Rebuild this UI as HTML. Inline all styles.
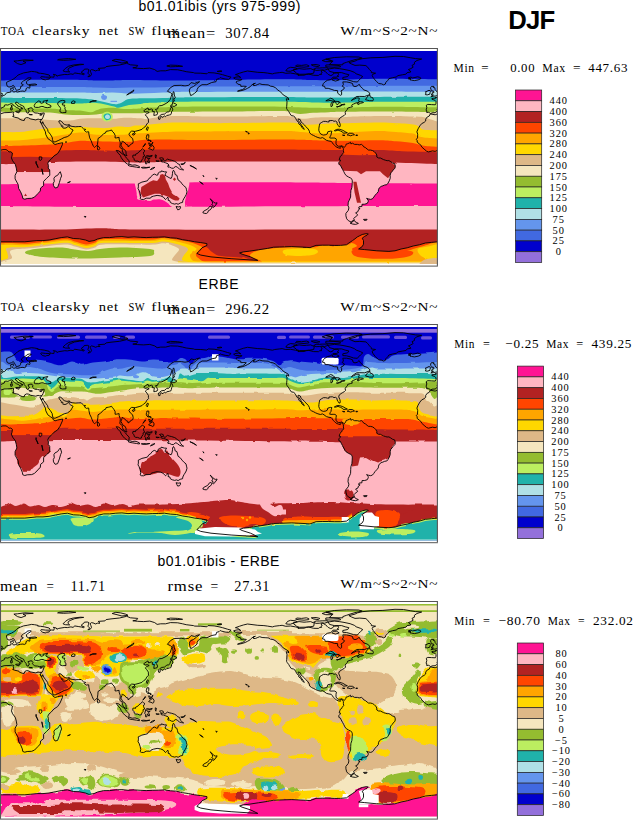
<!DOCTYPE html><html><head><meta charset="utf-8"><title>DJF</title><style>html,body{margin:0;padding:0;background:#fff}svg{display:block}</style></head><body><svg width="634" height="820" viewBox="0 0 634 820"><defs>
<path id="coast" d="M-6.7,-43.3L-1.9,-42.4L0.5,-43.3L4.1,-44.5L9,-44.7L12.6,-45.1L13.9,-44.7L13.2,-43.5L13.9,-41.1L12.6,-40.8L14.5,-40L18.7,-39.1L19.3,-38.1L22.3,-36.9L24.2,-36.7L24.8,-38.7L26.6,-39.6L28.4,-39.4L30.8,-38.2L35.7,-37.3L38.1,-38.1L39.7,-37.7L42,-37.8L40.1,-36.1L41.2,-33.8L43.6,-29L45.4,-25.4L45.8,-22.7L47.8,-18.7L50.3,-16.9L52.9,-15.1L53.1,-13.9L55.1,-12.7L57.6,-13.5L62.7,-14.5L62.4,-12.6L60,-7.2L57.6,-3.6L53.9,-1.2L50.9,2.2L49.1,3.6L47.8,6L48.4,8.5L48.2,10.9L49.7,12.7L49.8,18.1L46.6,21.1L43.6,24.2L43.6,28.4L40.6,30.8L40.3,33.8L38.1,36.2L34.5,39.9L31.7,41.1L27.2,41.3L24.8,42L22.8,41.3L22.3,38.7L20.5,34.4L18.7,31.4L18.1,27.2L15.1,21.7L15.1,18.1L16.9,14.5L16.3,10.9L15.3,7.2L12.6,3.6L11.4,0.6L12,-1.2L12.4,-4.2L10.8,-5.4L9,-5.3L7.2,-7L6,-7.6L2.9,-7.6L0.5,-6.9L-1.9,-5.8L-4.4,-6.3L-8.6,-5.3L-10.4,-6L-12.9,-8.1L-15.3,-10.3L-15.9,-11.8L-17.7,-13.3L-19.8,-15.1L-19.9,-16.9L-20.7,-17.8L-19.5,-19.3L-19.3,-23L-20.1,-25.4L-18.9,-28.4L-17.1,-31.4L-15.3,-33.6L-12.9,-34.8L-11.3,-36.2L-11.3,-38.1L-9.8,-40.2L-7.8,-41.1L-6.7,-43.3M430.3,-43.3L435.1,-42.4L437.5,-43.3L441.1,-44.5L446,-44.7L449.6,-45.1L450.9,-44.7L450.2,-43.5L450.9,-41.1L449.6,-40.8L451.5,-40L455.7,-39.1L456.3,-38.1L459.3,-36.9L461.2,-36.7L461.8,-38.7L463.6,-39.6L465.4,-39.4L467.8,-38.2L472.7,-37.3L475.1,-38.1L476.7,-37.7L479,-37.8L477.1,-36.1L478.2,-33.8L480.6,-29L482.4,-25.4L482.8,-22.7L484.8,-18.7L487.3,-16.9L489.9,-15.1L490.1,-13.9L492.1,-12.7L494.6,-13.5L499.7,-14.5L499.4,-12.6L497,-7.2L494.6,-3.6L490.9,-1.2L487.9,2.2L486.1,3.6L484.8,6L485.4,8.5L485.2,10.9L486.7,12.7L486.8,18.1L483.6,21.1L480.6,24.2L480.6,28.4L477.6,30.8L477.3,33.8L475.1,36.2L471.5,39.9L468.7,41.1L464.2,41.3L461.8,42L459.8,41.3L459.3,38.7L457.5,34.4L455.7,31.4L455.1,27.2L452.1,21.7L452.1,18.1L453.9,14.5L453.3,10.9L452.3,7.2L449.6,3.6L448.4,0.6L449,-1.2L449.4,-4.2L447.8,-5.4L446,-5.3L444.2,-7L443,-7.6L439.9,-7.6L437.5,-6.9L435.1,-5.8L432.6,-6.3L428.4,-5.3L426.6,-6L424.1,-8.1L421.7,-10.3L421.1,-11.8L419.3,-13.3L417.2,-15.1L417.1,-16.9L416.3,-17.8L417.5,-19.3L417.7,-23L416.9,-25.4L418.1,-28.4L419.9,-31.4L421.7,-33.6L424.1,-34.8L425.7,-36.2L425.7,-38.1L427.2,-40.2L429.2,-41.1L430.3,-43.3M60.3,14.5L61.6,18.7L60.6,21.1L59.4,25.4L57.6,30.2L55.1,30.8L53.5,28.4L53.3,26L54.3,24.2L53.9,21.1L55.1,19.3L57.6,18.1L58.8,16.3L60.3,14.5M42,-37.8L43,-39.9L44.2,-43.3L44.2,-44.3L41.8,-43.9L39.3,-43.6L37.5,-44.1L34.5,-44.3L33.6,-45.3L32.4,-46.5L33,-47.7L32.3,-48.6L32.1,-49.3L29.6,-49.3L29,-48.3L28.1,-48.9L28.4,-47.5L29.6,-45.9L28.4,-45.3L28.4,-44.1L27.2,-44.1L26.4,-45.3L26,-46.9L24.2,-48.9L24,-50.5L22.3,-51.6L19.9,-52.6L18.7,-53.8L17.5,-54.6L17,-55.1L15.6,-54.7L15.4,-53.5L16.9,-52.7L17.7,-51.2L19.9,-50.5L23,-48.7L22.3,-48.3L21,-48.8L20.7,-47.7L21.3,-47.1L20,-45.9L19.6,-45.9L19.9,-47.1L19.4,-48.3L18.1,-49.1L16.3,-49.8L14.8,-51L13.2,-52L12.9,-53L11.2,-53.6L9.6,-52.9L7.8,-52.1L6,-52.4L4.4,-52L4.4,-50.6L2.9,-49.9L1.1,-49.1L0.1,-47.7L0.7,-46.9L-0.3,-45.6L-1.9,-44.5L-5,-44.3L-6.3,-43.5L-7.1,-44.2L-8.5,-44.9L-10.3,-44.7L-10.2,-46.5L-11,-46.9L-10.2,-49.5L-10.7,-52L-9.2,-52.8L-5.6,-52.6L-1.7,-52.4L-1,-53.9L-1,-55.6L-2.2,-57L-5,-57.9L-5.2,-58.6L-3.1,-59L-1.4,-58.8L-1.7,-60.1L-1,-59.7L0.6,-59.8L2.3,-60.7L2.6,-61.6L4.7,-62.1L6,-63.4L6.6,-64.4L9,-64.8L10.8,-65.2L11.1,-66.5L10.5,-68.6L12,-69.1L13.4,-69.7L13,-68.4L13.6,-67.7L12.4,-66.7L12.6,-65.9L13.9,-65.2L15.7,-65.7L17.5,-65.2L20.5,-65.9L23,-66.2L24.2,-65.7L26,-66.7L26,-68.6L27.8,-69.7L29.6,-69L30.1,-70.4L29,-71.5L31.5,-71.9L34.5,-72L36.9,-72.5L35.1,-73.2L32.1,-73L28.4,-72.5L26.6,-73.5L26.4,-75.5L27.8,-76.7L30.8,-78.5L31.2,-79.3L29.4,-79.5L27.2,-79L26.4,-77.8L23.6,-76.4L21.5,-74.6L21.4,-73.3L23.3,-72.5L22.3,-71.3L20.8,-70.9L20.5,-68.9L19.9,-67.9L17.9,-67.2L16.3,-66.9L15.8,-67.9L14.8,-69.7L13.9,-71.3L13.2,-71.9L11.4,-70.7L9,-70.1L7.2,-71L6.6,-73.1L6.6,-74.9L9,-76.1L11.4,-77L13.9,-78.5L16.3,-80.4L18.1,-82.2L20.5,-83.1L23.6,-84.3L27.2,-84.9L31.5,-85.8L34.5,-85.5L38.1,-84.8L37.5,-84.2L40.6,-83.9L44.2,-83.4L49.1,-82.2L50.3,-80.7L49.1,-80L45.4,-80.1L41.2,-80.6L40.6,-79.7L42.7,-77.9L45.4,-77.3L46.6,-77.9L49.1,-78.2L49.7,-79.5L51.5,-80.2L53.9,-80L54.2,-81.9L53.3,-82.9L56.3,-82.2L56.9,-81L58.8,-81.8L64.8,-82.8L67.3,-82.6L70.9,-83.3L73.3,-82.8L74.5,-84.3L78.2,-83.7L81.8,-83.1L83.7,-82.4L84.3,-83.4L81.8,-84.1L81.6,-85.5L83.7,-86.8L84.3,-88L87.3,-88.2L88.9,-87.6L88.5,-85.8L87.9,-84L89.7,-82.2L87.9,-80.4L90.3,-81L91.5,-82.8L90.9,-84.6L90,-86.4L91.5,-87.6L94,-87L95.2,-86.2L97.6,-87L100,-87L98.2,-88.8L104.9,-89.3L106.1,-90.6L111,-91.3L119.5,-92.2L126.7,-93.9L130.4,-92.4L137.7,-91.8L136.5,-90L132.8,-89.4L137.7,-88.9L143.7,-88.6L149.8,-89.1L154.7,-87.6L157.1,-85.8L160.7,-86.4L165.6,-86.4L170.4,-87.6L177.7,-87.4L182.6,-86.4L186.2,-85.5L193.5,-84.6L194.7,-84.1L200.8,-84L206.9,-83.4L208.1,-84.6L214.1,-84.3L219,-83.4L222.6,-82.5L227.5,-81L231.1,-80L228.7,-77.8L225.1,-78.2L221.4,-79.1L220.2,-79.7L219,-78.5L216.6,-77.9L216,-75.5L211.7,-74.7L206.9,-72.5L202,-72.5L198.4,-70.1L197.1,-67.7L197.1,-66.2L194.7,-64L192.7,-62.6L190.7,-61.6L189.9,-64L189.3,-67.1L190.5,-69.5L193.5,-70.7L196.5,-73.1L199.6,-75.5L197.1,-74.9L194.7,-73.7L191.1,-74.6L188.7,-71.9L185,-71.3L181.4,-71.9L174.1,-71.7L170.4,-69.5L167.4,-65.9L170.4,-64.6L172,-63.1L171.1,-60.4L170.4,-58L168,-55L165,-53.2L161.9,-51.7L159.5,-51.4L158.1,-50.1L157.7,-48.3L155.3,-47.7L156.5,-46.5L157.6,-44.1L157.1,-42.5L155.3,-42L153.8,-41.8L154.1,-44.1L154.4,-45.7L152.2,-45.9L152.5,-47.7L151.3,-48.3L148.6,-47.2L148,-49.3L145,-47.4L143.7,-46.3L145,-45.1L147.4,-45.6L149.2,-44.7L146.8,-43.7L145.3,-42.3L146.8,-40.5L148.4,-38.1L148.4,-36.2L148.6,-35L146.8,-33.2L145.6,-30.8L143.7,-29.6L141.9,-27.8L139.1,-26.9L135.8,-26L134,-25.7L134.6,-24.5L133.8,-26L131.6,-26.1L130,-24.8L128.9,-23L130.4,-20.5L132.6,-18.7L133.2,-15.7L132.8,-13.9L130.4,-12.7L129.8,-11.5L128,-10.5L128,-12.1L126.1,-12.8L124.9,-14.5L123.1,-15.5L122.3,-16.3L121.9,-14.5L120.9,-12.1L121.9,-10.3L123.1,-8.2L124.7,-7.5L126,-5.4L126.1,-3L127,-1.7L126,-1.6L123.5,-3.4L122.4,-6L122.3,-7.9L119.8,-9.9L120.1,-12.1L120.3,-14.5L119.1,-18.1L119.1,-19.9L116.4,-19.3L115,-19.3L115.2,-21.7L114,-24.2L112.2,-26L111.6,-27.2L109.7,-26.6L108.5,-26.3L106.1,-25.9L105.5,-24.2L103.7,-23.6L100.6,-20.3L98,-18.7L97.9,-16.1L97.4,-12.4L96.4,-11.2L95.4,-10.6L94.6,-9.8L93.4,-10.9L92.1,-13.9L91.2,-16.3L89.7,-19.3L88.9,-23L88.7,-25.4L87.9,-25.4L86.4,-25.1L84.3,-26.8L85.7,-27.8L83.7,-28.2L82.2,-29.6L81.2,-30.7L78.2,-30.6L75.2,-30.4L72.1,-30.8L69.9,-31.4L69.4,-32.6L67,-32.1L64.8,-32.6L63,-33.8L61.8,-35.6L60,-36.6L58.8,-36.2L59.4,-34.4L61.2,-32.3L61.4,-30.8L62.7,-31.4L63,-30.2L62.7,-29.4L63.6,-29L66,-29.2L68.5,-31.1L69,-31.8L69.1,-30L70.3,-28.8L71.9,-27.8L73.1,-27.2L71.8,-25L70.7,-23L69.1,-21.7L67.3,-20.5L64.2,-19.7L61.2,-18.1L58.2,-16.6L55.1,-15.3L53.3,-15.3L52.5,-17.5L52.2,-19.9L50.3,-23L48.1,-25.7L47.6,-27.8L45.7,-30.4L43.6,-33.2L42.7,-35.5L42.1,-33.6L40.8,-34.4L40.1,-36.1M479,-37.8L480,-39.9L481.2,-43.3L481.2,-44.3L478.8,-43.9L476.3,-43.6L474.5,-44.1L471.5,-44.3L470.6,-45.3L469.4,-46.5L470,-47.7L469.3,-48.6L469.1,-49.3L466.6,-49.3L466,-48.3L465.1,-48.9L465.4,-47.5L466.6,-45.9L465.4,-45.3L465.4,-44.1L464.2,-44.1L463.4,-45.3L463,-46.9L461.2,-48.9L461,-50.5L459.3,-51.6L456.9,-52.6L455.7,-53.8L454.5,-54.6L454,-55.1L452.6,-54.7L452.4,-53.5L453.9,-52.7L454.7,-51.2L456.9,-50.5L460,-48.7L459.3,-48.3L458,-48.8L457.7,-47.7L458.3,-47.1L457,-45.9L456.6,-45.9L456.9,-47.1L456.4,-48.3L455.1,-49.1L453.3,-49.8L451.8,-51L450.2,-52L449.9,-53L448.2,-53.6L446.6,-52.9L444.8,-52.1L443,-52.4L441.4,-52L441.4,-50.6L439.9,-49.9L438.1,-49.1L437.1,-47.7L437.7,-46.9L436.7,-45.6L435.1,-44.5L432,-44.3L430.7,-43.5L429.9,-44.2L428.5,-44.9L426.7,-44.7L426.8,-46.5L426,-46.9L426.8,-49.5L426.3,-52L427.8,-52.8L431.4,-52.6L435.3,-52.4L436,-53.9L436,-55.6L434.8,-57L432,-57.9L431.8,-58.6L433.9,-59L435.6,-58.8L435.3,-60.1L436,-59.7L437.6,-59.8L439.3,-60.7L439.6,-61.6L441.7,-62.1L443,-63.4L443.6,-64.4L446,-64.8L447.8,-65.2L448.1,-66.5L447.5,-68.6L449,-69.1L450.4,-69.7L450,-68.4L450.6,-67.7L449.4,-66.7L449.6,-65.9L450.9,-65.2L452.7,-65.7L454.5,-65.2L457.5,-65.9L460,-66.2L461.2,-65.7L463,-66.7L463,-68.6L464.8,-69.7L466.6,-69L467.1,-70.4L466,-71.5L468.5,-71.9L471.5,-72L473.9,-72.5L472.1,-73.2L469.1,-73L465.4,-72.5L463.6,-73.5L463.4,-75.5L464.8,-76.7L467.8,-78.5L468.2,-79.3L466.4,-79.5L464.2,-79L463.4,-77.8L460.6,-76.4L458.5,-74.6L458.4,-73.3L460.3,-72.5L459.3,-71.3L457.8,-70.9L457.5,-68.9L456.9,-67.9L454.9,-67.2L453.3,-66.9L452.8,-67.9L451.8,-69.7L450.9,-71.3L450.2,-71.9L448.4,-70.7L446,-70.1L444.2,-71L443.6,-73.1L443.6,-74.9L446,-76.1L448.4,-77L450.9,-78.5L453.3,-80.4L455.1,-82.2L457.5,-83.1L460.6,-84.3L464.2,-84.9L468.5,-85.8L471.5,-85.5L475.1,-84.8L474.5,-84.2L477.6,-83.9L481.2,-83.4L486.1,-82.2L487.3,-80.7L486.1,-80L482.4,-80.1L478.2,-80.6L477.6,-79.7L479.7,-77.9L482.4,-77.3L483.6,-77.9L486.1,-78.2L486.7,-79.5L488.5,-80.2L490.9,-80L491.2,-81.9L490.3,-82.9L493.3,-82.2L493.9,-81L495.8,-81.8L501.8,-82.8L504.3,-82.6L507.9,-83.3L510.3,-82.8L511.5,-84.3L515.2,-83.7L518.8,-83.1L520.7,-82.4L521.3,-83.4L518.8,-84.1L518.6,-85.5L520.7,-86.8L521.3,-88L524.3,-88.2L525.9,-87.6L525.5,-85.8L524.9,-84L526.7,-82.2L524.9,-80.4L527.3,-81L528.5,-82.8L527.9,-84.6L527,-86.4L528.5,-87.6L531,-87L532.2,-86.2L534.6,-87L537,-87L535.2,-88.8L541.9,-89.3L543.1,-90.6L548,-91.3L556.5,-92.2L563.7,-93.9L567.4,-92.4L574.7,-91.8L573.5,-90L569.8,-89.4L574.7,-88.9L580.7,-88.6L586.8,-89.1L591.7,-87.6L594.1,-85.8L597.7,-86.4L602.6,-86.4L607.4,-87.6L614.7,-87.4L619.6,-86.4L623.2,-85.5L630.5,-84.6L631.7,-84.1L637.8,-84L643.9,-83.4L645.1,-84.6L651.1,-84.3L656,-83.4L659.6,-82.5L664.5,-81L668.1,-80L665.7,-77.8L662.1,-78.2L658.4,-79.1L657.2,-79.7L656,-78.5L653.6,-77.9L653,-75.5L648.7,-74.7L643.9,-72.5L639,-72.5L635.4,-70.1L634.1,-67.7L634.1,-66.2L631.7,-64L629.7,-62.6L627.7,-61.6L626.9,-64L626.3,-67.1L627.5,-69.5L630.5,-70.7L633.5,-73.1L636.6,-75.5L634.1,-74.9L631.7,-73.7L628.1,-74.6L625.7,-71.9L622,-71.3L618.4,-71.9L611.1,-71.7L607.4,-69.5L604.4,-65.9L607.4,-64.6L609,-63.1L608.1,-60.4L607.4,-58L605,-55L602,-53.2L598.9,-51.7L596.5,-51.4L595.1,-50.1L594.7,-48.3L592.3,-47.7L593.5,-46.5L594.6,-44.1L594.1,-42.5L592.3,-42L590.8,-41.8L591.1,-44.1L591.4,-45.7L589.2,-45.9L589.5,-47.7L588.3,-48.3L585.6,-47.2L585,-49.3L582,-47.4L580.7,-46.3L582,-45.1L584.4,-45.6L586.2,-44.7L583.8,-43.7L582.3,-42.3L583.8,-40.5L585.4,-38.1L585.4,-36.2L585.6,-35L583.8,-33.2L582.6,-30.8L580.7,-29.6L578.9,-27.8L576.1,-26.9L572.8,-26L571,-25.7L571.6,-24.5L570.8,-26L568.6,-26.1L567,-24.8L565.9,-23L567.4,-20.5L569.6,-18.7L570.2,-15.7L569.8,-13.9L567.4,-12.7L566.8,-11.5L565,-10.5L565,-12.1L563.1,-12.8L561.9,-14.5L560.1,-15.5L559.3,-16.3L558.9,-14.5L557.9,-12.1L558.9,-10.3L560.1,-8.2L561.7,-7.5L563,-5.4L563.1,-3L564,-1.7L563,-1.6L560.5,-3.4L559.4,-6L559.3,-7.9L556.8,-9.9L557.1,-12.1L557.3,-14.5L556.1,-18.1L556.1,-19.9L553.4,-19.3L552,-19.3L552.2,-21.7L551,-24.2L549.2,-26L548.6,-27.2L546.8,-26.6L545.5,-26.3L543.1,-25.9L542.5,-24.2L540.7,-23.6L537.6,-20.3L535,-18.7L534.9,-16.1L534.4,-12.4L533.4,-11.2L532.4,-10.6L531.6,-9.8L530.4,-10.9L529.1,-13.9L528.2,-16.3L526.7,-19.3L525.9,-23L525.7,-25.4L524.9,-25.4L523.4,-25.1L521.3,-26.8L522.7,-27.8L520.7,-28.2L519.2,-29.6L518.2,-30.7L515.2,-30.6L512.2,-30.4L509.1,-30.8L506.9,-31.4L506.4,-32.6L504,-32.1L501.8,-32.6L500,-33.8L498.8,-35.6L497,-36.6L495.8,-36.2L496.4,-34.4L498.2,-32.3L498.4,-30.8L499.7,-31.4L500,-30.2L499.7,-29.4L500.6,-29L503,-29.2L505.5,-31.1L506,-31.8L506.1,-30L507.3,-28.8L508.9,-27.8L510.1,-27.2L508.8,-25L507.7,-23L506.1,-21.7L504.3,-20.5L501.2,-19.7L498.2,-18.1L495.2,-16.6L492.1,-15.3L490.3,-15.3L489.5,-17.5L489.2,-19.9L487.3,-23L485.1,-25.7L484.6,-27.8L482.7,-30.4L480.6,-33.2L479.7,-35.5L479.1,-33.6L477.8,-34.4L477.1,-36.1M233.6,-79.3L236,-80.1L238.4,-80.4L240.8,-79.7L239,-81L237.2,-82.2L235.4,-82.5L239.6,-84L243.3,-85.2L247.5,-86.2L253,-85.5L257.8,-84.9L263.9,-84.6L267.6,-84.1L272.4,-83.3L274.8,-84L279.7,-84.6L282.1,-84.9L285.8,-83.9L290.6,-84.2L295.5,-83.3L299.1,-82.4L297.9,-81.9L304,-82L306.4,-82.8L308.8,-83.1L313.7,-81.9L318.5,-81.8L319.8,-82.8L321.6,-82.8L321,-84L322.2,-84.6L321,-86.2L322.8,-87L325.8,-85.2L327,-84L328.2,-82.8L330.7,-81.6L332.5,-82.2L333.7,-84L338,-84.3L338.6,-82.8L337.4,-81.6L338.8,-81L336.1,-80L333.1,-80.1L331.9,-78.9L330.7,-77.6L327.6,-77L325.2,-75.5L323.4,-73.7L322.4,-71.3L324.6,-70.9L325.2,-68.9L328.2,-68.9L331.9,-67.7L334.3,-66.8L337.6,-66.6L337.7,-64L339.2,-62.8L340.4,-61.9L341.6,-62.5L341.6,-65.2L340.8,-66.2L343.4,-67.7L344.5,-69.5L342.2,-71L343.4,-72.5L342.8,-75.3L346.5,-75.3L350.1,-74.6L352.5,-73.7L353.1,-71.3L355,-70.6L357.4,-71.3L359.1,-73L360.4,-70.7L362.5,-68.9L363.5,-67.4L367.1,-66.2L369.5,-64.4L369.9,-62.8L368.3,-62.1L364.7,-60.7L359.8,-60.8L356.8,-60.7L353.7,-58.8L351.3,-56.7L353.7,-57.8L356.8,-59.3L359.2,-59.2L359.2,-58L358.6,-57L358.8,-55.8L360.4,-55.5L362.8,-55.2L363.5,-54.7L360.4,-53.9L358,-52.6L357.1,-53.5L359.2,-54.7L356.2,-54.4L353.7,-53.2L352.2,-52.6L351.7,-51.4L352.5,-50.5L350.7,-50L347.7,-49.1L347.4,-47.7L346.1,-46.5L345.2,-44.9L345.5,-43L344.4,-41.9L342.8,-41L341,-39.9L339.2,-38.4L338.7,-36.6L339.8,-34.1L340.3,-32L339.9,-30.4L338.9,-30.6L338.2,-31.8L337.1,-33.5L337.1,-35L335.5,-36.2L334,-35.9L332.5,-36.7L330.1,-36.6L328.9,-36.5L329.1,-35.3L327.6,-35.3L325.8,-35.8L323.4,-35.8L321.8,-34.9L319.8,-33.6L319.3,-31.4L318.9,-29L318.8,-26.9L319.5,-24.9L320.7,-23.2L322.2,-22.5L323.4,-22.1L325.8,-22.5L327.3,-23.3L327.8,-25.4L330.7,-26.1L331.9,-25.9L331.3,-24.2L331,-22.1L330.3,-21.1L329.7,-19.3L330.7,-19.1L333.1,-19.2L334.9,-19.1L336.4,-18.1L336,-15.7L336,-13.3L337,-11.7L338.6,-10.9L340.4,-11.1L341.6,-11.5L343.4,-10.4L344.3,-9.7L345.7,-11.6L346.1,-13L347.7,-13.5L349.7,-14.4L350.5,-15L350.9,-13.3L352.5,-14L354.6,-12.8L357.4,-12.8L359.2,-12.3L361.6,-12.8L362.5,-12.1L363.7,-10.4L365.3,-9.7L367.1,-8.2L368.3,-7.2L370.7,-7.1L372.6,-6.6L374.4,-5.4L375.6,-4.2L376.8,-2.2L376.8,-0.2L378.6,0.8L380.4,0.8L383.5,2.4L385.3,3L387.1,3.5L388.9,3.4L390.8,4.5L392.6,5.8L394.6,6.4L395.3,8.7L395,10.9L393.2,12.8L392,14.5L390.8,15.7L390.2,18.1L390.2,21.1L389.3,23.6L388,26L386.8,27.5L384.7,27.8L382.9,28.6L381.1,29.2L379.2,30.8L378.5,32.6L378.3,34.4L376.8,36.2L375,38.1L373.8,39.9L372.4,41.6L370.7,42.2L368.3,41.7L366.6,41.1L368.1,42.9L368.3,44.1L367.3,46.2L364.7,47L362,47.1L361.9,49.3L359.2,49.5L358.6,51L360.1,51.4L358.4,52.6L358,54.4L355.6,55.6L357.4,57.4L357.6,58L355.2,59.8L353.7,61.4L354.5,63.2L353.1,63.4L351.3,65L348.3,63.4L346.7,61.6L345.9,58.6L345.9,56.2L348.3,53.2L348.9,50.7L348,48.3L348.3,44.9L349.3,42.9L350.6,39.9L350.7,36.2L350.9,33.2L351.9,30.2L352.2,26.6L352.3,23.6L352,22.1L350.7,20.9L348.3,19.7L346.2,18.4L344.9,16.7L343.8,14.5L342.5,12.1L341.2,9.7L340.4,7.9L338.9,7.2L338.8,5.4L340,4.1L340.6,3L339.2,2.7L339.8,0.6L340.4,-1L341.8,-1.8L342.2,-3L343.7,-4.6L343.4,-6.6L343.4,-8.5L342.6,-10L341,-10.8L340,-9.9L340.4,-8.9L338.6,-9.3L337,-9.9L335.9,-10.6L334.3,-12.1L333.3,-13L331.9,-15.1L331.2,-15.9L328.9,-16.2L326.4,-16.9L324,-18.7L322.5,-19.6L320.4,-19L317.9,-19.7L315.5,-20.7L313.7,-21.7L311.5,-22.7L309.6,-24.3L309.4,-26L308.2,-28.2L305.8,-30.6L304.6,-32.1L302.8,-33.8L301.2,-35L300.3,-37.5L298.3,-38.3L298.1,-36.9L300,-34.4L301.5,-32L303.4,-29.4L304.3,-27.8L303.7,-28.2L301.5,-30L301.3,-31.4L298.9,-33.2L298.5,-34.8L296.9,-36.5L295.7,-38.7L295.1,-39.9L293.7,-41.1L291.2,-41.7L289.6,-44.1L288.8,-45.6L287.2,-47.7L286.6,-48.8L286.7,-50.7L286.9,-53.2L287,-55.8L286.2,-58.4L288.2,-58.2L288.7,-57.2L288.4,-59.2L286,-60.7L283.3,-62.2L282.1,-63.8L279.7,-65.9L277.9,-67.1L275.4,-69.5L273,-70.7L270.6,-71L268.2,-72.3L265.1,-72.5L262.1,-72.7L259.7,-73.5L257.2,-72.5L255.4,-71.7L253.4,-71.7L253.6,-73.5L255.4,-73.9L253,-73.1L251.2,-71.7L250,-70.3L247.5,-68.9L245.1,-67.7L242.1,-66.7L239,-66.1L237.5,-66L240.2,-67.1L242.7,-67.7L245.1,-69.5L246.3,-70.8L243.9,-71L240.8,-70.8L240.8,-72.3L237.8,-73.1L236.6,-74.3L236,-75.2L237.5,-76.1L240.2,-76.7L242.1,-77.8L239.6,-77.9L235.4,-78.1L233.6,-79.3M354.3,63.7L351.9,64L351.9,65.5L350.1,65.9L352.5,66.8L355.6,67.2L358.4,66.2L356.8,65.4L355,64.4L354.3,63.7M363.5,62.2L367.1,62.1L366.5,63.1L364.1,63.1L363.5,62.2M348.9,-94.6L355,-96.1L357.4,-97.3L362.2,-98.5L370.7,-99.4L382.9,-99.8L395,-100.9L403.5,-100.7L410.8,-99.4L415.6,-98.6L421.7,-98.2L416.9,-96.7L414.4,-94.9L414.4,-93L412,-91.8L413.2,-90L410.8,-88.6L408.4,-87.6L410.2,-86.4L410.8,-85.2L407.2,-84.6L405.9,-83L402.3,-82.4L398,-81.6L396.2,-80.2L392.6,-79.5L388.9,-78.5L387.7,-76.7L385.9,-74.9L385.3,-73.1L383.5,-72.4L381.7,-73.3L378.6,-73.7L376.8,-75.5L375,-77.3L373.2,-79.7L372.2,-81.6L372.6,-82.8L375.6,-84L371.3,-84.6L371.3,-85.8L369.5,-87.6L367.7,-90L365.9,-91.6L359.8,-92.1L355,-91.8L351.3,-93.3L348.9,-94.6M138.3,26.6L139.1,26.3L141.9,24.9L145,24.2L147.4,23.6L149,21.1L150.4,20.5L151,19.6L152.8,17.5L154.7,16.9L156.5,18L157.7,17.9L158.3,15.7L159.3,15L161.3,14.5L161.3,13.7L164.4,14.6L166.6,14.7L165.6,16.3L165,17.9L166.8,19.1L169.2,20.5L171.1,21.3L172,19.3L172.5,16.3L172.6,14.5L173.5,13L174.7,15.1L175.1,17.3L176.9,18.1L177.5,20.5L178.1,22.8L180.2,24.2L182,26.6L183.6,28.4L186,30.4L186.5,32.6L187,34.7L186.2,37.5L185,39.6L184,41.1L182.8,43.5L182.6,45.2L180.2,45.8L178.1,47.1L176.5,46.4L174.7,46.9L172.3,46.3L170.4,45.3L169.8,43.5L168,43L168.4,41.7L167.8,39.9L166.8,41.1L165.6,42.3L165,41.9L163.4,39.9L160.7,38.7L157.1,38.2L153.4,39L151,39.9L150.4,41L146.2,41L143.7,42.3L141.3,42.2L140.1,41.4L140.8,39.3L140.1,36.2L139.1,33.2L138,31.4L138.4,29.6L138.3,26.6M176.1,49.2L178.3,49.7L180.4,49.3L180.5,50.7L179.5,52.2L177.7,52.6L176.8,51L176.1,49.2M210.1,41.6L211.7,42.9L212.9,44.1L213.9,45.3L215.4,45.9L217.1,45.6L216.3,47.4L215.4,47.7L215.1,48.9L213.3,50.3L212.7,49.9L213.2,48.3L211.7,47.5L212.6,46.2L212.4,44.7L210.7,42.3L210.1,41.6M210.1,48.9L212,49.8L211.7,50.7L210.3,52.6L208.4,53.5L207.8,55.3L206.3,56.3L204.8,56.2L202.9,55.6L203.2,54.4L205,53.2L207.5,52L208.7,50.5L209.5,49.3L210.1,48.9M159.5,1L161.3,0.5L163.2,1L163.4,2.8L165,4L167.4,1.9L169.8,2.7L171.7,3.1L174.7,4.1L176.5,5.2L177.7,6.6L179.5,7.2L179.9,8.5L180.8,10.3L182.6,12.1L183.6,12.7L181.4,12.4L179.5,11.8L177.7,10.3L175.9,9.2L174.1,10.3L173.5,11.1L171.7,11L169.2,9.7L168,10L167.8,8.5L169,8.2L168,6.6L165.6,5.6L163.2,4.7L161.7,4.8L160.7,3.4L162.6,3L161.3,2.7L159.5,1M132.8,-1.8L134,-2.2L135.5,-1.8L135.6,-3L137.7,-3.9L138.9,-5.4L140.7,-6.6L142.3,-8.5L143.5,-7.6L145,-6.4L143.7,-5.2L143.5,-3.6L144.7,-1.2L143.1,-0.6L143.1,1.2L141.9,2.7L141.3,4.6L139.6,4.8L137.7,3.9L135.8,3.9L134.3,3L134,1.4L132.8,0L132.8,-1.8M116.2,-6.8L118.9,-6.3L121.9,-3.6L123.7,-2.4L125.5,-0.6L126.7,1.2L129.2,3.6L128.9,7L127.4,6.9L124.7,4.8L123.1,3L121.3,0.6L120.3,-1.8L118.2,-4L116.2,-6.8M128.2,8.2L129.8,7.2L132.2,8L135,7.7L137.2,8.3L139.5,9.4L139.4,10.5L136.5,10L132.8,9.4L129.8,8.9L128.2,8.2M145.9,-1L147.1,-1.6L149.8,-1.2L152.2,-1.9L151.6,-0.5L148.6,-0.6L146.5,0L147.4,1.2L150.2,1.1L148.4,2.3L149.6,4.8L149,6L147.4,3.6L146.8,6.6L145.6,6.6L145.6,4.2L144.7,3.4L145.9,-1M146.9,-22.4L148.8,-22.4L148.8,-19.9L148,-18.7L148.6,-17.2L151,-16.7L151,-15.2L149.6,-16.6L148,-16.6L146.9,-17.5L146.2,-19.3L146.7,-21.1L146.9,-22.4M148.6,-8.5L150.4,-10.4L152.8,-11.8L154.1,-9.7L153.7,-7.6L152.8,-7L151,-7.9L148.6,-8.5M148.6,-14.3L150.1,-13.9L150.4,-12.1L152.2,-13.5L152.8,-15.1L151.6,-12.1L149.8,-11.1L149.2,-12.7L148.6,-14.3M142.8,-10.1L145.6,-12.8L145.3,-13.7L142.8,-10.1M150.4,12.4L152.2,10.9L154.9,10.1L152.8,11.6L150.4,12.4M141.3,10.3L143.7,10L146.2,10.3L149.8,10L146.2,10.8L142.5,10.9L141.3,10.3M155.3,-2.4L156.5,-1.8L155.9,0L155.9,1L155.3,-0.6L155.3,-2.4M155.9,3.6L159.3,3.9L157.1,4.2L155.9,3.6M148,-30.4L148.4,-29.6L147.3,-26.6L146.2,-28L147.1,-30L148,-30.4M132.4,-23.3L134.6,-24.2L135.2,-23.6L134,-22.1L132.6,-22.4L132.4,-23.3M97.6,-11.7L99.1,-10.3L99.8,-8.5L98.6,-7.2L97.6,-7.5L97.4,-9.7L97.6,-11.7M158.5,-40.5L159.5,-41.1L161.3,-42.7L164.4,-43.1L166.2,-44.5L167,-45.3L168.6,-45.1L170.2,-47.1L170.4,-48.9L172,-50L172.6,-48.3L172.9,-47.1L171.7,-45.9L171.4,-44.1L170.7,-42.5L169.6,-42.3L168,-41.9L166.8,-41.8L165.6,-40.5L164.4,-41.4L163.4,-40.2L161.9,-39.9L161.3,-41L160.1,-40.1L160.1,-38.1L158.9,-37.7L158.3,-39.3L158.5,-40.5M170.8,-50.1L171.7,-51.4L174.1,-50.7L176.9,-52.3L175.9,-53.2L173.8,-54.1L172.6,-55L172.3,-52.6L170.8,-52L170.8,-50.1M172.9,-55.6L174.5,-56.5L173.8,-58L175.3,-59.4L174.3,-62.2L174.1,-64.6L173.5,-65.6L172.9,-64L172.6,-61.6L173.1,-59.2L172.9,-55.6M-6.2,-60.5L-3.7,-60.9L-1.3,-61.3L2.1,-61.9L2.3,-63.7L0.9,-64L0.5,-65L-1.1,-66.5L-1.9,-67.7L-2.2,-69.5L-3.7,-69.7L-3.1,-70.8L-5.6,-70.8L-6.4,-69.5L-6.2,-68L-5.3,-67.1L-5.3,-66.2L-3.4,-66.2L-3.1,-64.6L-5,-64.3L-4.7,-63.1L-5.8,-62.6L-3.5,-62.1L-5,-61.6L-6.2,-60.5M430.8,-60.5L433.3,-60.9L435.7,-61.3L439.1,-61.9L439.3,-63.7L437.9,-64L437.5,-65L435.9,-66.5L435.1,-67.7L434.8,-69.5L433.3,-69.7L433.9,-70.8L431.4,-70.8L430.6,-69.5L430.8,-68L431.7,-67.1L431.7,-66.2L433.6,-66.2L433.9,-64.6L432,-64.3L432.3,-63.1L431.2,-62.6L433.5,-62.1L432,-61.6L430.8,-60.5M430,-64.4L429.9,-63.1L427.2,-62.3L425.4,-62.6L426,-64.3L425.4,-65.5L427.4,-65.9L427.8,-66.7L430.2,-66.7L430.7,-65.9L430,-64.4M410.2,-77.3L411.4,-77.1L414.4,-76.6L418.1,-77.3L420.5,-78.3L420.9,-79.1L419.3,-80L417.5,-80.4L415,-79.7L412.6,-79.3L410.8,-80.2L408.4,-79.4L410.8,-78.9L408.4,-78.4L410.8,-77.8L410.2,-77.3M13.9,-96.1L17.5,-93.6L21.1,-92.6L26,-94.5L23,-96.1L33.3,-96.9L24.8,-97.4L17.5,-96.4L13.9,-96.1M63,-86.4L65.4,-85.5L69.7,-85.3L67.9,-87L68.5,-88.8L70.9,-90L74.5,-91.5L79.4,-92.3L83.7,-92.8L80.6,-93L73.3,-92.2L68.5,-90.9L65.4,-88.8L63,-86.4M117,-95.5L121.9,-94.2L128,-94.9L125.5,-96.1L120.7,-97.3L115.8,-97.9L112.2,-96.7L117,-95.5M166.8,-91.2L170.4,-90.4L175.3,-90.6L182.6,-90.9L177.7,-91.8L170.4,-92.1L166.8,-91.2M57.6,-97.3L63.6,-96.9L70.9,-97.3L75.8,-97.9L68.5,-98.7L58.8,-97.9L57.6,-97.3M217.2,-85.8L220.2,-86.4L222,-86L219,-85.5L217.2,-85.8M362.8,-80.6L360.4,-78.5L358.6,-76.7L357.4,-75.2L353.7,-75.5L350.1,-76.7L346.5,-77.7L342.8,-77.9L342.8,-79.7L347.7,-80.7L348.9,-82.5L345.2,-83.4L341.6,-84.6L334.3,-84.6L329.5,-85.8L328.2,-88.2L334.3,-89.1L339.2,-88.6L344,-87.8L350.1,-86.5L354.3,-84.9L356.2,-83.4L360.4,-81.9L362.8,-80.6M310,-83.4L313.7,-84L314.3,-87L310.6,-88.6L306.4,-88.2L304,-88L299.1,-88.6L293.7,-87.8L293.7,-86.2L296.1,-84.6L296.7,-83.7L299.7,-82.9L305.2,-83L310,-83.4M285.8,-86.4L287.6,-88.8L290.6,-89.9L295.5,-89.4L297.3,-88.4L293,-87L290.6,-86L288.2,-86L285.8,-86.4M342.8,-92.4L329.5,-92.4L330.7,-94.2L333.1,-96.1L325.8,-98.2L334.3,-99.7L346.5,-100.4L358.6,-100.2L362.2,-99.1L355,-97.6L350.1,-96.1L346.5,-94.9L342.8,-93.6L342.8,-92.4M340.4,-90.3L333.1,-90L325.8,-90.4L325.8,-92.2L330.7,-92.4L338,-91.8L340.4,-91.2L340.4,-90.3M308.8,-90.6L304,-90L299.1,-90.4L295.5,-91L296.7,-92.2L301.5,-91.8L306.4,-92.4L308.8,-91.6L308.8,-90.6M319.8,-87L316.1,-86.8L313.7,-88L316.1,-89.2L319.8,-89.2L322.2,-89.4L327.6,-89.4L328.2,-88.2L324.6,-87L322.2,-87.4L319.8,-87M331.9,-95.5L325.8,-95.5L322.2,-96.7L325.8,-97.9L330.7,-97L331.9,-95.5M318.5,-90.6L313.7,-91.2L311.3,-92.4L316.1,-92.7L319.8,-91.8L318.5,-90.6M331.9,-77.3L335.5,-76.1L339.2,-77.3L336.7,-78.9L333.1,-78.9L331.9,-77.3M365.5,-57.5L369.5,-56.5L372.9,-56.4L373.4,-57.8L372.6,-59.6L370.1,-60.4L369.9,-62.2L367.9,-61L366.5,-59.2L365.5,-57.5M334.3,-26.5L336.7,-27.8L339.2,-28L342.8,-26.9L345.9,-25.1L347.4,-24.4L343.4,-24L342.8,-25L340.4,-26.2L338,-27.1L335.5,-26.3L334.3,-26.5M347.2,-22.2L349.1,-24L352.5,-23.9L354.5,-22.5L352.5,-22.1L350.7,-21.4L348.9,-22L347.2,-22.2M342.5,-22.1L344.9,-21.9L344,-21.5L342.5,-22.1M355.9,-22.2L357.7,-22.1L357.4,-21.7L355.9,-21.7L355.9,-22.2M325.8,-56.4L328.9,-58L330.7,-59L333.1,-58L334.7,-56.3L332.5,-56.2L330.1,-56.8L328.2,-56.4L325.8,-56.4M331,-50.5L332.5,-51.4L332.7,-53.8L334.3,-55.3L335.5,-55.5L336.1,-53.8L337.4,-52.2L338.3,-53.5L338.8,-54.7L340.4,-54.1L339.2,-55.6L335.5,-55.9L333.7,-55.6L331.9,-55L330.9,-53.2L331,-50.5M336.4,-50.5L339.2,-50.7L341.6,-51.7L339.8,-51.4L337.4,-50.1L336.4,-50.5M340.8,-52.3L344.9,-53.2L344.6,-52.4L340.8,-52.3M34.5,-50.1L35.7,-49.8L38.7,-49.8L41.2,-50.7L43,-50.7L44.8,-49.9L47.2,-49.5L50.9,-50.1L50.9,-51.6L48.4,-52.8L46,-54L46,-54.7L47.8,-57L43,-55.9L43.6,-54.7L41.2,-53.8L40,-54.9L40.6,-55.6L38.7,-56.3L36.9,-55L35.3,-53.8L34.2,-51.7L34.5,-50.1M60,-45.3L62.4,-44.5L66,-44.7L65.8,-47.1L64.6,-48.3L65.4,-49.5L64.2,-50.5L64.8,-52L62.4,-52.2L62.4,-53.8L64.8,-54.7L64.8,-56.5L62.4,-56.8L60,-56.2L58.2,-55L57.6,-53.2L58.5,-51.7L60.3,-49.5L60.6,-48.7L60,-47.1L60,-45.3M89.7,-55L92.8,-56.5L96.4,-56.3L92.8,-55.9L89.7,-55M71.5,-53.8L74.5,-53.8L75.2,-55.6L73.3,-56.4L71.5,-55.3L71.5,-53.8M126.7,-62.2L129.2,-63.4L132.8,-65.2L134,-67.3L132.2,-65.9L129.2,-64L126.7,-62.2M39.3,-0.4L41.8,-0.2L41.8,1.8L40.6,3.3L39.1,2.4L39.3,-0.4M36.1,4.1L36.3,6L37.5,8.5L38.1,10.5L37.2,8.5L35.9,6L36.1,4.1M41.8,11.6L42.4,13.9L43,17.3L42.3,14.5L41.8,11.6M15.7,-45.9L19.3,-46.2L19,-44.3L15.7,-45.4L15.7,-45.9M10.5,-49.5L12.3,-49.5L12.2,-47.4L10.8,-47.1L10.5,-49.5M11.1,-51.5L12,-52L11.9,-50.1L11.1,-51.5M29,-42.9L32.4,-42.5L29.6,-42.3L29,-42.9M39.7,-42.3L42.4,-43L41.2,-41.9L39.7,-42.3M248.1,-24.4L249.3,-23.9L248.6,-23L248.1,-24.4M245.5,-26L246.1,-25.7L247.5,-25.1L245.8,-25.7L245.5,-26M84.3,59.2L86.1,59.4L84.9,60.1L84.3,59.2M199.6,24.4L202.6,26.3L203.2,27.1L200.8,25.7L199.6,24.4M215.7,21.1L217.3,21.3L216.6,22L215.7,21.1M189.9,8.2L193.5,9.7L196.5,11.8L194.1,10.4L189.9,8.2M180.8,6.8L183.2,6.5L185.3,5.1L184.4,6.6L182,7.5L180.8,6.8M203,18.1L203.8,19.6L203.5,18.7L203,18.1M65.3,-15.2L66.7,-15.2L65.8,-14.9L65.3,-15.2M67.6,25.4L70.4,24.4L70.3,24.6L67.7,25.6L67.6,25.4M0.5,84.6L12.6,84.6L24.8,84.6L36.9,83.4L43,83.4L49.1,82.8L55.1,81.6L61.2,80.4L67.3,79.7L73.3,81.3L79.4,81.6L85.5,82.8L89.1,84.2L94,83.4L97.6,81.8L103.7,80.4L109.7,80.4L115.8,79.7L121.9,79.4L128,80.1L134,79.7L140.1,80.1L146.2,80.4L152.2,80.1L158.3,80L164.4,79.7L170.4,80.6L176.5,81L182.6,82.5L188.7,83.4L194.7,84.6L200.8,85.4L206.9,86.4L206.9,88.2L202,90.6L199.6,93.6L196.8,96.2L200.8,97.9L211,99.7L231.1,101.5L257.8,103.2L250.6,99.7L242.1,97L239.6,95.7L243.3,94.7L249.3,94L258.3,92.6L267.6,91.2L273.6,90L279.7,89.8L291.8,89.4L304,90L310,90.4L316.1,88.2L322.2,88L328.2,88L334.3,88.2L340.4,88.2L346.5,87.6L348.9,85.8L352.5,83.4L355,81.6L357.4,79.7L359.8,78.5L362.2,77.3L365.9,76.5L368.3,76.7L367.1,77.9L364.7,79.1L362.2,81L363.5,83.4L363.5,87L362.2,89.4L358.6,91.8L364.7,92.4L376.8,93.6L388.9,94.2L395,93.6L401.1,91.8L407.2,90.6L413.2,88.8L419.3,87.6L425.4,85.8L431.4,85.2L437.5,84.6"/>
<clipPath id="dc0"><rect x="1" y="51" width="436" height="213"/></clipPath>
<clipPath id="fc0"><rect x="0" y="48.5" width="437.4" height="217.5"/></clipPath>
<clipPath id="dc1"><rect x="1" y="327" width="436" height="213.3"/></clipPath>
<clipPath id="fc1"><rect x="0" y="324.5" width="437.4" height="218"/></clipPath>
<clipPath id="dc2"><rect x="1" y="604" width="436" height="212.6"/></clipPath>
<clipPath id="fc2"><rect x="0" y="601.5" width="437.4" height="217.5"/></clipPath>
<clipPath id="L_africa"><path d="M-6.7,-43.3L-1.9,-42.4L0.5,-43.3L4.1,-44.5L9,-44.7L12.6,-45.1L13.9,-44.7L13.2,-43.5L13.9,-41.1L12.6,-40.8L14.5,-40L18.7,-39.1L19.3,-38.1L22.3,-36.9L24.2,-36.7L24.8,-38.7L26.6,-39.6L28.4,-39.4L30.8,-38.2L35.7,-37.3L38.1,-38.1L39.7,-37.7L42,-37.8L40.1,-36.1L41.2,-33.8L43.6,-29L45.4,-25.4L45.8,-22.7L47.8,-18.7L50.3,-16.9L52.9,-15.1L53.1,-13.9L55.1,-12.7L57.6,-13.5L62.7,-14.5L62.4,-12.6L60,-7.2L57.6,-3.6L53.9,-1.2L50.9,2.2L49.1,3.6L47.8,6L48.4,8.5L48.2,10.9L49.7,12.7L49.8,18.1L46.6,21.1L43.6,24.2L43.6,28.4L40.6,30.8L40.3,33.8L38.1,36.2L34.5,39.9L31.7,41.1L27.2,41.3L24.8,42L22.8,41.3L22.3,38.7L20.5,34.4L18.7,31.4L18.1,27.2L15.1,21.7L15.1,18.1L16.9,14.5L16.3,10.9L15.3,7.2L12.6,3.6L11.4,0.6L12,-1.2L12.4,-4.2L10.8,-5.4L9,-5.3L7.2,-7L6,-7.6L2.9,-7.6L0.5,-6.9L-1.9,-5.8L-4.4,-6.3L-8.6,-5.3L-10.4,-6L-12.9,-8.1L-15.3,-10.3L-15.9,-11.8L-17.7,-13.3L-19.8,-15.1L-19.9,-16.9L-20.7,-17.8L-19.5,-19.3L-19.3,-23L-20.1,-25.4L-18.9,-28.4L-17.1,-31.4L-15.3,-33.6L-12.9,-34.8L-11.3,-36.2L-11.3,-38.1L-9.8,-40.2L-7.8,-41.1L-6.7,-43.3ZM430.3,-43.3L435.1,-42.4L437.5,-43.3L441.1,-44.5L446,-44.7L449.6,-45.1L450.9,-44.7L450.2,-43.5L450.9,-41.1L449.6,-40.8L451.5,-40L455.7,-39.1L456.3,-38.1L459.3,-36.9L461.2,-36.7L461.8,-38.7L463.6,-39.6L465.4,-39.4L467.8,-38.2L472.7,-37.3L475.1,-38.1L476.7,-37.7L479,-37.8L477.1,-36.1L478.2,-33.8L480.6,-29L482.4,-25.4L482.8,-22.7L484.8,-18.7L487.3,-16.9L489.9,-15.1L490.1,-13.9L492.1,-12.7L494.6,-13.5L499.7,-14.5L499.4,-12.6L497,-7.2L494.6,-3.6L490.9,-1.2L487.9,2.2L486.1,3.6L484.8,6L485.4,8.5L485.2,10.9L486.7,12.7L486.8,18.1L483.6,21.1L480.6,24.2L480.6,28.4L477.6,30.8L477.3,33.8L475.1,36.2L471.5,39.9L468.7,41.1L464.2,41.3L461.8,42L459.8,41.3L459.3,38.7L457.5,34.4L455.7,31.4L455.1,27.2L452.1,21.7L452.1,18.1L453.9,14.5L453.3,10.9L452.3,7.2L449.6,3.6L448.4,0.6L449,-1.2L449.4,-4.2L447.8,-5.4L446,-5.3L444.2,-7L443,-7.6L439.9,-7.6L437.5,-6.9L435.1,-5.8L432.6,-6.3L428.4,-5.3L426.6,-6L424.1,-8.1L421.7,-10.3L421.1,-11.8L419.3,-13.3L417.2,-15.1L417.1,-16.9L416.3,-17.8L417.5,-19.3L417.7,-23L416.9,-25.4L418.1,-28.4L419.9,-31.4L421.7,-33.6L424.1,-34.8L425.7,-36.2L425.7,-38.1L427.2,-40.2L429.2,-41.1L430.3,-43.3Z"/></clipPath>
<clipPath id="L_namerica"><path d="M233.6,-79.3L236,-80.1L238.4,-80.4L240.8,-79.7L239,-81L237.2,-82.2L235.4,-82.5L239.6,-84L243.3,-85.2L247.5,-86.2L253,-85.5L257.8,-84.9L263.9,-84.6L267.6,-84.1L272.4,-83.3L274.8,-84L279.7,-84.6L282.1,-84.9L285.8,-83.9L290.6,-84.2L295.5,-83.3L299.1,-82.4L297.9,-81.9L304,-82L306.4,-82.8L308.8,-83.1L313.7,-81.9L318.5,-81.8L319.8,-82.8L321.6,-82.8L321,-84L322.2,-84.6L321,-86.2L322.8,-87L325.8,-85.2L327,-84L328.2,-82.8L330.7,-81.6L332.5,-82.2L333.7,-84L338,-84.3L338.6,-82.8L337.4,-81.6L338.8,-81L336.1,-80L333.1,-80.1L331.9,-78.9L330.7,-77.6L327.6,-77L325.2,-75.5L323.4,-73.7L322.4,-71.3L324.6,-70.9L325.2,-68.9L328.2,-68.9L331.9,-67.7L334.3,-66.8L337.6,-66.6L337.7,-64L339.2,-62.8L340.4,-61.9L341.6,-62.5L341.6,-65.2L340.8,-66.2L343.4,-67.7L344.5,-69.5L342.2,-71L343.4,-72.5L342.8,-75.3L346.5,-75.3L350.1,-74.6L352.5,-73.7L353.1,-71.3L355,-70.6L357.4,-71.3L359.1,-73L360.4,-70.7L362.5,-68.9L363.5,-67.4L367.1,-66.2L369.5,-64.4L369.9,-62.8L368.3,-62.1L364.7,-60.7L359.8,-60.8L356.8,-60.7L353.7,-58.8L351.3,-56.7L353.7,-57.8L356.8,-59.3L359.2,-59.2L359.2,-58L358.6,-57L358.8,-55.8L360.4,-55.5L362.8,-55.2L363.5,-54.7L360.4,-53.9L358,-52.6L357.1,-53.5L359.2,-54.7L356.2,-54.4L353.7,-53.2L352.2,-52.6L351.7,-51.4L352.5,-50.5L350.7,-50L347.7,-49.1L347.4,-47.7L346.1,-46.5L345.2,-44.9L345.5,-43L344.4,-41.9L342.8,-41L341,-39.9L339.2,-38.4L338.7,-36.6L339.8,-34.1L340.3,-32L339.9,-30.4L338.9,-30.6L338.2,-31.8L337.1,-33.5L337.1,-35L335.5,-36.2L334,-35.9L332.5,-36.7L330.1,-36.6L328.9,-36.5L329.1,-35.3L327.6,-35.3L325.8,-35.8L323.4,-35.8L321.8,-34.9L319.8,-33.6L319.3,-31.4L318.9,-29L318.8,-26.9L319.5,-24.9L320.7,-23.2L322.2,-22.5L323.4,-22.1L325.8,-22.5L327.3,-23.3L327.8,-25.4L330.7,-26.1L331.9,-25.9L331.3,-24.2L331,-22.1L330.3,-21.1L329.7,-19.3L330.7,-19.1L333.1,-19.2L334.9,-19.1L336.4,-18.1L336,-15.7L336,-13.3L337,-11.7L338.6,-10.9L340.4,-11.1L341.6,-11.5L343.4,-10.4L344.3,-9.7L345.7,-11.6L346.1,-13L347.7,-13.5L349.7,-14.4L350.5,-15L350.9,-13.3L352.5,-14L354.6,-12.8L357.4,-12.8L359.2,-12.3L361.6,-12.8L362.5,-12.1L363.7,-10.4L365.3,-9.7L367.1,-8.2L368.3,-7.2L370.7,-7.1L372.6,-6.6L374.4,-5.4L375.6,-4.2L376.8,-2.2L376.8,-0.2L378.6,0.8L380.4,0.8L383.5,2.4L385.3,3L387.1,3.5L388.9,3.4L390.8,4.5L392.6,5.8L394.6,6.4L395.3,8.7L395,10.9L393.2,12.8L392,14.5L390.8,15.7L390.2,18.1L390.2,21.1L389.3,23.6L388,26L386.8,27.5L384.7,27.8L382.9,28.6L381.1,29.2L379.2,30.8L378.5,32.6L378.3,34.4L376.8,36.2L375,38.1L373.8,39.9L372.4,41.6L370.7,42.2L368.3,41.7L366.6,41.1L368.1,42.9L368.3,44.1L367.3,46.2L364.7,47L362,47.1L361.9,49.3L359.2,49.5L358.6,51L360.1,51.4L358.4,52.6L358,54.4L355.6,55.6L357.4,57.4L357.6,58L355.2,59.8L353.7,61.4L354.5,63.2L353.1,63.4L351.3,65L348.3,63.4L346.7,61.6L345.9,58.6L345.9,56.2L348.3,53.2L348.9,50.7L348,48.3L348.3,44.9L349.3,42.9L350.6,39.9L350.7,36.2L350.9,33.2L351.9,30.2L352.2,26.6L352.3,23.6L352,22.1L350.7,20.9L348.3,19.7L346.2,18.4L344.9,16.7L343.8,14.5L342.5,12.1L341.2,9.7L340.4,7.9L338.9,7.2L338.8,5.4L340,4.1L340.6,3L339.2,2.7L339.8,0.6L340.4,-1L341.8,-1.8L342.2,-3L343.7,-4.6L343.4,-6.6L343.4,-8.5L342.6,-10L341,-10.8L340,-9.9L340.4,-8.9L338.6,-9.3L337,-9.9L335.9,-10.6L334.3,-12.1L333.3,-13L331.9,-15.1L331.2,-15.9L328.9,-16.2L326.4,-16.9L324,-18.7L322.5,-19.6L320.4,-19L317.9,-19.7L315.5,-20.7L313.7,-21.7L311.5,-22.7L309.6,-24.3L309.4,-26L308.2,-28.2L305.8,-30.6L304.6,-32.1L302.8,-33.8L301.2,-35L300.3,-37.5L298.3,-38.3L298.1,-36.9L300,-34.4L301.5,-32L303.4,-29.4L304.3,-27.8L303.7,-28.2L301.5,-30L301.3,-31.4L298.9,-33.2L298.5,-34.8L296.9,-36.5L295.7,-38.7L295.1,-39.9L293.7,-41.1L291.2,-41.7L289.6,-44.1L288.8,-45.6L287.2,-47.7L286.6,-48.8L286.7,-50.7L286.9,-53.2L287,-55.8L286.2,-58.4L288.2,-58.2L288.7,-57.2L288.4,-59.2L286,-60.7L283.3,-62.2L282.1,-63.8L279.7,-65.9L277.9,-67.1L275.4,-69.5L273,-70.7L270.6,-71L268.2,-72.3L265.1,-72.5L262.1,-72.7L259.7,-73.5L257.2,-72.5L255.4,-71.7L253.4,-71.7L253.6,-73.5L255.4,-73.9L253,-73.1L251.2,-71.7L250,-70.3L247.5,-68.9L245.1,-67.7L242.1,-66.7L239,-66.1L237.5,-66L240.2,-67.1L242.7,-67.7L245.1,-69.5L246.3,-70.8L243.9,-71L240.8,-70.8L240.8,-72.3L237.8,-73.1L236.6,-74.3L236,-75.2L237.5,-76.1L240.2,-76.7L242.1,-77.8L239.6,-77.9L235.4,-78.1L233.6,-79.3Z"/></clipPath>
<clipPath id="L_australia"><path d="M138.3,26.6L139.1,26.3L141.9,24.9L145,24.2L147.4,23.6L149,21.1L150.4,20.5L151,19.6L152.8,17.5L154.7,16.9L156.5,18L157.7,17.9L158.3,15.7L159.3,15L161.3,14.5L161.3,13.7L164.4,14.6L166.6,14.7L165.6,16.3L165,17.9L166.8,19.1L169.2,20.5L171.1,21.3L172,19.3L172.5,16.3L172.6,14.5L173.5,13L174.7,15.1L175.1,17.3L176.9,18.1L177.5,20.5L178.1,22.8L180.2,24.2L182,26.6L183.6,28.4L186,30.4L186.5,32.6L187,34.7L186.2,37.5L185,39.6L184,41.1L182.8,43.5L182.6,45.2L180.2,45.8L178.1,47.1L176.5,46.4L174.7,46.9L172.3,46.3L170.4,45.3L169.8,43.5L168,43L168.4,41.7L167.8,39.9L166.8,41.1L165.6,42.3L165,41.9L163.4,39.9L160.7,38.7L157.1,38.2L153.4,39L151,39.9L150.4,41L146.2,41L143.7,42.3L141.3,42.2L140.1,41.4L140.8,39.3L140.1,36.2L139.1,33.2L138,31.4L138.4,29.6L138.3,26.6Z"/></clipPath>
<clipPath id="L_eurasia"><path d="M42,-37.8L43,-39.9L44.2,-43.3L44.2,-44.3L41.8,-43.9L39.3,-43.6L37.5,-44.1L34.5,-44.3L33.6,-45.3L32.4,-46.5L33,-47.7L32.3,-48.6L32.1,-49.3L29.6,-49.3L29,-48.3L28.1,-48.9L28.4,-47.5L29.6,-45.9L28.4,-45.3L28.4,-44.1L27.2,-44.1L26.4,-45.3L26,-46.9L24.2,-48.9L24,-50.5L22.3,-51.6L19.9,-52.6L18.7,-53.8L17.5,-54.6L17,-55.1L15.6,-54.7L15.4,-53.5L16.9,-52.7L17.7,-51.2L19.9,-50.5L23,-48.7L22.3,-48.3L21,-48.8L20.7,-47.7L21.3,-47.1L20,-45.9L19.6,-45.9L19.9,-47.1L19.4,-48.3L18.1,-49.1L16.3,-49.8L14.8,-51L13.2,-52L12.9,-53L11.2,-53.6L9.6,-52.9L7.8,-52.1L6,-52.4L4.4,-52L4.4,-50.6L2.9,-49.9L1.1,-49.1L0.1,-47.7L0.7,-46.9L-0.3,-45.6L-1.9,-44.5L-5,-44.3L-6.3,-43.5L-7.1,-44.2L-8.5,-44.9L-10.3,-44.7L-10.2,-46.5L-11,-46.9L-10.2,-49.5L-10.7,-52L-9.2,-52.8L-5.6,-52.6L-1.7,-52.4L-1,-53.9L-1,-55.6L-2.2,-57L-5,-57.9L-5.2,-58.6L-3.1,-59L-1.4,-58.8L-1.7,-60.1L-1,-59.7L0.6,-59.8L2.3,-60.7L2.6,-61.6L4.7,-62.1L6,-63.4L6.6,-64.4L9,-64.8L10.8,-65.2L11.1,-66.5L10.5,-68.6L12,-69.1L13.4,-69.7L13,-68.4L13.6,-67.7L12.4,-66.7L12.6,-65.9L13.9,-65.2L15.7,-65.7L17.5,-65.2L20.5,-65.9L23,-66.2L24.2,-65.7L26,-66.7L26,-68.6L27.8,-69.7L29.6,-69L30.1,-70.4L29,-71.5L31.5,-71.9L34.5,-72L36.9,-72.5L35.1,-73.2L32.1,-73L28.4,-72.5L26.6,-73.5L26.4,-75.5L27.8,-76.7L30.8,-78.5L31.2,-79.3L29.4,-79.5L27.2,-79L26.4,-77.8L23.6,-76.4L21.5,-74.6L21.4,-73.3L23.3,-72.5L22.3,-71.3L20.8,-70.9L20.5,-68.9L19.9,-67.9L17.9,-67.2L16.3,-66.9L15.8,-67.9L14.8,-69.7L13.9,-71.3L13.2,-71.9L11.4,-70.7L9,-70.1L7.2,-71L6.6,-73.1L6.6,-74.9L9,-76.1L11.4,-77L13.9,-78.5L16.3,-80.4L18.1,-82.2L20.5,-83.1L23.6,-84.3L27.2,-84.9L31.5,-85.8L34.5,-85.5L38.1,-84.8L37.5,-84.2L40.6,-83.9L44.2,-83.4L49.1,-82.2L50.3,-80.7L49.1,-80L45.4,-80.1L41.2,-80.6L40.6,-79.7L42.7,-77.9L45.4,-77.3L46.6,-77.9L49.1,-78.2L49.7,-79.5L51.5,-80.2L53.9,-80L54.2,-81.9L53.3,-82.9L56.3,-82.2L56.9,-81L58.8,-81.8L64.8,-82.8L67.3,-82.6L70.9,-83.3L73.3,-82.8L74.5,-84.3L78.2,-83.7L81.8,-83.1L83.7,-82.4L84.3,-83.4L81.8,-84.1L81.6,-85.5L83.7,-86.8L84.3,-88L87.3,-88.2L88.9,-87.6L88.5,-85.8L87.9,-84L89.7,-82.2L87.9,-80.4L90.3,-81L91.5,-82.8L90.9,-84.6L90,-86.4L91.5,-87.6L94,-87L95.2,-86.2L97.6,-87L100,-87L98.2,-88.8L104.9,-89.3L106.1,-90.6L111,-91.3L119.5,-92.2L126.7,-93.9L130.4,-92.4L137.7,-91.8L136.5,-90L132.8,-89.4L137.7,-88.9L143.7,-88.6L149.8,-89.1L154.7,-87.6L157.1,-85.8L160.7,-86.4L165.6,-86.4L170.4,-87.6L177.7,-87.4L182.6,-86.4L186.2,-85.5L193.5,-84.6L194.7,-84.1L200.8,-84L206.9,-83.4L208.1,-84.6L214.1,-84.3L219,-83.4L222.6,-82.5L227.5,-81L231.1,-80L228.7,-77.8L225.1,-78.2L221.4,-79.1L220.2,-79.7L219,-78.5L216.6,-77.9L216,-75.5L211.7,-74.7L206.9,-72.5L202,-72.5L198.4,-70.1L197.1,-67.7L197.1,-66.2L194.7,-64L192.7,-62.6L190.7,-61.6L189.9,-64L189.3,-67.1L190.5,-69.5L193.5,-70.7L196.5,-73.1L199.6,-75.5L197.1,-74.9L194.7,-73.7L191.1,-74.6L188.7,-71.9L185,-71.3L181.4,-71.9L174.1,-71.7L170.4,-69.5L167.4,-65.9L170.4,-64.6L172,-63.1L171.1,-60.4L170.4,-58L168,-55L165,-53.2L161.9,-51.7L159.5,-51.4L158.1,-50.1L157.7,-48.3L155.3,-47.7L156.5,-46.5L157.6,-44.1L157.1,-42.5L155.3,-42L153.8,-41.8L154.1,-44.1L154.4,-45.7L152.2,-45.9L152.5,-47.7L151.3,-48.3L148.6,-47.2L148,-49.3L145,-47.4L143.7,-46.3L145,-45.1L147.4,-45.6L149.2,-44.7L146.8,-43.7L145.3,-42.3L146.8,-40.5L148.4,-38.1L148.4,-36.2L148.6,-35L146.8,-33.2L145.6,-30.8L143.7,-29.6L141.9,-27.8L139.1,-26.9L135.8,-26L134,-25.7L134.6,-24.5L133.8,-26L131.6,-26.1L130,-24.8L128.9,-23L130.4,-20.5L132.6,-18.7L133.2,-15.7L132.8,-13.9L130.4,-12.7L129.8,-11.5L128,-10.5L128,-12.1L126.1,-12.8L124.9,-14.5L123.1,-15.5L122.3,-16.3L121.9,-14.5L120.9,-12.1L121.9,-10.3L123.1,-8.2L124.7,-7.5L126,-5.4L126.1,-3L127,-1.7L126,-1.6L123.5,-3.4L122.4,-6L122.3,-7.9L119.8,-9.9L120.1,-12.1L120.3,-14.5L119.1,-18.1L119.1,-19.9L116.4,-19.3L115,-19.3L115.2,-21.7L114,-24.2L112.2,-26L111.6,-27.2L109.7,-26.6L108.5,-26.3L106.1,-25.9L105.5,-24.2L103.7,-23.6L100.6,-20.3L98,-18.7L97.9,-16.1L97.4,-12.4L96.4,-11.2L95.4,-10.6L94.6,-9.8L93.4,-10.9L92.1,-13.9L91.2,-16.3L89.7,-19.3L88.9,-23L88.7,-25.4L87.9,-25.4L86.4,-25.1L84.3,-26.8L85.7,-27.8L83.7,-28.2L82.2,-29.6L81.2,-30.7L78.2,-30.6L75.2,-30.4L72.1,-30.8L69.9,-31.4L69.4,-32.6L67,-32.1L64.8,-32.6L63,-33.8L61.8,-35.6L60,-36.6L58.8,-36.2L59.4,-34.4L61.2,-32.3L61.4,-30.8L62.7,-31.4L63,-30.2L62.7,-29.4L63.6,-29L66,-29.2L68.5,-31.1L69,-31.8L69.1,-30L70.3,-28.8L71.9,-27.8L73.1,-27.2L71.8,-25L70.7,-23L69.1,-21.7L67.3,-20.5L64.2,-19.7L61.2,-18.1L58.2,-16.6L55.1,-15.3L53.3,-15.3L52.5,-17.5L52.2,-19.9L50.3,-23L48.1,-25.7L47.6,-27.8L45.7,-30.4L43.6,-33.2L42.7,-35.5L42.1,-33.6L40.8,-34.4L40.1,-36.1ZM479,-37.8L480,-39.9L481.2,-43.3L481.2,-44.3L478.8,-43.9L476.3,-43.6L474.5,-44.1L471.5,-44.3L470.6,-45.3L469.4,-46.5L470,-47.7L469.3,-48.6L469.1,-49.3L466.6,-49.3L466,-48.3L465.1,-48.9L465.4,-47.5L466.6,-45.9L465.4,-45.3L465.4,-44.1L464.2,-44.1L463.4,-45.3L463,-46.9L461.2,-48.9L461,-50.5L459.3,-51.6L456.9,-52.6L455.7,-53.8L454.5,-54.6L454,-55.1L452.6,-54.7L452.4,-53.5L453.9,-52.7L454.7,-51.2L456.9,-50.5L460,-48.7L459.3,-48.3L458,-48.8L457.7,-47.7L458.3,-47.1L457,-45.9L456.6,-45.9L456.9,-47.1L456.4,-48.3L455.1,-49.1L453.3,-49.8L451.8,-51L450.2,-52L449.9,-53L448.2,-53.6L446.6,-52.9L444.8,-52.1L443,-52.4L441.4,-52L441.4,-50.6L439.9,-49.9L438.1,-49.1L437.1,-47.7L437.7,-46.9L436.7,-45.6L435.1,-44.5L432,-44.3L430.7,-43.5L429.9,-44.2L428.5,-44.9L426.7,-44.7L426.8,-46.5L426,-46.9L426.8,-49.5L426.3,-52L427.8,-52.8L431.4,-52.6L435.3,-52.4L436,-53.9L436,-55.6L434.8,-57L432,-57.9L431.8,-58.6L433.9,-59L435.6,-58.8L435.3,-60.1L436,-59.7L437.6,-59.8L439.3,-60.7L439.6,-61.6L441.7,-62.1L443,-63.4L443.6,-64.4L446,-64.8L447.8,-65.2L448.1,-66.5L447.5,-68.6L449,-69.1L450.4,-69.7L450,-68.4L450.6,-67.7L449.4,-66.7L449.6,-65.9L450.9,-65.2L452.7,-65.7L454.5,-65.2L457.5,-65.9L460,-66.2L461.2,-65.7L463,-66.7L463,-68.6L464.8,-69.7L466.6,-69L467.1,-70.4L466,-71.5L468.5,-71.9L471.5,-72L473.9,-72.5L472.1,-73.2L469.1,-73L465.4,-72.5L463.6,-73.5L463.4,-75.5L464.8,-76.7L467.8,-78.5L468.2,-79.3L466.4,-79.5L464.2,-79L463.4,-77.8L460.6,-76.4L458.5,-74.6L458.4,-73.3L460.3,-72.5L459.3,-71.3L457.8,-70.9L457.5,-68.9L456.9,-67.9L454.9,-67.2L453.3,-66.9L452.8,-67.9L451.8,-69.7L450.9,-71.3L450.2,-71.9L448.4,-70.7L446,-70.1L444.2,-71L443.6,-73.1L443.6,-74.9L446,-76.1L448.4,-77L450.9,-78.5L453.3,-80.4L455.1,-82.2L457.5,-83.1L460.6,-84.3L464.2,-84.9L468.5,-85.8L471.5,-85.5L475.1,-84.8L474.5,-84.2L477.6,-83.9L481.2,-83.4L486.1,-82.2L487.3,-80.7L486.1,-80L482.4,-80.1L478.2,-80.6L477.6,-79.7L479.7,-77.9L482.4,-77.3L483.6,-77.9L486.1,-78.2L486.7,-79.5L488.5,-80.2L490.9,-80L491.2,-81.9L490.3,-82.9L493.3,-82.2L493.9,-81L495.8,-81.8L501.8,-82.8L504.3,-82.6L507.9,-83.3L510.3,-82.8L511.5,-84.3L515.2,-83.7L518.8,-83.1L520.7,-82.4L521.3,-83.4L518.8,-84.1L518.6,-85.5L520.7,-86.8L521.3,-88L524.3,-88.2L525.9,-87.6L525.5,-85.8L524.9,-84L526.7,-82.2L524.9,-80.4L527.3,-81L528.5,-82.8L527.9,-84.6L527,-86.4L528.5,-87.6L531,-87L532.2,-86.2L534.6,-87L537,-87L535.2,-88.8L541.9,-89.3L543.1,-90.6L548,-91.3L556.5,-92.2L563.7,-93.9L567.4,-92.4L574.7,-91.8L573.5,-90L569.8,-89.4L574.7,-88.9L580.7,-88.6L586.8,-89.1L591.7,-87.6L594.1,-85.8L597.7,-86.4L602.6,-86.4L607.4,-87.6L614.7,-87.4L619.6,-86.4L623.2,-85.5L630.5,-84.6L631.7,-84.1L637.8,-84L643.9,-83.4L645.1,-84.6L651.1,-84.3L656,-83.4L659.6,-82.5L664.5,-81L668.1,-80L665.7,-77.8L662.1,-78.2L658.4,-79.1L657.2,-79.7L656,-78.5L653.6,-77.9L653,-75.5L648.7,-74.7L643.9,-72.5L639,-72.5L635.4,-70.1L634.1,-67.7L634.1,-66.2L631.7,-64L629.7,-62.6L627.7,-61.6L626.9,-64L626.3,-67.1L627.5,-69.5L630.5,-70.7L633.5,-73.1L636.6,-75.5L634.1,-74.9L631.7,-73.7L628.1,-74.6L625.7,-71.9L622,-71.3L618.4,-71.9L611.1,-71.7L607.4,-69.5L604.4,-65.9L607.4,-64.6L609,-63.1L608.1,-60.4L607.4,-58L605,-55L602,-53.2L598.9,-51.7L596.5,-51.4L595.1,-50.1L594.7,-48.3L592.3,-47.7L593.5,-46.5L594.6,-44.1L594.1,-42.5L592.3,-42L590.8,-41.8L591.1,-44.1L591.4,-45.7L589.2,-45.9L589.5,-47.7L588.3,-48.3L585.6,-47.2L585,-49.3L582,-47.4L580.7,-46.3L582,-45.1L584.4,-45.6L586.2,-44.7L583.8,-43.7L582.3,-42.3L583.8,-40.5L585.4,-38.1L585.4,-36.2L585.6,-35L583.8,-33.2L582.6,-30.8L580.7,-29.6L578.9,-27.8L576.1,-26.9L572.8,-26L571,-25.7L571.6,-24.5L570.8,-26L568.6,-26.1L567,-24.8L565.9,-23L567.4,-20.5L569.6,-18.7L570.2,-15.7L569.8,-13.9L567.4,-12.7L566.8,-11.5L565,-10.5L565,-12.1L563.1,-12.8L561.9,-14.5L560.1,-15.5L559.3,-16.3L558.9,-14.5L557.9,-12.1L558.9,-10.3L560.1,-8.2L561.7,-7.5L563,-5.4L563.1,-3L564,-1.7L563,-1.6L560.5,-3.4L559.4,-6L559.3,-7.9L556.8,-9.9L557.1,-12.1L557.3,-14.5L556.1,-18.1L556.1,-19.9L553.4,-19.3L552,-19.3L552.2,-21.7L551,-24.2L549.2,-26L548.6,-27.2L546.8,-26.6L545.5,-26.3L543.1,-25.9L542.5,-24.2L540.7,-23.6L537.6,-20.3L535,-18.7L534.9,-16.1L534.4,-12.4L533.4,-11.2L532.4,-10.6L531.6,-9.8L530.4,-10.9L529.1,-13.9L528.2,-16.3L526.7,-19.3L525.9,-23L525.7,-25.4L524.9,-25.4L523.4,-25.1L521.3,-26.8L522.7,-27.8L520.7,-28.2L519.2,-29.6L518.2,-30.7L515.2,-30.6L512.2,-30.4L509.1,-30.8L506.9,-31.4L506.4,-32.6L504,-32.1L501.8,-32.6L500,-33.8L498.8,-35.6L497,-36.6L495.8,-36.2L496.4,-34.4L498.2,-32.3L498.4,-30.8L499.7,-31.4L500,-30.2L499.7,-29.4L500.6,-29L503,-29.2L505.5,-31.1L506,-31.8L506.1,-30L507.3,-28.8L508.9,-27.8L510.1,-27.2L508.8,-25L507.7,-23L506.1,-21.7L504.3,-20.5L501.2,-19.7L498.2,-18.1L495.2,-16.6L492.1,-15.3L490.3,-15.3L489.5,-17.5L489.2,-19.9L487.3,-23L485.1,-25.7L484.6,-27.8L482.7,-30.4L480.6,-33.2L479.7,-35.5L479.1,-33.6L477.8,-34.4L477.1,-36.1Z"/></clipPath>
<clipPath id="L_greenland"><path d="M348.9,-94.6L355,-96.1L357.4,-97.3L362.2,-98.5L370.7,-99.4L382.9,-99.8L395,-100.9L403.5,-100.7L410.8,-99.4L415.6,-98.6L421.7,-98.2L416.9,-96.7L414.4,-94.9L414.4,-93L412,-91.8L413.2,-90L410.8,-88.6L408.4,-87.6L410.2,-86.4L410.8,-85.2L407.2,-84.6L405.9,-83L402.3,-82.4L398,-81.6L396.2,-80.2L392.6,-79.5L388.9,-78.5L387.7,-76.7L385.9,-74.9L385.3,-73.1L383.5,-72.4L381.7,-73.3L378.6,-73.7L376.8,-75.5L375,-77.3L373.2,-79.7L372.2,-81.6L372.6,-82.8L375.6,-84L371.3,-84.6L371.3,-85.8L369.5,-87.6L367.7,-90L365.9,-91.6L359.8,-92.1L355,-91.8L351.3,-93.3L348.9,-94.6Z"/></clipPath>
<clipPath id="L_madagascar"><path d="M60.3,14.5L61.6,18.7L60.6,21.1L59.4,25.4L57.6,30.2L55.1,30.8L53.5,28.4L53.3,26L54.3,24.2L53.9,21.1L55.1,19.3L57.6,18.1L58.8,16.3L60.3,14.5Z"/></clipPath>
<clipPath id="L_newguinea"><path d="M159.5,1L161.3,0.5L163.2,1L163.4,2.8L165,4L167.4,1.9L169.8,2.7L171.7,3.1L174.7,4.1L176.5,5.2L177.7,6.6L179.5,7.2L179.9,8.5L180.8,10.3L182.6,12.1L183.6,12.7L181.4,12.4L179.5,11.8L177.7,10.3L175.9,9.2L174.1,10.3L173.5,11.1L171.7,11L169.2,9.7L168,10L167.8,8.5L169,8.2L168,6.6L165.6,5.6L163.2,4.7L161.7,4.8L160.7,3.4L162.6,3L161.3,2.7L159.5,1Z"/></clipPath>
<clipPath id="L_borneo"><path d="M132.8,-1.8L134,-2.2L135.5,-1.8L135.6,-3L137.7,-3.9L138.9,-5.4L140.7,-6.6L142.3,-8.5L143.5,-7.6L145,-6.4L143.7,-5.2L143.5,-3.6L144.7,-1.2L143.1,-0.6L143.1,1.2L141.9,2.7L141.3,4.6L139.6,4.8L137.7,3.9L135.8,3.9L134.3,3L134,1.4L132.8,0L132.8,-1.8Z"/></clipPath>
<clipPath id="L_sumatra"><path d="M116.2,-6.8L118.9,-6.3L121.9,-3.6L123.7,-2.4L125.5,-0.6L126.7,1.2L129.2,3.6L128.9,7L127.4,6.9L124.7,4.8L123.1,3L121.3,0.6L120.3,-1.8L118.2,-4L116.2,-6.8Z"/></clipPath>
<clipPath id="L_nzn"><path d="M210.1,41.6L211.7,42.9L212.9,44.1L213.9,45.3L215.4,45.9L217.1,45.6L216.3,47.4L215.4,47.7L215.1,48.9L213.3,50.3L212.7,49.9L213.2,48.3L211.7,47.5L212.6,46.2L212.4,44.7L210.7,42.3L210.1,41.6Z"/></clipPath>
<clipPath id="L_nzs"><path d="M210.1,48.9L212,49.8L211.7,50.7L210.3,52.6L208.4,53.5L207.8,55.3L206.3,56.3L204.8,56.2L202.9,55.6L203.2,54.4L205,53.2L207.5,52L208.7,50.5L209.5,49.3L210.1,48.9Z"/></clipPath>
<clipPath id="L_ant"><path d="M-2,84.6L0.5,84.6L12.6,84.6L24.8,84.6L36.9,83.4L43,83.4L49.1,82.8L55.1,81.6L61.2,80.4L67.3,79.7L73.3,81.3L79.4,81.6L85.5,82.8L89.1,84.2L94,83.4L97.6,81.8L103.7,80.4L109.7,80.4L115.8,79.7L121.9,79.4L128,80.1L134,79.7L140.1,80.1L146.2,80.4L152.2,80.1L158.3,80L164.4,79.7L170.4,80.6L176.5,81L182.6,82.5L188.7,83.4L194.7,84.6L200.8,85.4L206.9,86.4L206.9,88.2L202,90.6L199.6,93.6L196.8,96.2L200.8,97.9L211,99.7L231.1,101.5L257.8,103.2L250.6,99.7L242.1,97L239.6,95.7L243.3,94.7L249.3,94L258.3,92.6L267.6,91.2L273.6,90L279.7,89.8L291.8,89.4L304,90L310,90.4L316.1,88.2L322.2,88L328.2,88L334.3,88.2L340.4,88.2L346.5,87.6L348.9,85.8L352.5,83.4L355,81.6L357.4,79.7L359.8,78.5L362.2,77.3L365.9,76.5L368.3,76.7L367.1,77.9L364.7,79.1L362.2,81L363.5,83.4L363.5,87L362.2,89.4L358.6,91.8L364.7,92.4L376.8,93.6L388.9,94.2L395,93.6L401.1,91.8L407.2,90.6L413.2,88.8L419.3,87.6L425.4,85.8L431.4,85.2L437.5,84.6L440,84.6L440,108.7L-2,108.7Z"/></clipPath>
<filter id="rag3" x="-2%" y="-2%" width="104%" height="104%" color-interpolation-filters="sRGB"><feTurbulence type="fractalNoise" baseFrequency="0.11" numOctaves="2" seed="7" result="n"/><feDisplacementMap in="SourceGraphic" in2="n" scale="5" xChannelSelector="R" yChannelSelector="G"/></filter>
<filter id="rag2" x="-2%" y="-2%" width="104%" height="104%" color-interpolation-filters="sRGB"><feTurbulence type="fractalNoise" baseFrequency="0.09" numOctaves="2" seed="3" result="n"/><feDisplacementMap in="SourceGraphic" in2="n" scale="3" xChannelSelector="R" yChannelSelector="G"/></filter>
<filter id="rag1" x="-2%" y="-2%" width="104%" height="104%" color-interpolation-filters="sRGB"><feTurbulence type="fractalNoise" baseFrequency="0.1" numOctaves="2" seed="11" result="n"/><feDisplacementMap in="SourceGraphic" in2="n" scale="1.8" xChannelSelector="R" yChannelSelector="G"/></filter>
</defs>
<g clip-path="url(#dc0)">
<g filter="url(#rag1)">
<rect x="-8" y="43" width="456" height="229" fill="#0000cd"/>
<path d="M-3,80.5C-2.5,80.5 -3.8,80.6 0,80.5C3.8,80.4 6.7,80 20,79.9C33.3,79.8 67.3,79.8 80,79.9C92.7,80 90.5,80.3 96,80.4C101.5,80.5 107.3,80.5 113,80.4C118.7,80.3 122.2,80 130,80C137.8,80 150,80.3 160,80.4C170,80.5 170,80.6 190,80.4C210,80.2 259.5,79.3 280,79.3C300.5,79.2 303,80 313,80.1C323,80.2 328.8,80.1 340,79.9C351.2,79.7 363.7,78.9 380,78.8C396.3,78.7 427.8,79.2 438,79.3C448.2,79.4 440.5,79.3 441,79.3L441,266 L-3,266 Z" fill="#4169e1"/>
<path d="M-3,86.4C-2.5,86.4 -3.8,86.3 0,86.4C3.8,86.5 11.7,86.9 20,87C28.3,87.1 40,87 50,87C60,87 72.3,86.9 80,87C87.7,87.1 90.5,87.3 96,87.5C101.5,87.7 107.3,88.1 113,88.1C118.7,88.1 124.5,87.6 130,87.5C135.5,87.4 140.5,87.5 146,87.5C151.5,87.5 157.3,87.5 163,87.3C168.7,87.1 173.8,86.6 180,86.5C186.2,86.4 180,86.5 200,86.5C220,86.5 276.7,86.3 300,86.3C323.3,86.3 326.7,86.6 340,86.5C353.3,86.4 363.7,86 380,85.9C396.3,85.8 427.8,85.9 438,85.9C448.2,85.9 440.5,85.9 441,85.9L441,266 L-3,266 Z" fill="#6495ed"/>
<path d="M-3,91.9C-2.5,91.9 -3.8,91.8 0,91.9C3.8,92 11.7,92.4 20,92.5C28.3,92.6 40,92.5 50,92.5C60,92.5 72.3,92.4 80,92.5C87.7,92.6 90.5,93 96,93C101.5,93 107.3,92.4 113,92.5C118.7,92.6 124.5,93.5 130,93.6C135.5,93.7 140.5,93.5 146,93.3C151.5,93.1 157.3,92.7 163,92.5C168.7,92.3 173.8,92 180,91.9C186.2,91.8 180,92 200,92C220,92 270,91.8 300,91.7C330,91.6 357,91.4 380,91.4C403,91.4 427.8,91.8 438,91.9C448.2,92 440.5,91.9 441,91.9L441,266 L-3,266 Z" fill="#b0e0e6"/>
<path d="M-3,97.5C-2.5,97.5 -3.8,97.4 0,97.5C3.8,97.6 11.7,97.9 20,98C28.3,98.1 40,97.9 50,98C60,98.1 72.2,98.1 80,98.5C87.8,98.9 91,99.3 96.5,100.2C102,101.1 108.9,103.5 113,104C117.1,104.5 118.3,103.7 121,102.9C123.7,102.1 124.8,99.8 129,99C133.2,98.2 140.3,98.5 146,98.3C151.7,98.1 157.3,98.2 163,98C168.7,97.8 173.8,97.5 180,97.4C186.2,97.3 183.3,97.3 200,97.2C216.7,97.1 261.2,96.9 280,96.9C298.8,96.9 303,97.3 313,97.4C323,97.5 328.8,97.5 340,97.4C351.2,97.3 363.7,97 380,96.9C396.3,96.8 427.8,96.9 438,96.9C448.2,96.9 440.5,96.9 441,96.9L441,266 L-3,266 Z" fill="#20b2aa"/>
<path d="M101.5,95.8C102,95.3 103.1,94.9 104,95C104.9,95.1 106.7,95.8 107,96.5C107.3,97.2 106.7,99 106,99.5C105.3,100 103.8,100 103,99.8C102.2,99.5 101.5,98.7 101.3,98C101,97.3 101,96.3 101.5,95.8Z" fill="#6495ed"/>
<rect x="110.5" y="100.8" width="6.5" height="1.1" fill="#6495ed"/>
<path d="M-3,102.5C-2.5,102.5 -3.8,102.4 0,102.5C3.8,102.6 11.7,102.8 20,102.9C28.3,103 40,102.8 50,102.9C60,103 72.2,103.5 80,103.5C87.8,103.5 91,102.5 96.5,102.9C102,103.4 109.3,105.4 113,106.2C116.7,107 115.8,108 118.5,107.8C121.2,107.6 125.4,105.7 129,105.1C132.6,104.5 137.2,104.4 140,104C142.8,103.6 142.2,103.2 146,102.9C149.8,102.6 157.3,102.6 163,102.4C168.7,102.2 170.5,102 180,101.8C189.5,101.6 203.3,101.5 220,101.5C236.7,101.5 264.5,101.4 280,101.6C295.5,101.8 303,102.2 313,102.4C323,102.6 328.8,102.8 340,102.7C351.2,102.6 363.7,102 380,101.8C396.3,101.6 427.8,101.8 438,101.8C448.2,101.8 440.5,101.8 441,101.8L441,266 L-3,266 Z" fill="#bcee60"/>
<path d="M-3,107.5C-2.5,107.5 -3.8,107.3 0,107.5C3.8,107.7 11.7,108.2 20,108.4C28.3,108.6 42.5,108.3 50,108.6C57.5,108.9 60,109.7 65,110C70,110.3 75.7,110.2 80,110.6C84.3,111 88.2,112.3 91,112.2C93.8,112.1 95.2,110.6 97,110C98.8,109.4 99.3,108.8 102,108.4C104.7,108 109.3,107.7 113,107.8C116.7,107.9 119.5,108.8 124,108.9C128.5,109 136.3,108.6 140,108.4C143.7,108.2 142.2,108 146,107.8C149.8,107.6 157.3,107.5 163,107.3C168.7,107.1 170.5,106.8 180,106.7C189.5,106.6 203.3,106.5 220,106.5C236.7,106.5 264.5,106.5 280,106.7C295.5,106.9 303,107.6 313,107.8C323,108 328.8,108 340,107.8C351.2,107.6 363.7,106.8 380,106.7C396.3,106.6 427.8,107.2 438,107.3C448.2,107.4 440.5,107.3 441,107.3L441,266 L-3,266 Z" fill="#94bc30"/>
<path d="M-3,111.8C-2.5,111.8 -3.8,111.7 0,111.8C3.8,111.9 11.7,112.1 20,112.2C28.3,112.3 42.5,112.1 50,112.5C57.5,112.9 60,114.1 65,114.5C70,114.9 74.8,115 80,115C85.2,115 92,114.7 96.5,114.4C101,114.1 103.4,113.5 107,113.3C110.6,113.1 112.5,113.3 118,113.3C123.5,113.3 135.3,113.4 140,113.3C144.7,113.2 142.2,113 146,112.8C149.8,112.6 157.3,112.4 163,112.2C168.7,112 170.5,111.8 180,111.7C189.5,111.6 203.3,111.7 220,111.6C236.7,111.5 268.2,111 280,111.1C291.8,111.2 287.7,111.7 291,112.2C294.3,112.7 296.3,113.8 300,113.9C303.7,114 308.2,113.1 313,112.8C317.8,112.5 324,112.4 329,112.2C334,112 334.5,111.9 343,111.8C351.5,111.7 368.3,111.5 380,111.5C391.7,111.5 404.7,111.6 413,111.7C421.3,111.8 425.8,112 430,112.2C434.2,112.4 436.2,112.7 438,112.8C439.8,112.9 440.5,112.8 441,112.8L441,266 L-3,266 Z" fill="#f5e6be"/>
<path d="M-3,118.3C-2.5,118.3 -3.8,118.3 0,118.3C3.8,118.3 11.7,118 20,118.3C28.3,118.6 41.7,119.5 50,119.9C58.3,120.3 65,120.7 70,120.5C75,120.3 75.6,119.2 80,118.8C84.4,118.4 91,118.3 96.5,118.3C102,118.3 108.4,118.9 113,118.8C117.6,118.7 119.5,117.8 124,117.7C128.5,117.6 136.3,118 140,118.3C143.7,118.5 144.3,119.2 146,119.2C147.7,119.2 147.2,118.9 150,118.5C152.8,118.1 158,117 163,116.6C168,116.2 170.5,116 180,116C189.5,116 203.3,116.6 220,116.6C236.7,116.6 268.2,116 280,116C291.8,116 287.3,116.1 291,116.6C294.7,117.1 298.3,118.6 302,118.8C305.7,119 309.3,118 313,117.7C316.7,117.4 319.5,117.2 324,117.2C328.5,117.2 334.8,117.5 340,117.4C345.2,117.3 348.3,116.7 355,116.5C361.7,116.3 373.2,116.1 380,116C386.8,115.9 390.5,115.9 396,116C401.5,116.1 408.3,116.4 413,116.6C417.7,116.8 421,116.7 424,117.2C427,117.7 428.7,118.8 431,119.5C433.3,120.2 436.3,121.2 438,121.5C439.7,121.8 440.5,121.5 441,121.5L441,266 L-3,266 Z" fill="#deb887"/>
<path d="M101.5,116C101.6,114.7 102.8,113.2 104,112.5C105.2,111.8 107.6,111.6 109,112C110.4,112.4 112,113.8 112.5,115C113,116.2 112.8,118.4 112,119.5C111.2,120.6 109.4,121.3 108,121.5C106.6,121.7 104.6,121.4 103.5,120.5C102.4,119.6 101.4,117.3 101.5,116Z" fill="#bcee60"/>
<path d="M103.5,116C103.5,115 105,114.1 106,113.8C107,113.5 108.7,113.5 109.5,114C110.3,114.5 110.9,115.6 111,116.5C111.1,117.4 110.8,118.7 110,119.3C109.2,119.9 107.1,120.5 106,120C104.9,119.5 103.5,117 103.5,116Z" fill="#20b2aa"/>
<path d="M105,116.3C105.2,115.7 106.2,114.7 107,114.6C107.8,114.5 109,114.9 109.5,115.5C110,116.1 110.1,117.4 109.8,118C109.5,118.6 108.2,119 107.5,119C106.8,119 105.9,118.8 105.5,118.3C105.1,117.8 104.8,116.9 105,116.3Z" fill="#b0e0e6"/>
<path d="M-3,132C-2.5,132 -3.8,132 0,132C3.8,132 14.2,132.3 20,132C25.8,131.7 30,130.6 35,130C40,129.4 42.5,128.7 50,128.2C57.5,127.7 73.2,127.1 80,127C86.8,126.9 86.5,127.4 91,127.6C95.5,127.8 102.5,128.3 107,128.1C111.5,127.9 114.3,126.7 118,126.5C121.7,126.3 126.2,127.2 129,127C131.8,126.8 133,125.8 135,125.5C137,125.2 138.2,125.6 141,125.4C143.8,125.2 148.3,124.7 152,124.3C155.7,123.9 158.3,123.5 163,123.2C167.7,122.9 170.5,122.6 180,122.6C189.5,122.6 203.3,123.2 220,123.2C236.7,123.2 267.2,122.6 280,122.6C292.8,122.6 292,122.8 296.5,123.2C301,123.6 303.4,124.6 307,124.8C310.6,125 314.3,124.5 318,124.3C321.7,124.1 322.8,123.9 329,123.7C335.2,123.5 346.5,123.2 355,123C363.5,122.8 373.2,122.6 380,122.6C386.8,122.6 391.5,123 396,123.2C400.5,123.4 403.8,123.4 407,123.7C410.2,124 412.8,124.2 415,124.8C417.2,125.4 418.5,126.7 420,127.5C421.5,128.3 421,129.3 424,129.8C427,130.3 435.2,130.2 438,130.3C440.8,130.4 440.5,130.3 441,130.3L441,266 L-3,266 Z" fill="#ffd700"/>
<path d="M-3,140.5C-2.5,140.5 -3.8,140.6 0,140.5C3.8,140.4 11.7,140.8 20,140.2C28.3,139.6 40,138.3 50,137C60,135.7 72.2,132.9 80,132.5C87.8,132.1 89.2,134.3 96.5,134.7C103.8,135.1 117.6,134.9 124,134.7C130.4,134.5 131.3,133.9 135,133.6C138.7,133.3 141.3,133.3 146,133C150.7,132.7 157.3,132.3 163,132C168.7,131.7 173.8,131.5 180,131.4C186.2,131.3 183.3,131.6 200,131.5C216.7,131.4 263.9,130.9 280,130.9C296.1,130.9 291,131 296.5,131.4C302,131.8 308.4,132.7 313,133.1C317.6,133.5 319.5,133.6 324,133.6C328.5,133.6 334,133.4 340,133.1C346,132.8 353.3,132.2 360,131.8C366.7,131.4 374,130.9 380,130.9C386,130.9 390.5,131.6 396,132C401.5,132.4 409.5,133 413,133.6C416.5,134.2 415.2,135.2 417,135.8C418.8,136.5 420.5,137.1 424,137.5C427.5,137.9 435.2,138.3 438,138.5C440.8,138.7 440.5,138.5 441,138.5L441,266 L-3,266 Z" fill="#ffa500"/>
<path d="M-3,146C-2.5,146 -3.8,146.1 0,146C3.8,145.9 11.7,145.9 20,145.7C28.3,145.5 42.5,145 50,144.6C57.5,144.2 60,143.7 65,143C70,142.3 74.8,141 80,140.7C85.2,140.4 88.3,141.1 96.5,141.3C104.7,141.5 121.8,142 129,141.8C136.2,141.6 134.3,140.6 140,140.2C145.7,139.8 153,139.6 163,139.6C173,139.6 180.5,140.1 200,140.1C219.5,140.1 261.2,139.6 280,139.6C298.8,139.6 303,140 313,140.2C323,140.4 328.8,140.7 340,140.7C351.2,140.7 370.7,140.1 380,140.2C389.3,140.3 390.5,140.9 396,141.3C401.5,141.8 408.3,142.2 413,142.9C417.7,143.6 419.8,145 424,145.7C428.2,146.3 435.2,146.6 438,146.8C440.8,147 440.5,146.8 441,146.8L441,266 L-3,266 Z" fill="#ff4500"/>
<path d="M-3,151.2C-2.5,151.2 -7.2,151.2 0,151.2C7.2,151.2 26.7,151.4 40,151.2C53.3,151 69.7,150.2 80,150.1C90.3,150 94.7,150.5 102,150.6C109.3,150.7 117.7,150.7 124,150.6C130.3,150.5 133.5,150.2 140,150C146.5,149.8 149.7,149.6 163,149.5C176.3,149.4 200.5,149.5 220,149.5C239.5,149.5 264.5,149.4 280,149.5C295.5,149.6 303,149.7 313,149.8C323,149.9 328.8,150.1 340,150.1C351.2,150.1 369.7,149.8 380,150C390.3,150.2 394.7,150.9 402,151.2C409.3,151.5 418,151.5 424,151.7C430,151.9 435.2,152.2 438,152.3C440.8,152.4 440.5,152.3 441,152.3L441,266 L-3,266 Z" fill="#b22222"/>
<path d="M-3,164C-2.5,164 -2.5,164 0,164C2.5,164 3.7,164.3 12,164C20.3,163.7 35.3,162.4 50,162C64.7,161.6 85,161.4 100,161.5C115,161.6 126.2,162.5 140,162.5C153.8,162.5 156.3,161.7 183,161.5C209.7,161.3 272.5,161.5 300,161.5C327.5,161.5 331.3,161.3 348,161.5C364.7,161.7 385,162.3 400,162.7C415,163.1 431.2,163.8 438,164C444.8,164.2 440.5,164 441,164L441,266 L-3,266 Z" fill="#ffb6c1"/>
<g transform="translate(0,157.2)">
<g clip-path="url(#L_africa)"><rect x="0" y="0" width="70" height="15" fill="#b22222"/><path d="M0,-10 H70 V-1.5 L50,0 L30,-0.5 L12,-0.3 L0,-4Z" fill="#ff4500"/></g>
<g clip-path="url(#L_namerica)"><path d="M330,-10 H400 V-4 L385,-2.5 L360,-2 L345,-2.5 L330,-5Z" fill="#ff4500"/></g>
<g clip-path="url(#L_namerica)"><path d="M330,0 H400 V14 L392,15 L388,21 L383,17 L380,14 L366,14 L361,17 L357,14 L330,13Z" fill="#b22222"/></g>
</g>
<path d="M-3,184.2C-2.5,184.2 -8.8,184.3 0,184.2C8.8,184.1 27.3,183.5 50,183.4C72.7,183.3 113,183.6 136,183.4C159,183.2 160.7,182.6 188,182.4C215.3,182.2 273.3,182.4 300,182.5C326.7,182.6 325,182.8 348,183C371,183.2 422.5,183.4 438,183.5C453.5,183.6 440.5,183.5 441,183.5L441,266 L-3,266 Z" fill="#ff1493"/>
<path d="M-3,206.1C-2.5,206.1 -13.2,206 0,206.1C13.2,206.2 49.3,206.8 76,206.9C102.7,207 122.7,207 160,206.9C197.3,206.8 253.7,206.4 300,206.3C346.3,206.2 414.5,206.1 438,206.1C461.5,206.1 440.5,206.1 441,206.1L441,266 L-3,266 Z" fill="#ffb6c1"/>
<g transform="translate(0,157.2)">
<g clip-path="url(#L_africa)"><rect x="0" y="15" width="70" height="40" fill="#ffb6c1"/></g>
<g clip-path="url(#L_namerica)"><rect x="330" y="21" width="70" height="60" fill="#ffb6c1"/><path d="M353.3,24.5 L356.5,24.5 L358.5,34 L361,45.5 L357,45.5 L354.5,35Z" fill="#b22222"/></g>
<g clip-path="url(#L_australia)"><rect x="130" y="5" width="70" height="60" fill="#ffb6c1"/></g>
<g clip-path="url(#L_madagascar)"><rect x="50" y="10" width="20" height="40" fill="#ffb6c1"/></g>
</g>
<path d="M173.7,207.4C171.1,206.8 169.2,204.6 168.9,203.9C168.6,203.2 170.5,203.1 172,203C173.5,202.9 176.2,204 178,203.5C179.8,203 181.8,201.6 183,200C184.2,198.4 185.3,196 185.5,194C185.7,192 184.7,190.1 184,188C183.3,185.9 180.7,182.4 181.5,181.3C182.3,180.2 187.9,179.9 189,181.3C190.1,182.8 188.6,187.7 188.2,190C187.8,192.3 187,193.1 186.5,195C186,196.9 185.4,199.4 185,201.5C184.6,203.6 186.1,206.4 184.2,207.4C182.3,208.4 176.2,208 173.7,207.4Z" fill="#ffb6c1"/>
<path d="M138,199.5C139,200.1 142,200.1 144,200.3C146,200.6 148.3,201.1 150,201C151.7,200.9 152.3,199.9 153.9,199.6C155.5,199.3 157.8,199 159.5,199.2C161.2,199.4 162.6,200 164.2,200.8C165.8,201.6 167.3,202.9 168.9,203.9C170.5,204.9 172.5,207 173.7,207C174.9,207 176.6,205.2 176,204C175.4,202.8 172,200.8 170,199.5C168,198.2 166.3,197.2 164,196.5C161.7,195.8 158.7,195.4 156,195.5C153.3,195.6 151,196.8 148,197C145,197.2 139.7,196.6 138,197C136.3,197.4 137,198.9 138,199.5Z" fill="#ffb6c1"/>
<path d="M141.3,187L150,181.8L153.2,180.3L157.1,181L159.5,177.9L160.3,174.7L162.6,173.9L165,175.5L165.8,179.5L168.1,183.4L169.7,188.1L172.9,193.7L176.8,196L179.6,198.4L178.4,200.4L175.2,200.4L172.1,199.2L168.1,196.8L164.2,195.2L159.5,193.7L154.7,193.7L150,195.2L143,197.5L140.5,193Z" fill="#b22222"/>
<path d="M172.9,179.2L174.5,177.5L176,179.2L174.5,181Z" fill="#b22222"/>
<path d="M24.2,196 L25.5,193.5 L27,196Z" fill="#b22222"/>
<path d="M134.8,182.3C135.2,181 138.2,181 138.8,182.3C139.4,183.6 138.2,187.3 138.4,190C138.6,192.7 139.9,196.9 139.8,198.3C139.7,199.7 138.2,199.7 137.6,198.3C137,196.9 136.7,192.7 136.2,190C135.7,187.3 134.4,183.6 134.8,182.3Z" fill="#ffb6c1"/>
<path d="M-3,229.6C-2.5,229.6 -10.5,229.6 0,229.6C10.5,229.6 43.2,229.8 60,229.6C76.8,229.4 87.7,228.3 101,228.3C114.3,228.3 106.8,229.4 140,229.6C173.2,229.8 250.3,229.6 300,229.6C349.7,229.6 414.5,229.6 438,229.6C461.5,229.6 440.5,229.6 441,229.6L441,266 L-3,266 Z" fill="#b22222"/>
<path d="M209,254C210.8,253.6 212.8,254.8 216,255.3C219.2,255.8 224,256.4 228,256.8C232,257.2 236,257 240,257.5C244,258 250,259.1 252,260C254,260.9 258.7,262.5 252,263C245.3,263.5 219.8,263.8 212,263C204.2,262.2 205.5,259.5 205,258C204.5,256.5 207.2,254.4 209,254Z" fill="#ff4500"/>
<g transform="translate(0,157.2)" clip-path="url(#L_ant)">
<rect x="0" y="70" width="440" height="50" fill="#ff4500"/>
</g>
<path d="M-3,245C2.5,241.2 18.8,244.5 30,243.5C41.2,242.5 56.5,239.5 64,239.2C71.5,238.9 71.3,240.6 75,241.5C78.7,242.4 82.7,244.3 86,244.5C89.3,244.7 92,243.4 95,242.5C98,241.6 94.8,239.7 104,239.2C113.2,238.7 140,239.8 150,239.6C160,239.4 157.8,237.7 164,238C170.2,238.3 181.2,240.3 187,241.6C192.8,242.8 196.3,244.3 199,245.5C201.7,246.7 203.5,247.6 203,249C202.5,250.4 196.5,252.3 196,254C195.5,255.7 196.8,257.7 200,259C203.2,260.3 205,261.3 215,262C225,262.7 252.2,262.3 260,263C267.8,263.7 305.8,265.5 262,266C218.2,266.5 41.2,269.5 -3,266C-47.2,262.5 -8.5,248.8 -3,245Z" fill="#ffa500"/>
<path d="M-3,246.5C2.5,243 18.8,245.9 30,245C41.2,244.1 56.5,241.1 64,240.8C71.5,240.5 71.3,242.1 75,243C78.7,243.9 82.7,245.8 86,246C89.3,246.2 92,244.9 95,244C98,243.1 94.8,241.3 104,240.8C113.2,240.3 140,241.2 150,241C160,240.8 158.2,239.2 164,239.6C169.8,240 179.8,242.2 185,243.5C190.2,244.8 193.2,246.4 195,247.5C196.8,248.6 196.8,248.8 196,250C195.2,251.2 190.5,253.2 190,255C189.5,256.8 191.3,259.2 193,261C194.7,262.8 232.7,265.2 200,266C167.3,266.8 30.8,269.2 -3,266C-36.8,262.8 -8.5,250 -3,246.5Z" fill="#ffd700"/>
<path d="M6,249C6.5,248.2 6,247.9 10,247.5C14,247.1 21,247.6 30,246.8C39,246 56.5,243.1 64,242.8C71.5,242.5 71.3,244.1 75,245C78.7,245.9 82.7,247.8 86,248C89.3,248.2 92,246.9 95,246C98,245.1 94.8,243.3 104,242.8C113.2,242.3 140,243.2 150,243C160,242.8 159,241.2 164,241.5C169,241.8 176,243.8 180,245C184,246.2 187.3,247.3 188,249C188.7,250.7 185,253.2 184,255C183,256.8 181.8,258.2 182,260C182.2,261.8 214.7,265 185,266C155.3,267 33.5,267.3 4,266C-25.5,264.7 7.5,260.3 8,258C8.5,255.7 7.3,253.5 7,252C6.7,250.5 5.5,249.8 6,249Z" fill="#deb887"/>
<path d="M10,252C10.3,250.6 10.7,250.1 14,249.5C17.3,248.9 21.7,249.1 30,248.3C38.3,247.5 56.5,244.8 64,244.5C71.5,244.2 71.3,245.7 75,246.5C78.7,247.3 82.7,249.3 86,249.5C89.3,249.7 92,248.3 95,247.5C98,246.7 94.8,245 104,244.5C113.2,244 140,244.9 150,244.7C160,244.5 159.7,242.9 164,243.3C168.3,243.7 173.5,245.9 176,247C178.5,248.1 179.2,248.7 179,250C178.8,251.3 176.2,253.3 175,255C173.8,256.7 172,258.2 172,260C172,261.8 202.3,265 175,266C147.7,267 35.2,267.3 8,266C-19.2,264.7 11.7,260.3 12,258C12.3,255.7 9.7,253.4 10,252Z" fill="#f5e6be"/>
<path d="M25,252.5C25,251.3 29.2,249.8 35,249C40.8,248.2 53.3,247.4 60,247.5C66.7,247.6 70.3,248.9 75,249.5C79.7,250.1 83.8,251.1 88,251C92.2,250.9 94.7,249.6 100,249C105.3,248.4 111.7,247.5 120,247.5C128.3,247.5 144.3,248.2 150,249C155.7,249.8 154,250.8 154,252C154,253.2 155.7,255.1 150,256C144.3,256.9 130,257.1 120,257.5C110,257.9 100,258.4 90,258.5C80,258.6 69.2,258.4 60,258C50.8,257.6 40.8,256.9 35,256C29.2,255.1 25,253.7 25,252.5Z" fill="#94bc30"/>
<path d="M258,250.5C261.7,249.2 266.7,249 272,248.5C277.3,248 283,247.5 290,247.3C297,247.1 308.7,247.6 314,247.3C319.3,247 316.7,245.9 322,245.5C327.3,245.1 341,245.4 346,245C351,244.6 350.2,242.8 352,243C353.8,243.2 357,245 357,246C357,247 351.8,248 352,249C352.2,250 352.8,250.5 358,252C363.2,253.5 374.8,258.2 383,258C391.2,257.8 400.5,252.9 407,251C413.5,249.1 416.3,247.8 422,246.5C427.7,245.2 437.8,239.8 441,243C444.2,246.2 472.8,262.2 441,266C409.2,269.8 279.8,266.7 250,266C220.2,265.3 262,263.7 262,262C262,260.3 250.7,257.9 250,256C249.3,254.1 254.3,251.8 258,250.5Z" fill="#ffa500"/>
<path d="M284,250C286.5,249 295,248.7 300,248.5C305,248.3 311,248.4 314,249C317,249.6 318.3,251 318,252C317.7,253 315.7,254.3 312,255C308.3,255.7 300.5,256.1 296,256C291.5,255.9 287,255.5 285,254.5C283,253.5 281.5,251 284,250Z" fill="#ffd700"/>
<path d="M418,249C419.3,247.6 424.2,247.2 428,246.5C431.8,245.8 438.8,242.8 441,245C443.2,247.2 443.2,257.7 441,260C438.8,262.3 431.5,259.8 428,259C424.5,258.2 421.7,256.7 420,255C418.3,253.3 416.7,250.4 418,249Z" fill="#ffd700"/>
<path d="M352,250.5C353.3,249.5 357.8,249.6 363,250C368.2,250.4 376,252.9 383,253C390,253.1 400,250.7 405,250.5C410,250.3 412.2,251.1 413,252C413.8,252.9 413,254.9 410,256C407,257.1 401.7,258.1 395,258.5C388.3,258.9 376.7,258.9 370,258.5C363.3,258.1 358,257.3 355,256C352,254.7 350.7,251.5 352,250.5Z" fill="#ff4500"/>
<path d="M199,250C200.3,248.5 203.8,246.7 206,247C208.2,247.3 209.3,250.2 212,252C214.7,253.8 217.3,256.2 222,257.5C226.7,258.8 236.5,260.1 240,260C243.5,259.9 241.3,256.7 243,257C244.7,257.3 252.2,260.8 250,262C247.8,263.2 237.5,264 230,264C222.5,264 210.3,263.3 205,262C199.7,260.7 199,258 198,256C197,254 197.7,251.5 199,250Z" fill="#ff4500"/>
<rect x="178" y="261.3" width="270" height="1.4" fill="#ffd700" opacity="0.8"/>
<rect x="0" y="262.5" width="440" height="2" fill="#f5e6be"/>
<path d="M425,259.5C428.5,258.2 438.3,257.4 441,258.5C443.7,259.6 444.5,264.8 441,266C437.5,267.2 422.7,267.1 420,266C417.3,264.9 421.5,260.8 425,259.5Z" fill="#deb887"/>
</g>
</g>
<g clip-path="url(#fc0)"><use href="#coast" transform="translate(0,157.2)" fill="none" stroke="#000" stroke-width="0.9" stroke-linejoin="round"/></g>
<path d="M0.5,266 V48.5 H437.4 V266" fill="none" stroke="#555" stroke-width="1.1"/>
<path d="M0,266.2 H437.9" fill="none" stroke="#777" stroke-width="1.3"/>
<g clip-path="url(#dc1)">
<g filter="url(#rag2)">
<rect x="-8" y="319" width="456" height="229.3" fill="#0000cd"/>
</g>
<rect x="0" y="329" width="440" height="3.7" fill="#9370db"/>
<rect x="10" y="335.59999999999997" width="20" height="3.2" rx="1.5" fill="#9370db" opacity="0.75"/>
<rect x="32" y="335.4" width="20" height="3.2" rx="1.5" fill="#9370db" opacity="0.75"/>
<rect x="57" y="335.59999999999997" width="23" height="3.2" rx="1.5" fill="#9370db" opacity="0.75"/>
<rect x="85" y="335.59999999999997" width="22" height="3.2" rx="1.5" fill="#9370db" opacity="0.75"/>
<rect x="113" y="335.8" width="7" height="3.2" rx="1.5" fill="#9370db" opacity="0.75"/>
<rect x="125" y="335.59999999999997" width="10" height="3.2" rx="1.5" fill="#9370db" opacity="0.75"/>
<rect x="208" y="335.59999999999997" width="22" height="3.2" rx="1.5" fill="#9370db" opacity="0.75"/>
<rect x="277" y="335.8" width="9" height="3.2" rx="1.5" fill="#9370db" opacity="0.75"/>
<rect x="289" y="335.4" width="21" height="3.2" rx="1.5" fill="#9370db" opacity="0.75"/>
<rect x="313" y="335.59999999999997" width="21" height="3.2" rx="1.5" fill="#9370db" opacity="0.75"/>
<rect x="341" y="335.59999999999997" width="18" height="3.2" rx="1.5" fill="#9370db" opacity="0.75"/>
<rect x="362" y="335.2" width="28" height="3.2" rx="1.5" fill="#9370db" opacity="0.75"/>
<rect x="394" y="335.8" width="13" height="3.2" rx="1.5" fill="#9370db" opacity="0.75"/>
<rect x="421" y="336.2" width="11" height="3.2" rx="1.5" fill="#9370db" opacity="0.75"/>
<g filter="url(#rag2)">
<path d="M-3,352.1C-2.5,352.1 -2.3,352.1 0,352.1C2.3,352.1 8.2,350.9 11,352.1C13.8,353.3 14.7,357.7 16.5,359.3C18.3,360.9 20.2,361.1 22,361.5C23.8,361.9 25.6,361.7 27.4,361.5C29.2,361.3 30.2,360.4 33,360.4C35.8,360.4 39.5,360.7 44,361.5C48.5,362.3 55.5,365.3 60,365.3C64.5,365.3 67.3,361.6 71,361.5C74.7,361.4 78.3,364.5 82,364.7C85.7,364.9 89.3,363 93,362.5C96.7,362 100.3,361.9 104,361.5C107.7,361.1 112.3,360.2 115,359.8C117.7,359.4 117.3,359.3 120,359.3C122.7,359.3 127.3,359.4 131,359.8C134.7,360.2 138.3,361.4 142,361.5C145.7,361.6 149.3,360.5 153,360.4C156.7,360.3 160.3,360.7 164,360.9C167.7,361.1 172.3,361.9 175,361.5C177.7,361.1 178.2,358.6 180,358.2C181.8,357.8 184.2,358 186,359C187.8,360 189.3,363.9 191,364C192.7,364.1 194.2,360.1 196,359.3C197.8,358.5 200.1,359.5 202,359.3C203.9,359.1 205.6,358.8 207.4,358.2C209.2,357.6 210.2,356.2 213,356C215.8,355.8 220.3,356.6 224,357.1C227.7,357.7 232.3,358.9 235,359.3C237.7,359.7 237.3,359.4 240,359.3C242.7,359.2 247.3,358.8 251,358.7C254.7,358.6 258.3,358.3 262,358.7C265.7,359.1 270.1,359.8 273,360.9C275.9,362 277.8,365.2 279.5,365.3C281.2,365.4 281.4,362.3 283,361.5C284.6,360.7 287,360.6 289,360.4C291,360.2 293.2,360.2 295,360.4C296.8,360.6 297.3,361.1 300,361.5C302.7,361.9 307.3,362.1 311,362.5C314.7,362.9 318.3,363.7 322,364.2C325.7,364.7 329.3,365.1 333,365.3C336.7,365.5 340.3,365.2 344,365.3C347.7,365.4 351.9,365.8 355,365.8C358.1,365.8 361,367 362.5,365.5C364,364 363.1,358.9 364,357C364.9,355.1 366.5,354 368,354C369.5,354 370.7,355.9 373,357C375.3,358.1 379.5,360.1 382,360.4C384.5,360.7 386.2,359.8 388,359C389.8,358.2 390.3,356.2 393,355.4C395.7,354.6 399.5,354.6 404,354.3C408.5,354 415,354.1 420,353.8C425,353.5 431,352.9 434,352.7C437,352.5 436.8,352.5 438,352.5C439.2,352.5 440.5,352.5 441,352.5L441,542.3 L-3,542.3 Z" fill="#4169e1"/>
<path d="M-3,362C-2.5,362 -1,362 0,362C1,362 1.7,361.4 3,362C4.3,362.6 6.3,364.8 8,365.3C9.7,365.9 11.6,364.8 13,365.3C14.4,365.9 14.1,368.3 16.5,368.6C18.9,368.9 23.8,367 27.4,367C31,367 34.7,367.7 38.4,368.6C42.1,369.5 45.8,371.5 49.4,372.4C53,373.3 56.4,373.6 60,374C63.6,374.4 67.3,374.4 71,374.6C74.7,374.8 78.3,375.1 82,375.2C85.7,375.3 90,375.5 93,375.2C96,374.9 98.2,374.1 100,373.5C101.8,372.9 101.9,372.1 104,371.3C106.1,370.5 109.9,369 112.6,368.6C115.3,368.2 116.9,369.2 120,368.8C123.1,368.4 127.3,366.7 131,366.4C134.7,366.1 138.3,366.7 142,367C145.7,367.3 149.3,367.7 153,368C156.7,368.3 161.2,368.9 164,368.6C166.8,368.3 168.2,366.6 170,366C171.8,365.4 173.3,365.1 175,364.7C176.7,364.3 178.5,363.3 180,363.5C181.5,363.7 182.7,364.9 184,366C185.3,367.1 186.5,370 188,370C189.5,370 191.5,367.2 193,366C194.5,364.8 195.5,363.6 197,363C198.5,362.4 197.5,362.6 202,362.5C206.5,362.4 218.5,362.4 224,362.5C229.5,362.6 232.3,363.1 235,363.1C237.7,363.2 237.3,362.8 240,362.8C242.7,362.8 246.5,363 251,363.1C255.5,363.2 263.3,363.1 267,363.5C270.7,363.9 271.1,365.1 273,365.8C274.9,366.6 276.6,367.5 278.4,368C280.2,368.5 282.2,368.8 284,368.6C285.8,368.4 287.2,366.9 289,366.9C290.8,366.9 293.2,368.1 295,368.6C296.8,369.1 297.3,369.3 300,369.7C302.7,370.1 307.3,370.7 311,370.8C314.7,370.9 318.3,370.4 322,370.2C325.7,370 329.3,369.8 333,369.7C336.7,369.6 340.3,369.9 344,369.7C347.7,369.5 352.3,369 355,368.6C357.7,368.2 358.5,367.9 360,367.5C361.5,367.1 362.8,366.9 364,366C365.2,365.1 364,362.5 367,362C370,361.5 376.3,362.9 382,363.1C387.7,363.3 394.2,363.2 401,363.1C407.8,363 416.8,362.7 423,362.5C429.2,362.3 435,362.1 438,362C441,361.9 440.5,362 441,362L441,542.3 L-3,542.3 Z" fill="#6495ed"/>
<path d="M-3,369.1C-2.5,369.1 -2.3,368.7 0,369.1C2.3,369.5 8.2,370.5 11,371.3C13.8,372.1 13.8,373.7 16.5,374C19.2,374.3 23.8,373.1 27.4,373C31,372.9 34.7,373.1 38.4,373.5C42.1,373.9 45.8,374.6 49.4,375.2C53,375.8 56.4,376.4 60,376.8C63.6,377.2 67.3,377.2 71,377.4C74.7,377.6 78.3,377.7 82,377.9C85.7,378.1 89.3,378.5 93,378.5C96.7,378.5 100.3,378.1 104,377.9C107.7,377.7 112.3,377.8 115,377.4C117.7,377 117.3,375.7 120,375.5C122.7,375.3 127.7,376.7 131,376.3C134.3,375.9 137.5,373.6 140,373C142.5,372.4 143.8,371.8 146,372.4C148.2,372.9 150,375.6 153,376.3C156,377 160.8,377.2 164,376.8C167.2,376.4 169.3,375.3 172,374C174.7,372.7 176.8,369.9 180,369C183.2,368.1 187.3,368.9 191,368.6C194.7,368.4 196.5,367.7 202,367.5C207.5,367.3 218.5,367.4 224,367.5C229.5,367.6 232.3,367.8 235,368C237.7,368.2 233.7,368.5 240,368.6C246.3,368.7 266.2,368.2 273,368.6C279.8,369.1 278.8,370.5 280.6,371.3C282.4,372.1 282.6,372.8 284,373.5C285.4,374.2 287.2,375.1 289,375.7C290.8,376.3 293.2,377.3 295,377.4C296.8,377.4 297.3,376.6 300,376C302.7,375.4 307.3,374.5 311,374.1C314.7,373.7 318.3,373.7 322,373.5C325.7,373.3 329.3,373.2 333,373C336.7,372.8 340.3,372.6 344,372.4C347.7,372.2 352.3,372.2 355,371.9C357.7,371.6 357.3,371.5 360,370.8C362.7,370.1 367.3,367.9 371,367.5C374.7,367.1 370.8,368.4 382,368.6C393.2,368.8 428.2,368.6 438,368.6C447.8,368.6 440.5,368.6 441,368.6L441,542.3 L-3,542.3 Z" fill="#b0e0e6"/>
<path d="M133,375.7C133.3,375.2 135,374.9 136,375C137,375.1 138.7,375.8 139,376.3C139.3,376.8 138.8,377.7 138,378C137.2,378.3 134.8,378.4 134,378C133.2,377.6 132.7,376.2 133,375.7Z" fill="#6495ed"/>
<path d="M-3,374C-2.5,374 -1.4,373.4 0,374C1.4,374.6 3.2,377.4 5.5,377.9C7.8,378.4 11.2,377.1 14,376.8C16.8,376.5 18.8,376.4 22,376.3C25.2,376.2 29.3,376.2 33,376.3C36.7,376.4 41.7,376.2 44,376.8C46.3,377.4 45.7,379.1 47,380C48.3,380.9 50.5,382 52,382C53.5,382 54.7,380.7 56,380C57.3,379.3 57.5,378.2 60,377.9C62.5,377.6 68.2,377.9 71,378C73.8,378.1 74.7,378.3 76.5,378.5C78.3,378.7 80.2,378.4 82,379C83.8,379.6 84.7,381.4 87,382C89.3,382.6 93.2,382.5 96,382.3C98.8,382.1 100.8,381.2 104,380.6C107.2,380.1 112.3,379.4 115,379C117.7,378.6 117.3,378.3 120,378.5C122.7,378.7 127.3,379.7 131,380.1C134.7,380.6 139.3,381.6 142,381.2C144.7,380.8 145.6,378.1 147.4,377.9C149.2,377.7 150.2,379.9 153,380.1C155.8,380.3 161.3,379.6 164,379C166.7,378.4 167.7,376.9 169,376.8C170.3,376.7 171,377.7 172,378.5C173,379.3 174,381.4 175,381.5C176,381.6 177.2,380.3 178,379C178.8,377.7 178.8,374.1 180,373.5C181.2,372.9 182.8,375.8 185.5,375.7C188.2,375.6 193.8,373.4 196.5,373C199.2,372.6 199.2,373 202,373C204.8,373 209.3,372.9 213,373C216.7,373.1 220.3,373.3 224,373.5C227.7,373.7 232.3,374.1 235,374.1C237.7,374.1 233.7,373.6 240,373.5C246.3,373.4 265.7,373.6 273,373.7C280.3,373.8 281.7,373.6 284,374.1C286.3,374.6 285.7,375.9 287,376.8C288.3,377.7 289.9,378.9 291.6,379.6C293.3,380.3 295.6,380.8 297,381.2C298.4,381.6 297.7,382.1 300,382C302.3,381.9 307.3,381.3 311,380.6C314.7,379.9 318.3,378.4 322,377.9C325.7,377.4 329.3,377.4 333,377.4C336.7,377.4 340.3,378.1 344,377.9C347.7,377.7 352.3,376.8 355,376.3C357.7,375.9 357.3,375.7 360,375.2C362.7,374.7 367.3,373.8 371,373.5C374.7,373.2 373.3,373.6 382,373.7C390.7,373.8 413.7,374 423,374.1C432.3,374.2 435,374.1 438,374.1C441,374.1 440.5,374.1 441,374.1L441,542.3 L-3,542.3 Z" fill="#20b2aa"/>
<path d="M-3,379C-2.5,379 -2.3,378.9 0,379C2.3,379.1 7.3,379.7 11,379.6C14.7,379.5 18.3,378.6 22,378.5C25.7,378.4 29.3,378.7 33,379C36.7,379.3 41.5,379.1 44,380.1C46.5,381.1 46.7,383.7 48,385C49.3,386.3 50.7,388 52,388C53.3,388 54.7,386.1 56,385C57.3,383.9 57.5,381.8 60,381.2C62.5,380.6 67.3,381.5 71,381.7C74.7,381.9 79.7,381.6 82,382.3C84.3,383 84,384.9 85,386C86,387.1 87,388.9 88,388.9C89,388.9 90.2,386.7 91,386C91.8,385.3 90.8,385 93,384.5C95.2,384 100.3,383.4 104,382.8C107.7,382.2 112.3,381.6 115,381.2C117.7,380.8 117.3,380.5 120,380.6C122.7,380.7 127.3,381.4 131,381.7C134.7,382 139.3,382.5 142,382.3C144.7,382.1 145.6,380.7 147.4,380.6C149.2,380.5 150.2,381.7 153,381.7C155.8,381.7 160.9,380.5 164,380.6C167.1,380.7 168.8,382.7 171.5,382.3C174.2,381.9 176.8,378.9 180,378.5C183.2,378.1 187.3,379.7 191,380.1C194.7,380.6 199.3,381.6 202,381.2C204.7,380.8 205.6,378.4 207.4,377.9C209.2,377.3 207.6,377.9 213,377.9C218.4,377.9 230,377.9 240,377.9C250,377.9 265.7,377.9 273,377.9C280.3,377.9 281.4,377.5 284,377.9C286.6,378.3 286.5,379.3 288.3,380.1C290.1,380.9 293.1,382.2 295,382.8C296.9,383.4 297.3,384.1 300,384C302.7,383.9 307.3,382.9 311,382.3C314.7,381.7 318.3,380.5 322,380.1C325.7,379.7 329.3,380.1 333,380.1C336.7,380.1 340.3,380.4 344,380.1C347.7,379.8 352.3,378.9 355,378.5C357.7,378.1 357.3,378 360,377.9C362.7,377.8 364.2,377.9 371,377.9C377.8,377.9 390.5,377.9 401,378.1C411.5,378.3 427.8,378.9 434,379C440.2,379.1 436.8,379 438,379C439.2,379 440.5,379 441,379L441,542.3 L-3,542.3 Z" fill="#bcee60"/>
<path d="M-3,381.7C-2.5,381.7 -2.3,381.6 0,381.7C2.3,381.8 7.3,382.3 11,382.3C14.7,382.3 16.5,381.5 22,381.7C27.5,381.9 39.7,382.4 44,383.5C48.3,384.6 46.7,386.8 48,388C49.3,389.2 50.7,391 52,391C53.3,391 54.7,388.8 56,388C57.3,387.2 57.5,386.3 60,386.1C62.5,385.9 67.3,386.5 71,386.7C74.7,386.9 79.2,386.6 82,387.2C84.8,387.8 86.2,390.3 88,390.5C89.8,390.7 90.3,388.9 93,388.3C95.7,387.8 100.3,387.6 104,387.2C107.7,386.8 112.3,386.4 115,386.1C117.7,385.8 117.3,385.6 120,385.3C122.7,385 127.3,384.7 131,384.5C134.7,384.3 138.3,384.1 142,383.9C145.7,383.7 149.3,383.6 153,383.4C156.7,383.2 159.5,382.8 164,382.8C168.5,382.8 175.5,383 180,383.2C184.5,383.4 187.3,383.9 191,383.9C194.7,383.9 198.3,383.6 202,383.4C205.7,383.2 206.7,382.9 213,382.8C219.3,382.7 228.2,382.8 240,382.8C251.8,382.8 275.8,382.5 284,382.8C292.2,383.1 287.6,383.9 289.4,384.5C291.2,385.1 293.2,386.2 295,386.7C296.8,387.2 297.3,387.8 300,387.5C302.7,387.2 307.3,385.7 311,385C314.7,384.3 318.3,383.7 322,383.4C325.7,383.1 329.3,383.5 333,383.4C336.7,383.3 340.3,383 344,382.8C347.7,382.6 352.3,382.4 355,382.3C357.7,382.2 357.3,382.1 360,382.2C362.7,382.3 367.3,382.6 371,382.8C374.7,383 377,383.1 382,383.2C387,383.3 394.2,383.3 401,383.2C407.8,383.1 416.8,382.6 423,382.3C429.2,382.1 435,381.8 438,381.7C441,381.6 440.5,381.7 441,381.7L441,542.3 L-3,542.3 Z" fill="#94bc30"/>
<path d="M-3,397.6C-2.5,397.6 -2.8,397.6 0,397.6C2.8,397.6 11,397.8 14,397.6C17,397.4 13,396.7 18,396.5C23,396.3 38.3,396.8 44,396.5C49.7,396.2 49.3,395.8 52,395C54.7,394.2 56.8,392.2 60,391.6C63.2,391 67.3,391.6 71,391.6C74.7,391.6 78.3,391.3 82,391.6C85.7,391.9 90.3,392.9 93,393.3C95.7,393.7 96.6,393.8 98.4,393.8C100.2,393.8 101.2,393.7 104,393.3C106.8,392.9 112.3,392 115,391.6C117.7,391.2 117.3,391.2 120,390.8C122.7,390.4 127.3,389.3 131,388.9C134.7,388.5 138.3,388.5 142,388.3C145.7,388.1 147.5,388 153,387.8C158.5,387.6 170.5,387.2 175,387.2C179.5,387.2 177.3,387.6 180,387.8C182.7,388 187.3,388.3 191,388.3C194.7,388.3 193.8,387.9 202,387.8C210.2,387.7 226.3,387.6 240,387.6C253.7,387.6 275.8,387.5 284,387.6C292.2,387.7 287.6,387.8 289.4,388.3C291.2,388.8 293.2,390 295,390.5C296.8,391 297.3,391.6 300,391.4C302.7,391.2 307.3,389.9 311,389.4C314.7,388.9 318.3,388.6 322,388.3C325.7,388 329.3,387.9 333,387.8C336.7,387.7 340.3,387.7 344,387.6C347.7,387.5 348.7,387.2 355,387.2C361.3,387.2 372.5,387.7 382,387.8C391.5,387.9 405.2,387.7 412,387.8C418.8,387.9 420.3,387.8 423,388.3C425.7,388.9 426.6,389.4 428.4,391.1C430.2,392.8 432.4,397.8 434,398.7C435.6,399.6 436.8,397 438,396.6C439.2,396.2 440.5,396.6 441,396.6L441,542.3 L-3,542.3 Z" fill="#f5e6be"/>
<path d="M13,388.5C14,387.6 17.2,387.8 20,387.8C22.8,387.8 26.7,388.2 30,388.5C33.3,388.8 37.7,388.9 40,389.5C42.3,390.1 43.7,390.8 44,392C44.3,393.2 44.3,396 42,396.8C39.7,397.6 33.7,397.1 30,397C26.3,396.9 22.7,397.2 20,396.5C17.3,395.8 15.2,394.3 14,393C12.8,391.7 12,389.4 13,388.5Z" fill="#f5e6be"/>
<path d="M4.4,390C5.5,389.3 9.9,389.3 11,390C12.1,390.7 12.1,393.7 11,394.4C9.9,395.1 5.5,395.1 4.4,394.4C3.3,393.7 3.3,390.7 4.4,390Z" fill="#bcee60"/>
<path d="M-3,402C-2.5,402 -2.3,401.6 0,402C2.3,402.4 7.3,403.6 11,404.2C14.7,404.8 18.3,405.3 22,405.9C25.7,406.4 30.3,407.8 33,407.5C35.7,407.2 35.3,405.5 38,404.2C40.7,402.9 45.3,400.9 49,399.8C52.7,398.7 56.3,398.1 60,397.6C63.7,397.2 67.3,396.9 71,397.1C74.7,397.3 79.3,398.1 82,398.7C84.7,399.2 85.6,400.6 87.4,400.4C89.2,400.2 90.2,398.2 93,397.6C95.8,397.1 100.3,397.5 104,397.1C107.7,396.8 112.3,395.9 115,395.5C117.7,395.1 117.3,395.1 120,394.9C122.7,394.7 127.3,394.6 131,394.4C134.7,394.2 138.3,394 142,393.8C145.7,393.6 147.5,393.5 153,393.3C158.5,393.1 160.5,392.8 175,392.7C189.5,392.6 221.8,392.7 240,392.7C258.2,392.7 275.8,392.6 284,392.7C292.2,392.8 287.6,392.7 289.4,393C291.2,393.3 293.2,394 295,394.4C296.8,394.8 297.3,395.4 300,395.5C302.7,395.6 307.3,395.3 311,394.9C314.7,394.5 318.3,393.7 322,393.3C325.7,392.9 329.3,392.9 333,392.7C336.7,392.5 340.3,392.5 344,392.4C347.7,392.3 350.5,392.1 355,392.2C359.5,392.2 363.3,392.6 371,392.7C378.7,392.8 394.2,392.6 401,392.7C407.8,392.8 408.3,393.1 412,393.3C415.7,393.5 420.7,392.7 423,393.8C425.3,394.9 424.7,398.4 426,399.8C427.3,401.2 429.3,400.9 430.6,402C431.9,403.1 432.8,405.9 434,406.4C435.2,406.9 436.8,405.1 438,404.8C439.2,404.5 440.5,404.8 441,404.8L441,542.3 L-3,542.3 Z" fill="#deb887"/>
<path d="M21,396.5C22.2,395.8 25.7,395.9 28,396C30.3,396.1 33.8,396.3 35,397C36.2,397.7 36.2,399.3 35,400C33.8,400.7 30.3,401 28,401C25.7,401 22.2,400.8 21,400C19.8,399.2 19.8,397.2 21,396.5Z" fill="#94bc30"/>
<path d="M-3,415.2C-2.5,415.2 -2.3,415 0,415.2C2.3,415.4 7.3,416.2 11,416.3C14.7,416.4 18.3,415.9 22,415.7C25.7,415.5 29.9,416 33,415.2C36.1,414.4 38.8,412.1 40.6,410.8C42.4,409.5 42.4,408 44,407.5C45.6,407 48.2,407.6 50,408C51.8,408.4 53.3,409.2 55,410C56.7,410.8 58.2,412 60,412.5C61.8,413 64.3,413.4 66,413C67.7,412.6 68.8,411.5 70,410C71.2,408.5 71,405 73,404C75,403 78.7,404.1 82,404.2C85.3,404.3 89.3,404.9 93,404.8C96.7,404.7 100.3,404.1 104,403.7C107.7,403.3 112.3,403 115,402.6C117.7,402.2 117.3,401.8 120,401.5C122.7,401.2 127.3,401 131,400.9C134.7,400.8 138.3,401 142,400.9C145.7,400.8 149.3,400.5 153,400.4C156.7,400.3 149.5,400.4 164,400.4C178.5,400.4 220,400.4 240,400.4C260,400.4 274,400.2 284,400.4C294,400.6 295.5,401.1 300,401.5C304.5,401.9 307.3,402.7 311,402.6C314.7,402.5 318.3,401.4 322,400.9C325.7,400.4 327.5,400 333,399.8C338.5,399.6 348.7,399.5 355,399.6C361.3,399.7 363.3,400.3 371,400.4C378.7,400.5 394.2,400.3 401,400.4C407.8,400.5 409.3,400.6 412,400.9C414.7,401.2 416.2,400.8 417.4,402C418.6,403.2 418.1,406.2 419,408C419.9,409.8 420.5,411.8 423,413C425.5,414.2 431.5,414.8 434,415.2C436.5,415.6 436.8,415.2 438,415.2C439.2,415.2 440.5,415.2 441,415.2L441,542.3 L-3,542.3 Z" fill="#ffd700"/>
<path d="M-3,418.5C-2.5,418.5 -2.3,418.3 0,418.5C2.3,418.7 7.3,419.2 11,419.6C14.7,420 18.3,420.7 22,420.7C25.7,420.7 29.3,420.2 33,419.6C36.7,419.1 39.5,417.9 44,417.4C48.5,416.8 56.3,416.7 60,416.3C63.7,415.9 64.2,416.1 66,415C67.8,413.9 68.3,410.4 71,409.7C73.7,409 78.3,410.4 82,410.8C85.7,411.2 89.3,411.9 93,411.9C96.7,411.9 100.3,411.2 104,410.8C107.7,410.4 112.3,409.9 115,409.7C117.7,409.5 115.5,409.4 120,409.4C124.5,409.4 134.7,409.6 142,409.7C149.3,409.8 147.7,409.7 164,409.7C180.3,409.7 220,409.6 240,409.5C260,409.4 274,409.1 284,409.2C294,409.3 295.5,410.2 300,410.3C304.5,410.4 307.3,409.9 311,409.7C314.7,409.5 318.3,409.3 322,409.2C325.7,409.1 329.3,409.1 333,409.2C336.7,409.3 339.5,409.6 344,409.7C348.5,409.8 350,409.7 360,409.7C370,409.7 395.3,409.5 404,409.7C412.7,409.9 410,410.4 412,410.8C414,411.2 414.8,411.4 416,411.9C417.2,412.4 417.8,413.3 419,414C420.2,414.7 420.5,415.6 423,416.3C425.5,417.1 431.5,418.1 434,418.5C436.5,418.9 436.8,418.5 438,418.5C439.2,418.5 440.5,418.5 441,418.5L441,542.3 L-3,542.3 Z" fill="#ffa500"/>
<path d="M-3,424C-2.5,424 -2.3,423.9 0,424C2.3,424.1 7.3,424.5 11,424.5C14.7,424.5 18.3,424.2 22,424C25.7,423.8 29.3,423.6 33,423.4C36.7,423.2 39.5,423.6 44,423C48.5,422.4 55.5,420.2 60,419.5C64.5,418.8 67.3,418.8 71,418.5C74.7,418.2 78.3,417.7 82,417.9C85.7,418.1 89.3,419.5 93,419.6C96.7,419.7 100.3,418.9 104,418.5C107.7,418.1 112.3,417.7 115,417.4C117.7,417.1 117.3,416.6 120,416.8C122.7,417 127.3,418.1 131,418.5C134.7,418.9 138.3,419 142,419C145.7,419 149.3,418.7 153,418.5C156.7,418.3 159.5,417.9 164,417.9C168.5,417.9 167.3,418.4 180,418.5C192.7,418.6 220,418.8 240,418.7C260,418.6 286.3,418 300,417.9C313.7,417.8 316.5,418.2 322,418.3C327.5,418.4 326.7,418.4 333,418.5C339.3,418.6 348.2,418.9 360,419C371.8,419.1 395.3,418.9 404,419C412.7,419.1 409.8,419.3 412,419.6C414.2,419.9 415.6,420.3 417.4,420.7C419.2,421.1 420.2,421.2 423,421.8C425.8,422.4 431.5,423.6 434,424C436.5,424.4 436.8,424.4 438,424.5C439.2,424.6 440.5,424.5 441,424.5L441,542.3 L-3,542.3 Z" fill="#ff4500"/>
<path d="M-3,430C-2.5,430 -9.7,430 0,430C9.7,430 45,430.2 55,430C65,429.8 19.2,429.1 60,428.9C100.8,428.7 241.3,428.8 300,428.9C358.7,429 389,429.3 412,429.5C435,429.7 433.2,429.9 438,430C442.8,430.1 440.5,430 441,430L441,542.3 L-3,542.3 Z" fill="#b22222"/>
<g transform="translate(0,433.5)">
<g clip-path="url(#L_africa)"><rect x="0" y="-8" width="70" height="10" fill="#ff4500"/></g>
<g clip-path="url(#L_namerica)"><rect x="330" y="-8" width="80" height="11" fill="#ff4500"/></g>
</g>
<path d="M342.6,419.5C343.6,418.7 347.1,418.5 350,418.5C352.9,418.5 359,418.6 360.3,419.5C361.6,420.4 359.7,423.1 358,424C356.3,424.9 352.3,425.1 350,425C347.7,424.9 345.2,424.4 344,423.5C342.8,422.6 341.6,420.3 342.6,419.5Z" fill="#ffa500"/>
<path d="M-3,441.5C-2.5,441.5 -8.8,441.7 0,441.5C8.8,441.3 23.3,440.4 50,440.2C76.7,440 118.3,440 160,440.2C201.7,440.4 268.3,441.1 300,441.5C331.7,441.9 333.3,442.3 350,442.3C366.7,442.3 385.3,441.6 400,441.5C414.7,441.4 431.2,441.5 438,441.5C444.8,441.5 440.5,441.5 441,441.5L441,542.3 L-3,542.3 Z" fill="#ffb6c1"/>
<g transform="translate(0,433.5)">
<g clip-path="url(#L_africa)"><rect x="0" y="1.7" width="70" height="36.6" fill="#b22222"/></g>
<g clip-path="url(#L_namerica)"><path d="M330,3 H400 V24 L390,24 L384,27 L377,29 L372,27 L366,23.5 L360,24 L358,32 L352,33 L350,24 L330,24Z" fill="#b22222"/></g>
</g>
<path d="M141.5,463C142.3,461 143.8,460.5 146,459C148.2,457.5 152.5,455.7 155,454C157.5,452.3 159.3,449.2 161,449C162.7,448.8 163.8,452.8 165,453C166.2,453.2 166.8,449.7 168,450.5C169.2,451.3 170.3,455.6 172,458C173.7,460.4 176.6,462.8 178,465C179.4,467.2 180.3,469.1 180.5,471C180.7,472.9 180.1,475.7 179,476.5C177.9,477.3 175.8,476.4 174,476C172.2,475.6 170.3,474.6 168,474C165.7,473.4 162.7,472.4 160,472.5C157.3,472.6 154.5,474.1 152,474.5C149.5,474.9 146.8,475.6 145,475C143.2,474.4 141.6,473 141,471C140.4,469 140.7,465 141.5,463Z" fill="#b22222"/>
<path d="M40,459C40.8,457.7 42.2,455.7 43,456C43.8,456.3 44.8,459.3 44.5,461C44.2,462.7 42.6,464.1 41,466C39.4,467.9 36.8,471.3 35,472.5C33.2,473.7 30.3,473.8 30,473C29.7,472.2 31.7,469.5 33,468C34.3,466.5 36.8,465.5 38,464C39.2,462.5 39.2,460.3 40,459Z" fill="#ffb6c1"/>
<path d="M344.5,491C345.2,489.5 347.6,489.3 349,489.5C350.4,489.7 352.3,490.6 353,492C353.7,493.4 353.7,496.6 353,498C352.3,499.4 350.3,500.4 349,500.5C347.7,500.6 345.8,500.1 345,498.5C344.2,496.9 343.8,492.5 344.5,491Z" fill="#b22222"/>
<path d="M-3,507C-2.5,507 -1.5,507.3 0,507C1.5,506.7 4.3,505.6 6,505C7.7,504.4 8.3,503.3 10,503.5C11.7,503.7 13.7,506 16,506C18.3,506 21.7,503.4 24,503.5C26.3,503.6 27.7,506.2 30,506.5C32.3,506.8 35.5,504.9 38,505C40.5,505.1 42.7,507 45,507C47.3,507 49.5,505.2 52,505C54.5,504.8 57,506.2 60,506C63,505.8 67,503.5 70,503.5C73,503.5 75,505.8 78,506C81,506.2 85,504.3 88,504.5C91,504.7 93.3,507.2 96,507C98.7,506.8 101.3,503.7 104,503.5C106.7,503.3 109,505.9 112,506C115,506.1 119,504 122,504C125,504 127,505.9 130,506C133,506.1 134.2,504.8 140,504.6C145.8,504.4 156.7,504.8 165,504.6C173.3,504.4 181.5,503.9 190,503.3C198.5,502.7 209.3,501.4 216,500.8C222.7,500.2 225.8,499.8 230,500C234.2,500.2 236.2,501.2 241,502C245.8,502.8 254.2,504.3 259,504.6C263.8,504.9 266.5,504.2 270,504C273.5,503.8 275,503.5 280,503.3C285,503.1 291.7,503.2 300,503C308.3,502.8 320.7,501.9 330,502C339.3,502.1 345.8,502.9 356,503.3C366.2,503.7 377,504.4 391,504.6C405,504.8 431.7,504.6 440,504.6C448.3,504.6 440.8,504.6 441,504.6L441,542.3 L-3,542.3 Z" fill="#b22222"/>
<path d="M260,504C260.2,503 262.3,503 264,503C265.7,503 268.2,503.3 270,504C271.8,504.7 273.2,506.8 275,507C276.8,507.2 279.7,504.5 281,505C282.3,505.5 283.2,508.3 283,510C282.8,511.7 281.5,514 280,515C278.5,516 276,516.5 274,516C272,515.5 269.8,513.2 268,512C266.2,510.8 264.3,510.3 263,509C261.7,507.7 259.8,505 260,504Z" fill="#ffb6c1"/>
<rect x="280" y="509.5" width="6" height="5" fill="#ffb6c1"/>
<g transform="translate(0,433.5)">
<clipPath id="m2a"><path d="M-5,60 H200 V120 H-5Z M285,60 H352 V120 H285Z M418,60 H445 V120 H418Z"/></clipPath>
<g clip-path="url(#m2a)">
<path d="M-5,80.4L0.5,80.4L12.6,80.4L24.8,80.4L36.9,79.2L43,79.2L49.1,78.6L55.1,77.4L61.2,76.2L67.3,75.5L73.3,77.1L79.4,77.4L85.5,78.6L89.1,80L94,79.2L97.6,77.6L103.7,76.2L109.8,76.2L115.8,75.5L121.9,75.2L128,75.9L134,75.5L140.1,75.9L146.2,76.2L152.2,75.9L158.3,75.8L164.4,75.5L170.4,76.4L176.5,76.8L182.6,78.3L188.7,79.2L194.7,80.4L200.8,81.2L206.9,82.2L206.9,84L202,86.4L199.6,89.4L196.8,92L200.8,93.7L211,95.5L231.1,97.3L257.8,99L250.6,95.5L242.1,92.8L239.6,91.5L243.3,90.5L249.3,89.8L258.3,88.4L267.6,87L273.6,85.8L279.7,85.6L291.8,85.2L304,85.8L310,86.2L316.1,84L322.2,83.8L328.2,83.8L334.3,84L340.4,84L346.5,83.4L348.9,81.6L352.5,79.2L355,77.4L357.4,75.5L359.8,74.3L362.2,73.1L365.9,72.3L368.3,72.5L367.1,73.7L364.7,74.9L362.2,76.8L363.5,79.2L363.5,82.8L362.2,85.2L358.6,87.6L364.7,88.2L376.8,89.4L388.9,90L395,89.4L401.1,87.6L407.2,86.4L413.2,84.6L419.3,83.4L425.4,81.6L431.4,81L437.5,80.4L445,80.4L445,120L-5,120Z" fill="#ff4500"/>
<path d="M-5,81.8L0.5,81.8L12.6,81.8L24.8,81.8L36.9,80.6L43,80.6L49.1,80L55.1,78.8L61.2,77.6L67.3,76.9L73.3,78.5L79.4,78.8L85.5,80L89.1,81.4L94,80.6L97.6,79L103.7,77.6L109.8,77.6L115.8,76.9L121.9,76.6L128,77.3L134,76.9L140.1,77.3L146.2,77.6L152.2,77.3L158.3,77.2L164.4,76.9L170.4,77.8L176.5,78.2L182.6,79.7L188.7,80.6L194.7,81.8L200.8,82.6L206.9,83.6L206.9,85.4L202,87.8L199.6,90.8L196.8,93.4L200.8,95.1L211,96.9L231.1,98.7L257.8,100.4L250.6,96.9L242.1,94.2L239.6,92.9L243.3,91.9L249.3,91.2L258.3,89.8L267.6,88.4L273.6,87.2L279.7,87L291.8,86.6L304,87.2L310,87.6L316.1,85.4L322.2,85.2L328.2,85.2L334.3,85.4L340.4,85.4L346.5,84.8L348.9,83L352.5,80.6L355,78.8L357.4,76.9L359.8,75.7L362.2,74.5L365.9,73.7L368.3,73.9L367.1,75.1L364.7,76.3L362.2,78.2L363.5,80.6L363.5,84.2L362.2,86.6L358.6,89L364.7,89.6L376.8,90.8L388.9,91.4L395,90.8L401.1,89L407.2,87.8L413.2,86L419.3,84.8L425.4,83L431.4,82.4L437.5,81.8L445,81.8L445,120L-5,120Z" fill="#ffa500"/>
<path d="M-5,83.1L0.5,83.1L12.6,83.1L24.8,83.1L36.9,81.9L43,81.9L49.1,81.3L55.1,80.1L61.2,78.9L67.3,78.2L73.3,79.8L79.4,80.1L85.5,81.3L89.1,82.7L94,81.9L97.6,80.3L103.7,78.9L109.8,78.9L115.8,78.2L121.9,77.9L128,78.6L134,78.2L140.1,78.6L146.2,78.9L152.2,78.6L158.3,78.5L164.4,78.2L170.4,79.1L176.5,79.5L182.6,81L188.7,81.9L194.7,83.1L200.8,83.9L206.9,84.9L206.9,86.7L202,89.1L199.6,92.1L196.8,94.7L200.8,96.4L211,98.2L231.1,100L257.8,101.7L250.6,98.2L242.1,95.5L239.6,94.2L243.3,93.2L249.3,92.5L258.3,91.1L267.6,89.7L273.6,88.5L279.7,88.3L291.8,87.9L304,88.5L310,88.9L316.1,86.7L322.2,86.5L328.2,86.5L334.3,86.7L340.4,86.7L346.5,86.1L348.9,84.3L352.5,81.9L355,80.1L357.4,78.2L359.8,77L362.2,75.8L365.9,75L368.3,75.2L367.1,76.4L364.7,77.6L362.2,79.5L363.5,81.9L363.5,85.5L362.2,87.9L358.6,90.3L364.7,90.9L376.8,92.1L388.9,92.7L395,92.1L401.1,90.3L407.2,89.1L413.2,87.3L419.3,86.1L425.4,84.3L431.4,83.7L437.5,83.1L445,83.1L445,120L-5,120Z" fill="#ffd700"/>
</g>
</g>
<path d="M220,518C220.3,516.8 223.3,516.4 226,516C228.7,515.6 232.3,515.5 236,515.5C239.7,515.5 243.7,515.7 248,516C252.3,516.3 259,516.7 262,517.5C265,518.3 266,519.8 266,521C266,522.2 264.3,524.5 262,525C259.7,525.5 255,523.8 252,524C249,524.2 247.3,526.2 244,526.5C240.7,526.8 235.3,526.6 232,526C228.7,525.4 226,524.3 224,523C222,521.7 219.7,519.2 220,518Z" fill="#ff4500"/>
<path d="M190,512C192,511.8 196.7,512.7 200,513.5C203.3,514.3 209.2,516.1 210,517C210.8,517.9 207.3,519 205,519C202.7,519 198.8,517.8 196,517C193.2,516.2 189,515.3 188,514.5C187,513.7 188,512.2 190,512Z" fill="#ff4500"/>
<path d="M376,512C377.3,510.3 381,510.2 384,510C387,509.8 391.3,510.3 394,511C396.7,511.7 399.3,512.2 400,514C400.7,515.8 399.3,519.8 398,522C396.7,524.2 395,526.2 392,527C389,527.8 382.7,528.2 380,527C377.3,525.8 376.7,522.5 376,520C375.3,517.5 374.7,513.7 376,512Z" fill="#ff4500"/>
<path d="M285,518C287.5,517.1 294.2,516.7 300,516.5C305.8,516.3 313.2,516.9 320,517C326.8,517.1 337.5,516.3 341,517C344.5,517.7 344.5,520.2 341,521C337.5,521.8 326.8,521.3 320,521.5C313.2,521.7 305.8,521.9 300,522C294.2,522.1 287.5,522.7 285,522C282.5,521.3 282.5,518.9 285,518Z" fill="#ff4500"/>
<path d="M285,520.5C290.8,519.9 310.7,520.2 320,520C329.3,519.8 337.5,519.1 341,519.5C344.5,519.9 347.8,521.8 341,522.5C334.2,523.2 309.3,523.3 300,523.5C290.7,523.7 287.5,524 285,523.5C282.5,523 279.2,521.1 285,520.5Z" fill="#ffa500"/>
<path d="M400,516C401,513.8 404.7,512 408,511C411.3,510 416,510 420,510C424,510 428.7,510.7 432,511C435.3,511.3 438.7,511.2 440,512C441.3,512.8 442.5,514.8 440,516C437.5,517.2 430,518 425,519C420,520 413.8,521.2 410,522C406.2,522.8 403.7,525 402,524C400.3,523 399,518.2 400,516Z" fill="#b22222"/>
<circle cx="243" cy="518" r="1.2" fill="#ffa500"/>
<circle cx="247" cy="520" r="1.2" fill="#ffa500"/>
<circle cx="250" cy="517.5" r="1.2" fill="#ffa500"/>
<g transform="translate(0,433.5)" clip-path="url(#L_ant)">
<rect x="0" y="70" width="440" height="50" fill="#bcee60"/>
<path d="M-5,86.2L0.5,86.2L12.6,86.2L24.8,86.2L36.9,85L43,85L49.1,84.4L55.1,83.2L61.2,82L67.3,81.3L73.3,82.9L79.4,83.2L85.5,84.4L89.1,85.8L94,85L97.6,83.4L103.7,82L109.8,82L115.8,81.3L121.9,81L128,81.7L134,81.3L140.1,81.7L146.2,82L152.2,81.7L158.3,81.6L164.4,81.3L170.4,82.2L176.5,82.6L182.6,84.1L188.7,85L194.7,86.2L200.8,87L206.9,88L206.9,89.8L202,92.2L199.6,95.2L196.8,97.8L200.8,99.5L211,101.3L231.1,103.1L257.8,104.8L250.6,101.3L242.1,98.6L239.6,97.3L243.3,96.3L249.3,95.6L258.3,94.2L267.6,92.8L273.6,91.6L279.7,91.4L291.8,91L304,91.6L310,92L316.1,89.8L322.2,89.6L328.2,89.6L334.3,89.8L340.4,89.8L346.5,89.2L348.9,87.4L352.5,85L355,83.2L357.4,81.3L359.8,80.1L362.2,78.9L365.9,78.1L368.3,78.3L367.1,79.5L364.7,80.7L362.2,82.6L363.5,85L363.5,88.6L362.2,91L358.6,93.4L364.7,94L376.8,95.2L388.9,95.8L395,95.2L401.1,93.4L407.2,92.2L413.2,90.4L419.3,89.2L425.4,87.4L431.4,86.8L437.5,86.2L445,86.2L445,120L-5,120Z" fill="#20b2aa"/>
</g>
<path d="M71,518.5C72.3,517.8 76.5,517.5 80,517.5C83.5,517.5 90.2,517.6 92,518.5C93.8,519.4 92.3,521.8 91,523C89.7,524.2 86.7,525.6 84,526C81.3,526.4 77,526.2 75,525.5C73,524.8 72.7,523.2 72,522C71.3,520.8 69.7,519.2 71,518.5Z" fill="#bcee60"/>
<path d="M9.5,534C10.8,533.2 14.9,533.1 20,533C25.1,532.9 36,532.8 40,533.5C44,534.2 45.7,536.2 44,537C42.3,537.8 35.3,537.9 30,538C24.7,538.1 15.4,538.2 12,537.5C8.6,536.8 8.2,534.8 9.5,534Z" fill="#bcee60"/>
<path d="M128,534C128.8,534.1 134.7,532.7 140,532.5C145.3,532.3 154.2,532.6 160,533C165.8,533.4 170,535 175,535C180,535 185.8,533.8 190,533C194.2,532.2 197.8,531.5 200,530C202.2,528.5 203,525.8 203,524C203,522.2 201.2,520.1 200,519C198.8,517.9 198.3,517.9 196,517.5C193.7,517.1 189.3,516.5 186,516.5C182.7,516.5 175.7,516.8 176,517.5C176.3,518.2 185.3,519.6 188,521C190.7,522.4 192.3,524.5 192,526C191.7,527.5 189.7,529.2 186,530C182.3,530.8 176,530.7 170,531C164,531.3 155.8,531.8 150,532C144.2,532.2 138.7,531.7 135,532C131.3,532.3 127.2,533.9 128,534Z" fill="#bcee60"/>
<path d="M340,533C342.3,532.2 350.3,531.5 355,531.5C359.7,531.5 366.2,532.2 368,533C369.8,533.8 369,535.8 366,536.5C363,537.2 354.2,537.6 350,537.5C345.8,537.4 342.7,536.8 341,536C339.3,535.2 337.7,533.8 340,533Z" fill="#bcee60"/>
<path d="M378,530C380.5,529.2 389,529 395,529C401,529 411.2,529.2 414,530C416.8,530.8 415.2,532.8 412,533.5C408.8,534.2 400.3,534.5 395,534.5C389.7,534.5 382.8,534.2 380,533.5C377.2,532.8 375.5,530.8 378,530Z" fill="#bcee60"/>
</g><g>
<rect x="24.5" y="350.5" width="6" height="6.5" fill="#fff"/>
<rect x="212" y="354.2" width="6.5" height="6.3" fill="#fff"/>
<rect x="321.6" y="357.8" width="17" height="6.6" rx="1.5" fill="#fff"/>
<path d="M195,531 L200,528.5 L215,527 L240,527.5 L255,529.5 L258,532 L262,533.5 L255,535 L230,536.5 L205,536.3 L195,534Z" fill="#fff"/>
<rect x="341.7" y="517" width="7" height="5.4" fill="#fff"/>
<path d="M359.6,529.2 V519 L362,515 L366,512.6 H372 L375,516 L379,517 V526 L374,527 V529.2Z" fill="#fff"/>
<rect x="0" y="539.3" width="440" height="1.2" fill="#8fd8d2"/>
</g>
</g>
<g clip-path="url(#fc1)"><use href="#coast" transform="translate(0,433.5)" fill="none" stroke="#000" stroke-width="0.9" stroke-linejoin="round"/></g>
<path d="M0.5,542.5 V324.5 H437.4 V542.5" fill="none" stroke="#555" stroke-width="1.1"/>
<path d="M0,542.7 H437.9" fill="none" stroke="#777" stroke-width="1.3"/>
<g clip-path="url(#dc2)">
<g filter="url(#rag3)">
<rect x="-8" y="596" width="456" height="228.6" fill="#f5e6be"/>
</g>
<rect x="0" y="603.8" width="440" height="1.7" fill="#94bc30" opacity="1"/>
<rect x="0" y="610.2" width="440" height="1.8" fill="#94bc30" opacity="1"/>
<g filter="url(#rag3)">
<path d="M-3,698C-0.8,686.7 5.3,698 10,698C14.7,698 20.3,698 25,698C29.7,698 35.2,698.2 38,698C40.8,697.8 39.8,697.5 42,697C44.2,696.5 48,695.7 51,695C54,694.3 56.8,692.8 60,693C63.2,693.2 66.7,696.5 70,696C73.3,695.5 77.5,692 80,690C82.5,688 83,685.3 85,684C87,682.7 89.8,681.3 92,682C94.2,682.7 96.2,685.5 98,688C99.8,690.5 101.3,695.8 103,697C104.7,698.2 106.5,696.2 108,695C109.5,693.8 110.3,691.8 112,690C113.7,688.2 115.8,685.3 118,684C120.2,682.7 122.7,681.3 125,682C127.3,682.7 129.8,686.3 132,688C134.2,689.7 135.8,691 138,692C140.2,693 143,693.7 145,694C147,694.3 147.5,695 150,694C152.5,693 156.7,689.7 160,688C163.3,686.3 165,685.7 170,684C175,682.3 183.3,679.8 190,678C196.7,676.2 203.3,674.2 210,673C216.7,671.8 224.7,670.9 230,671C235.3,671.1 237.7,672.6 242,673.6C246.3,674.6 250.2,676.1 256,677C261.8,677.9 270.6,677.9 277,678.8C283.4,679.7 289.5,680.6 294.4,682.3C299.3,684 302.2,686.9 306.5,689C310.8,691.1 315.2,693.2 320,695C324.8,696.8 331.7,698.2 335,700C338.3,701.8 338.3,703.7 340,706C341.7,708.3 335.8,713 345,714C354.2,715 385.8,712.7 395,712C404.2,711.3 395.8,710.5 400,710C404.2,709.5 413.2,709.3 420,709C426.8,708.7 437.5,698.8 441,708C444.5,717.2 444.5,754.8 441,764C437.5,773.2 426.8,762.8 420,763C413.2,763.2 406.7,764.2 400,765C393.3,765.8 388,766.8 380,768C372,769.2 358,770.3 352,772C346,773.7 346.8,775.7 344,778C341.2,780.3 339,784.3 335,786C331,787.7 325.8,787.5 320,788C314.2,788.5 305.8,789 300,789C294.2,789 291.3,788.3 285,788C278.7,787.7 267,787.3 262,787C257,786.7 258.7,786 255,786C251.3,786 246.7,787 240,787C233.3,787 221.7,786.7 215,786C208.3,785.3 204.3,784.2 200,783C195.7,781.8 197.3,780.2 189,779C180.7,777.8 161.5,777.2 150,776C138.5,774.8 128.3,773.7 120,772C111.7,770.3 107.5,767.5 100,766C92.5,764.5 83.3,763.2 75,763C66.7,762.8 59.2,764.3 50,765C40.8,765.7 28.8,766.8 20,767C11.2,767.2 0.8,777.5 -3,766C-6.8,754.5 -5.2,709.3 -3,698Z" fill="#deb887"/>
<rect x="30" y="632.2" width="210" height="4.1" fill="#deb887" opacity="1"/>
<rect x="238" y="631" width="54" height="4" fill="#deb887" opacity="1"/>
<path d="M333.5,674C334.2,671.8 336.9,671.5 340,671C343.1,670.5 347.8,670.8 352,671C356.2,671.2 360.7,671.8 365,672C369.3,672.2 373.8,671.5 378,672C382.2,672.5 387,673 390,675C393,677 395.3,681.2 396,684C396.7,686.8 395.3,689.7 394,692C392.7,694.3 390.3,696.2 388,698C385.7,699.8 382.7,701.8 380,703C377.3,704.2 375,705 372,705C369,705 365.3,704.2 362,703C358.7,701.8 355,699.8 352,698C349,696.2 346.7,694.3 344,692C341.3,689.7 337.8,687 336,684C334.2,681 332.8,676.2 333.5,674Z" fill="#deb887"/>
<path d="M290,662C290.3,663.3 293.3,666.3 296,668C298.7,669.7 302.7,670.7 306,672C309.3,673.3 313.9,676 316,676C318.1,676 318.4,674.3 318.7,672C319,669.7 318.8,664 318,662C317.2,660 315.1,659.7 314,660C312.9,660.3 312,662.3 311.7,664C311.4,665.7 313.3,669.3 312,670C310.7,670.7 307,669.7 304,668C301,666.3 296.3,661 294,660C291.7,659 289.7,660.7 290,662Z" fill="#deb887"/>
<path d="M306,676C307,675 312,676.3 314,678C316,679.7 318,684 318,686C318,688 315.7,690.3 314,690C312.3,689.7 309.3,686.3 308,684C306.7,681.7 305,677 306,676Z" fill="#deb887"/>
<path d="M375,630C376.7,628.7 384.2,628.7 386,630C387.8,631.3 387.7,636.7 386,638C384.3,639.3 377.8,639.3 376,638C374.2,636.7 373.3,631.3 375,630Z" fill="#deb887"/>
<path d="M11.4,633.4C13,632.5 19.8,632.5 21.5,633.4C23.2,634.3 23.1,638.1 21.5,639C19.9,639.9 13.7,639.9 12,639C10.3,638.1 9.8,634.3 11.4,633.4Z" fill="#deb887"/>
<path d="M15.6,652C16.7,651.2 21.4,651.2 22.5,652C23.6,652.8 23.6,656.2 22.5,657C21.4,657.8 17.1,657.8 16,657C14.8,656.2 14.5,652.8 15.6,652Z" fill="#deb887"/>
<path d="M65,656C68.2,654.8 80.8,655.3 84,657C87.2,658.7 85.3,663.5 84,666C82.7,668.5 78.7,671 76,672C73.3,673 69.8,673.3 68,672C66.2,670.7 65.5,666.7 65,664C64.5,661.3 61.8,657.2 65,656Z" fill="#deb887"/>
<ellipse cx="96.8" cy="682.8" rx="3.8" ry="7.8" fill="#deb887"/>
<path d="M95,684C98,683.3 105.2,686 110,686C114.8,686 121.3,683.3 124,684C126.7,684.7 127,688.3 126,690C125,691.7 122.3,693.3 118,694C113.7,694.7 104.3,694.7 100,694C95.7,693.3 92.8,691.7 92,690C91.2,688.3 92,684.7 95,684Z" fill="#deb887"/>
<ellipse cx="378" cy="642.5" rx="4" ry="2.5" fill="#deb887"/>
<path d="M186,662C186.5,661.5 191.8,664.7 195,665C198.2,665.3 203.5,663.7 205,664C206.5,664.3 206.2,666.3 204,667C201.8,667.7 195,668.8 192,668C189,667.2 185.5,662.5 186,662Z" fill="#deb887"/>
<ellipse cx="70" cy="708.5" rx="5" ry="2.5" fill="#f5e6be"/>
<ellipse cx="69" cy="716" rx="3" ry="3" fill="#f5e6be"/>
<ellipse cx="85" cy="704.5" rx="4" ry="3.5" fill="#f5e6be"/>
<ellipse cx="78.5" cy="695.5" rx="6.5" ry="2.8" fill="#f5e6be"/>
<ellipse cx="111" cy="700" rx="9" ry="2" fill="#f5e6be"/>
<ellipse cx="115.5" cy="707.5" rx="4.5" ry="3.5" fill="#f5e6be"/>
<ellipse cx="109.5" cy="712.5" rx="9.5" ry="6.5" fill="#f5e6be"/>
<ellipse cx="135" cy="693.5" rx="6" ry="3.5" fill="#f5e6be"/>
<ellipse cx="215" cy="782.5" rx="10" ry="3.5" fill="#f5e6be"/>
<ellipse cx="242" cy="784" rx="10" ry="3" fill="#f5e6be"/>
<path d="M65,697C66.3,695.8 69.5,695 72,695C74.5,695 78,695.7 80,697C82,698.3 83.7,701 84,703C84.3,705 83.7,707.8 82,709C80.3,710.2 76.5,710.8 74,710.5C71.5,710.2 68.7,708.4 67,707C65.3,705.6 64.3,703.7 64,702C63.7,700.3 63.7,698.2 65,697Z" fill="#f5e6be"/>
<path d="M91,704C92.7,703 96.8,702.7 100,703C103.2,703.3 107.2,704.5 110,706C112.8,707.5 116.7,709.7 117,712C117.3,714.3 114.8,718.5 112,720C109.2,721.5 103.3,721.7 100,721C96.7,720.3 93.7,718 92,716C90.3,714 90.2,711 90,709C89.8,707 89.3,705 91,704Z" fill="#f5e6be"/>
<ellipse cx="65" cy="717" rx="5" ry="5" fill="#f5e6be"/>
<ellipse cx="159" cy="682" rx="11" ry="6" fill="#f5e6be"/>
<path d="M6,700C7.2,699 11.8,699 15,699C18.2,699 22.2,699.3 25,700C27.8,700.7 31,701.9 31.5,703C32,704.1 30.8,705.7 28,706.4C25.2,707.1 18.3,707.2 15,707C11.7,706.8 9.5,706.2 8,705C6.5,703.8 4.8,701 6,700Z" fill="#f5e6be"/>
<path d="M2.5,707C3.7,704.4 8.1,705.6 10,706.4C11.9,707.2 13.5,709.4 14,712C14.5,714.6 14,719.6 13,722C12,724.4 9.7,726.6 8,726.6C6.3,726.6 3.9,725.3 3,722C2.1,718.7 1.3,709.6 2.5,707Z" fill="#f5e6be"/>
<path d="M43,635.5C49.3,635 60.5,635.2 70,635.3C79.5,635.4 88.3,636.1 100,636.3C111.7,636.5 128.7,636.5 140,636.5C151.3,636.5 162.3,636.2 168,636.5C173.7,636.8 172.4,636.6 174,638C175.6,639.4 177,641.8 177.5,645C178,648.2 177.9,654.5 177,657C176.1,659.5 173.8,659.8 172,660C170.2,660.2 168,658.7 166,658C164,657.3 162.7,655.9 160,656C157.3,656.1 153,657.9 150,658.5C147,659.1 145.3,659.4 142,659.5C138.7,659.6 133,658.6 130,659C127,659.4 126,661.2 124,662C122,662.8 120.7,663.8 118,664C115.3,664.2 110.7,662.8 108,663C105.3,663.2 103.8,664.3 102,665C100.2,665.7 99,666.8 97,667C95,667.2 92.2,666.5 90,666C87.8,665.5 85.3,665.7 84,664C82.7,662.3 84.3,657.5 82,656C79.7,654.5 74.2,655.2 70,655C65.8,654.8 60.3,655.2 57,655C53.7,654.8 52.3,654 50,654C47.7,654 45.3,655.3 43,655C40.7,654.7 38.5,652.3 36,652C33.5,651.7 30.8,652.5 28,653C25.2,653.5 22.3,654.4 19,655C15.7,655.6 10.3,656.5 8,656.5C5.7,656.5 5,655.9 5,655C5,654.1 6.3,652.3 8,651C9.7,649.7 12.7,648.5 15,647C17.3,645.5 19.2,643.5 22,642C24.8,640.5 28.5,639.1 32,638C35.5,636.9 36.7,636 43,635.5Z" fill="#ffd700"/>
<path d="M100,660C101.8,659.3 108.3,660.8 112,661C115.7,661.2 119.2,661.2 122,661C124.8,660.8 127.8,658.7 129,659.5C130.2,660.3 129.8,663.9 129,666C128.2,668.1 125.8,670.3 124,672C122.2,673.7 120.7,675.2 118,676C115.3,676.8 110.7,676.7 108,676.5C105.3,676.3 103.3,676.1 102,675C100.7,673.9 100.2,671.7 100,670C99.8,668.3 101,666.7 101,665C101,663.3 98.2,660.7 100,660Z" fill="#ffd700"/>
<ellipse cx="148.8" cy="645.8" rx="2.8" ry="2.8" fill="#f5e6be"/>
<ellipse cx="157.3" cy="644.5" rx="2.7" ry="1.5" fill="#f5e6be"/>
<path d="M74.7,674C75.5,672.9 77.5,671.1 80,670.6C82.5,670.1 87.5,670.3 90,671C92.5,671.7 94.4,673.7 94.7,675C95,676.3 93.8,678.2 92,679C90.2,679.8 86.3,680 84,680C81.7,680 79.5,679.5 78,679C76.5,678.5 75.5,677.8 75,677C74.5,676.2 73.9,675.1 74.7,674Z" fill="#ffd700"/>
<path d="M44,655C46.5,653.7 54.7,654.5 57,656C59.3,657.5 58.2,661.3 58,664C57.8,666.7 55.7,670 56,672C56.3,674 57.3,675 60,676C62.7,677 69.3,676.7 72,678C74.7,679.3 75.7,681.7 76,684C76.3,686.3 75.7,689.8 74,692C72.3,694.2 69,696 66,697C63,698 58.7,698.5 56,698C53.3,697.5 51.5,695.3 50,694C48.5,692.7 47.5,692.3 47,690C46.5,687.7 47.5,683 47,680C46.5,677 44.8,674.7 44,672C43.2,669.3 42,666.8 42,664C42,661.2 41.5,656.3 44,655Z" fill="#ffd700" stroke="#deb887" stroke-width="2.4"/>
<path d="M-3,666.4C-0.4,661.3 8.3,665.5 12.6,666.4C16.9,667.3 18.5,670.9 22.7,672C26.9,673.1 34.5,673 38,673.3C41.5,673.6 43,671.2 44,674C45,676.8 44.4,686.2 44,690C43.6,693.8 43.9,695.5 41.6,696.7C39.3,697.9 34.4,697 30,697C25.6,697 20.5,697 15,697C9.5,697 0,701.8 -3,696.7C-6,691.6 -5.6,671.5 -3,666.4Z" fill="#ffd700" stroke="#deb887" stroke-width="2.4"/>
<path d="M41.6,693.8C43.3,693.4 47.5,694.4 50.5,695C53.5,695.6 58.5,696.1 59.3,697.6C60.1,699.1 57,701.8 55.5,703.9C54,706 52,708.1 50.5,710C49,711.9 48,713.5 46.7,715C45.4,716.5 44.2,719 42.9,719C41.6,719 40.1,716.7 39.1,715C38.1,713.3 36.8,711.1 36.6,709C36.4,706.9 37.3,704.5 37.9,702.6C38.5,700.7 39.8,699.1 40.4,697.6C41,696.1 39.9,694.2 41.6,693.8Z" fill="#ffd700"/>
<path d="M441,665C440.3,659.6 439.1,665 437,665.4C434.9,665.8 430.5,666.4 428.3,667.5C426.1,668.6 425.5,670.1 423.9,671.9C422.2,673.7 419.6,676.3 418.4,678.5C417.2,680.7 417,682.5 416.7,685.1C416.4,687.7 415.5,692 416.7,693.9C417.9,695.8 420.5,696 423.9,696.6C427.3,697.2 434.1,697.5 437,697.7C439.9,697.9 440.3,703.5 441,698C441.7,692.5 441.7,670.4 441,665Z" fill="#ffd700"/>
<path d="M186.8,640C187.3,638.6 188.5,637.3 190,636.5C191.5,635.7 194.5,635.3 196,635.4C197.5,635.5 198.7,635.9 199,637C199.3,638.1 198.8,640.5 198,642C197.2,643.5 195.4,645.1 194,646C192.6,646.9 190.7,647.8 189.5,647.6C188.3,647.4 187.4,646.3 187,645C186.6,643.7 186.3,641.4 186.8,640Z" fill="#ffd700"/>
<path d="M169,641C169.6,639.5 170.8,638.2 172,638C173.2,637.8 175.6,638 176.5,640C177.4,642 177.5,647 177.3,650C177.1,653 176.4,656.3 175.5,658C174.6,659.7 173,660.5 172,660C171,659.5 170,657.2 169.4,655C168.8,652.8 168.6,649.3 168.5,647C168.4,644.7 168.4,642.5 169,641Z" fill="#ffd700"/>
<path d="M182.5,659C182.8,657.8 185.4,655.9 188,655C190.6,654.1 195.2,653.3 198,653.6C200.8,653.9 204.2,655.6 205,657C205.8,658.4 204.7,660.8 203,662C201.3,663.2 197.8,663.9 195,664C192.2,664.1 188.1,663.3 186,662.5C183.9,661.7 182.2,660.2 182.5,659Z" fill="#ffd700"/>
<path d="M268.4,635.5C268.1,634.3 271.4,634.7 275,634.5C278.6,634.3 284.2,634.5 290,634.5C295.8,634.5 303.3,634.5 310,634.5C316.7,634.5 324.2,634.5 330,634.5C335.8,634.5 340,634.2 345,634.5C350,634.8 356.2,634.8 360,636C363.8,637.2 366.1,639.7 368,642C369.9,644.3 371.9,647.7 371.6,650C371.3,652.3 368.3,654.5 366,656C363.7,657.5 361.5,658.5 358,659C354.5,659.5 348.8,659.2 345,659C341.2,658.8 338.2,658 335,658C331.8,658 328.5,658.3 326,659C323.5,659.7 322,660.4 320,662C318,663.6 315.4,667 314,668.5C312.6,670 312.1,671.1 311.5,671C310.9,670.9 311.4,668.7 310.5,668C309.6,667.3 308.1,667.3 306,666.6C303.9,665.9 300.8,665.1 298,664C295.2,662.9 291.1,661.9 289,659.7C286.9,657.5 287.7,654 285.7,651C283.7,648 279.9,644.1 277,641.5C274.1,638.9 268.7,636.7 268.4,635.5Z" fill="#ffd700" stroke="#deb887" stroke-width="2.4"/>
<path d="M172,694C174.3,692.8 175.3,691.3 180,690.5C184.7,689.7 191.7,689.2 200,689C208.3,688.8 221.7,688.7 230,689C238.3,689.3 243.3,690.3 250,691C256.7,691.7 264.2,692 270,693C275.8,694 280.3,695.5 285,697C289.7,698.5 296.2,700.7 298,702C299.8,703.3 298.2,704.7 296,705C293.8,705.3 289.3,704.3 285,704C280.7,703.7 275.8,702.8 270,703C264.2,703.2 256.7,704.5 250,705C243.3,705.5 235.8,706.2 230,706C224.2,705.8 220,704 215,704C210,704 205,705.7 200,706C195,706.3 189,706.7 185,706C181,705.3 179.2,703.3 176,702C172.8,700.7 166.7,699.3 166,698C165.3,696.7 169.7,695.2 172,694Z" fill="#ffd700"/>
<ellipse cx="312.5" cy="704" rx="4.5" ry="3" fill="#ffd700"/>
<ellipse cx="241.2" cy="715.4" rx="4.2" ry="3.8" fill="#ffd700"/>
<ellipse cx="258.5" cy="717.8" rx="9.5" ry="5.2" fill="#ffd700"/>
<ellipse cx="276.2" cy="719.2" rx="5.2" ry="5.8" fill="#ffd700"/>
<ellipse cx="159.8" cy="694.6" rx="2.8" ry="1.9" fill="#ffd700"/>
<path d="M282,727C283.2,724.8 287,722 290,720C293,718 296.3,716 300,715C303.7,714 308.7,713.8 312,714C315.3,714.2 317,715 320,716C323,717 327,719 330,720C333,721 335.8,720.7 338,722C340.2,723.3 341.8,725 343,728C344.2,731 345,736 345,740C345,744 343.8,748.7 343,752C342.2,755.3 342.2,758.3 340,760C337.8,761.7 333,762.5 330,762C327,761.5 323.7,759.8 322,757C320.3,754.2 321.3,747.8 320,745C318.7,742.2 317.3,741 314,740C310.7,739 304,739.7 300,739C296,738.3 292.8,737 290,736C287.2,735 284.3,734.5 283,733C281.7,731.5 280.8,729.2 282,727Z" fill="#ffd700"/>
<path d="M184,726C187.3,725.2 187.3,722.8 190,722C192.7,721.2 195.8,721.1 200,721C204.2,720.9 209.7,721.3 215,721.5C220.3,721.7 227,720.9 232,722C237,723.1 241.2,726.3 245,728C248.8,729.7 251.2,730.3 255,732C258.8,733.7 265.2,735.8 268,738C270.8,740.2 272,743.3 272,745C272,746.7 270.8,747.2 268,748C265.2,748.8 256,748.7 255,750C254,751.3 262,754 262,756C262,758 257.8,760.3 255,762C252.2,763.7 247.5,764.3 245,766C242.5,767.7 242.5,770.3 240,772C237.5,773.7 234.2,775.2 230,776C225.8,776.8 220,777 215,777C210,777 203.8,776.8 200,776C196.2,775.2 194.3,773.8 192,772C189.7,770.2 188,767.3 186,765C184,762.7 184.3,759.3 180,758C175.7,756.7 166.7,757.2 160,757C153.3,756.8 145,757.5 140,757C135,756.5 133.3,754.8 130,754C126.7,753.2 124.3,752.7 120,752C115.7,751.3 107.3,754.3 104,750C100.7,745.7 97.3,730.3 100,726C102.7,721.7 114,724 120,724C126,724 131,725.5 136,726C141,726.5 144.3,726.8 150,727C155.7,727.2 164.3,727.2 170,727C175.7,726.8 180.7,726.8 184,726Z" fill="#ffd700"/>
<path d="M217,747C218,745.5 224.2,744.8 230,744.5C235.8,744.2 248,744.4 252,745.5C256,746.6 256,749.5 254,751C252,752.5 245,754.1 240,754.5C235,754.9 227.8,754.8 224,753.5C220.2,752.2 216,748.5 217,747Z" fill="#deb887"/>
<path d="M252,769C253.2,767.5 258,766.8 262,766.5C266,766.2 272.3,766.8 276,767.5C279.7,768.2 283.3,769.6 284,771C284.7,772.4 283,774.9 280,776C277,777.1 270.2,777.6 266,777.5C261.8,777.4 257.3,776.9 255,775.5C252.7,774.1 250.8,770.5 252,769Z" fill="#ffd700"/>
<path d="M51,727C52.3,724.7 55.2,724.7 60,724C64.8,723.3 73.3,723.2 80,723C86.7,722.8 95.7,720.5 100,723C104.3,725.5 105.3,733.5 106,738C106.7,742.5 108.3,747.8 104,750C99.7,752.2 87.3,751 80,751C72.7,751 65,749.8 60,750C55,750.2 55,751.3 50,752C45,752.7 36.7,753.5 30,754C23.3,754.5 15.5,754.8 10,755C4.5,755.2 -0.8,759 -3,755C-5.2,751 -4.8,735.2 -3,731C-1.2,726.8 5.2,730.5 8,730C10.8,729.5 10.3,728.5 14,728C17.7,727.5 25.7,725 30,727C34.3,729 37.3,737 40,740C42.7,743 44,745.3 46,745C48,744.7 51.2,741 52,738C52.8,735 49.7,729.3 51,727Z" fill="#ffd700"/>
<path d="M12,728C14.2,726.3 20.7,726.2 25,726C29.3,725.8 35.2,725.5 38,727C40.8,728.5 42,732 42,735C42,738 40,742.5 38,745C36,747.5 32.7,749 30,750C27.3,751 24.3,751.8 22,751C19.7,750.2 17.7,747.5 16,745C14.3,742.5 12.7,738.8 12,736C11.3,733.2 9.8,729.7 12,728Z" fill="#ffd700"/>
<path d="M339,697C340,695.2 342.8,695 345,695C347.2,695 349.5,696.2 352,697C354.5,697.8 357,699.2 360,700C363,700.8 367,701 370,702C373,703 375.3,704.3 378,706C380.7,707.7 383.3,710.3 386,712C388.7,713.7 392.3,714.3 394,716C395.7,717.7 396.3,719.7 396,722C395.7,724.3 393.7,727.3 392,730C390.3,732.7 388,735.7 386,738C384,740.3 382.3,742.3 380,744C377.7,745.7 374.3,746.7 372,748C369.7,749.3 368,750.5 366,752C364,753.5 362.3,756 360,757C357.7,758 353.8,759.2 352,758C350.2,756.8 349.8,753 349,750C348.2,747 347.5,743.3 347,740C346.5,736.7 346.7,733 346,730C345.3,727 344,724.7 343,722C342,719.3 340.7,716.7 340,714C339.3,711.3 339.2,708.8 339,706C338.8,703.2 338,698.8 339,697Z" fill="#ffd700"/>
<path d="M396,728C396.7,726.5 401,725.7 404,725C407,724.3 410,723.8 414,724C418,724.2 423.5,725.3 428,726C432.5,726.7 438.8,724.8 441,728C443.2,731.2 442.8,742.2 441,745C439.2,747.8 433.8,745.5 430,745C426.2,744.5 421.7,743.2 418,742C414.3,740.8 411,739.3 408,738C405,736.7 402,735.7 400,734C398,732.3 395.3,729.5 396,728Z" fill="#ffd700"/>
<ellipse cx="383.4" cy="752.8" rx="6.6" ry="3.2" fill="#ffd700"/>
<ellipse cx="138.8" cy="708.2" rx="5.8" ry="5.2" fill="#ffd700"/>
<ellipse cx="170.1" cy="720.6" rx="5.6" ry="6.1" fill="#ffd700"/>
<ellipse cx="267" cy="755" rx="14" ry="3" fill="#ffd700"/>
<ellipse cx="301" cy="756" rx="12" ry="2" fill="#ffd700"/>
<path d="M1.7,786C2.4,784.5 4.3,784.1 6,784C7.7,783.9 10.3,785.8 12,785.5C13.7,785.2 14.5,782.4 16,782C17.5,781.6 19.7,782.3 21,783C22.3,783.7 22.8,785.8 24,786C25.2,786.2 26.7,783.9 28,784C29.3,784.1 30.7,786.3 32,786.5C33.3,786.7 34.7,784.8 36,785C37.3,785.2 39.7,786.8 40,788C40.3,789.2 40.5,791.5 38,792.5C35.5,793.5 29.7,793.7 25,794C20.3,794.3 13.8,794.7 10,794.5C6.2,794.3 3.4,794.4 2,793C0.6,791.6 1,787.5 1.7,786Z" fill="#ffd700"/>
<ellipse cx="379.9" cy="633.4" rx="3.9" ry="1.4" fill="#ffd700"/>
<ellipse cx="311.5" cy="678" rx="1.5" ry="2" fill="#ffd700"/>
<path d="M30,647C30.7,645.7 34,643.2 36,642C38,640.8 38,640 42,639.5C46,639 52,638.9 60,638.8C68,638.7 82.7,638.5 90,639C97.3,639.5 100.3,641.8 104,642C107.7,642.2 109,640 112,640C115,640 120,640.7 122,642C124,643.3 124.3,646.2 124,648C123.7,649.8 122.3,652 120,653C117.7,654 112.8,652.8 110,654C107.2,655.2 104.7,658.3 103,660C101.3,661.7 101.8,663.2 100,664C98.2,664.8 94.7,665.2 92,665C89.3,664.8 85.5,664.7 84,663C82.5,661.3 85.3,656.5 83,655C80.7,653.5 74.7,654.2 70,654C65.3,653.8 59.3,653.9 55,654C50.7,654.1 46.8,654.8 44,654.5C41.2,654.2 40,653.2 38,652.5C36,651.8 33.3,650.9 32,650C30.7,649.1 29.3,648.3 30,647Z" fill="#ffa500"/>
<path d="M130.4,641C131.2,640.5 133.7,639.7 136,639.7C138.3,639.7 143,640.3 144.3,641C145.6,641.7 145.4,643.5 144,644C142.6,644.5 138.2,644.2 136,644C133.8,643.8 131.9,643.5 131,643C130.1,642.5 129.6,641.5 130.4,641Z" fill="#ffa500"/>
<path d="M119,649C119.3,647 121.3,645.8 124,645C126.7,644.2 131.3,644.2 135,644.5C138.7,644.8 143.2,646.2 146,647C148.8,647.8 149.1,648.3 152,649C154.9,649.7 161.6,649.7 163.4,651C165.2,652.3 164.2,655.7 163,657C161.8,658.3 158.8,658.4 156,658.8C153.2,659.2 150,659.4 146,659.5C142,659.6 136,659.9 132,659.5C128,659.1 124.2,658.8 122,657C119.8,655.2 118.7,651 119,649Z" fill="#ffa500"/>
<path d="M169.8,641C170.3,639 171.9,639.5 173,639.7C174.1,639.9 175.8,640.3 176.5,642C177.2,643.7 177.2,647.5 177,650C176.8,652.5 175.8,655.5 175,657C174.2,658.5 172.8,659.8 172,659C171.2,658.2 170.4,655 170,652C169.6,649 169.3,643 169.8,641Z" fill="#ffa500"/>
<path d="M188.5,641C188.8,639.8 189.8,638.3 191,637.6C192.2,636.9 194.8,636.8 196,637C197.2,637.2 197.9,638 198,639C198.1,640 197.5,641.8 196.5,643C195.5,644.2 193.2,646.2 192,646.5C190.8,646.8 189.6,645.9 189,645C188.4,644.1 188.2,642.2 188.5,641Z" fill="#ffa500"/>
<ellipse cx="96.4" cy="668.7" rx="4.1" ry="2.8" fill="#ffa500"/>
<ellipse cx="86.2" cy="676.9" rx="2.8" ry="2.1" fill="#ffa500"/>
<path d="M112.5,672.8C112.1,671.8 113.8,667 114.5,667C115.2,667 117.2,671.8 116.9,672.8C116.6,673.8 112.9,673.8 112.5,672.8Z" fill="#ffa500"/>
<path d="M-3,667.7C-0.5,663.2 7.8,666.6 12,667.5C16.2,668.4 17.7,671.8 22,673C26.3,674.2 34.7,673.7 38,674.5C41.3,675.3 41.3,675.4 42,678C42.7,680.6 42.7,687.2 42,690C41.3,692.8 41.7,694 38,694.8C34.3,695.6 26.8,695 20,695C13.2,695 0.8,699.3 -3,694.8C-6.8,690.2 -5.5,672.2 -3,667.7Z" fill="#ffa500"/>
<ellipse cx="7.5" cy="679.2" rx="4.5" ry="2.2" fill="#deb887"/>
<ellipse cx="18.3" cy="678.5" rx="2.5" ry="2.6" fill="#ffd700"/>
<path d="M441,668C440.3,665.5 438.6,667.8 437,668C435.4,668.2 433.1,668 431.6,669.2C430.2,670.4 428.9,672.9 428.3,675.2C427.7,677.5 425.9,681.7 428,683C430.1,684.3 438.8,685.5 441,683C443.2,680.5 441.7,670.5 441,668Z" fill="#ffa500"/>
<path d="M441,681.5C437.8,679.2 425.8,681.1 422,681.5C418.2,681.9 419,682.2 418.3,684C417.6,685.8 417.4,690.2 417.8,692C418.2,693.8 417.1,694.5 421,695C424.9,695.5 437.7,697.5 441,695.3C444.3,693 444.2,683.8 441,681.5Z" fill="#ffa500"/>
<path d="M49,676C50.2,674.2 53.2,674 56,674C58.8,674 63.3,674.8 66,676C68.7,677.2 71,678.7 72,681C73,683.3 73,687.7 72,690C71,692.3 68.5,694 66,695C63.5,696 59.5,696.5 57,696C54.5,695.5 52.3,693.8 51,692C49.7,690.2 49.3,687.7 49,685C48.7,682.3 47.8,677.8 49,676Z" fill="#ffa500"/>
<ellipse cx="43.5" cy="706.5" rx="3.2" ry="5.1" fill="#ffa500"/>
<ellipse cx="53.3" cy="700.8" rx="3.5" ry="3.1" fill="#ffa500"/>
<ellipse cx="44.5" cy="708.9" rx="1" ry="1.3" fill="#ff4500"/>
<path d="M13,729C14.8,727.4 21,727.5 25,727.5C29,727.5 34.8,727.2 37,729C39.2,730.8 38.5,735.3 38,738C37.5,740.7 36,743.7 34,745C32,746.3 28.7,746.3 26,746C23.3,745.7 20,744.5 18,743C16,741.5 14.8,739.3 14,737C13.2,734.7 11.2,730.6 13,729Z" fill="#ffa500"/>
<path d="M283,643C283.2,641.8 287.2,642.5 289,641.5C290.8,640.5 292.2,637.9 294,637C295.8,636.1 295.3,636.1 300,636C304.7,635.9 316.8,635.7 322,636.5C327.2,637.3 329.5,637.6 331,641C332.5,644.4 332.5,654 331,657C329.5,660 324.8,658 322,659C319.2,660 316.3,662.2 314,663C311.7,663.8 310.3,664.2 308,664C305.7,663.8 303.2,663.3 300,662C296.8,660.7 291.1,658.2 289,656C286.9,653.8 288.5,650.7 287.5,648.5C286.5,646.3 282.8,644.2 283,643Z" fill="#ffa500"/>
<path d="M287.5,639C288.5,638.3 292.2,637.5 294,638C295.8,638.5 298.2,641 298,642C297.8,643 294.7,644 293,644C291.3,644 288.9,642.8 288,642C287.1,641.2 286.5,639.7 287.5,639Z" fill="#ffd700"/>
<path d="M331,637C333.3,633.7 340.2,635.9 345,636C349.8,636.1 356.5,636.3 360,637.5C363.5,638.7 364.8,640.9 366,643C367.2,645.1 367.8,648 367.5,650C367.2,652 366.1,653.8 364,655C361.9,656.2 359,656.7 355,657C351,657.3 344,657.2 340,657C336,656.8 332.5,659.3 331,656C329.5,652.7 328.7,640.3 331,637Z" fill="#ffa500"/>
<path d="M145.4,727C146.9,725.8 152.2,725.8 155,726C157.8,726.2 161.3,726.5 162.5,728C163.7,729.5 163.8,733.6 162,735C160.2,736.4 154.7,736.5 152,736.2C149.3,735.9 147.1,734.5 146,733C144.9,731.5 143.9,728.2 145.4,727Z" fill="#ffa500"/>
<path d="M163.4,731C164.6,729.3 167.9,729.5 170,730C172.1,730.5 174.9,732 175.7,734C176.5,736 175.6,739.7 175,742C174.4,744.3 173.7,746.8 172,747.6C170.3,748.4 166.5,748.3 165,747C163.5,745.7 163.3,742.7 163,740C162.7,737.3 162.2,732.7 163.4,731Z" fill="#ffa500"/>
<ellipse cx="311.2" cy="677.6" rx="2.4" ry="1.9" fill="#ffa500"/>
<path d="M40.4,645.4C41.1,644.2 42.7,642.7 46,642C49.3,641.3 52.7,641 60,641C67.3,641 83.7,641.3 90,642C96.3,642.7 96,643.7 98,645C100,646.3 101.2,647.8 101.7,650C102.2,652.2 102,656.2 101,658C100,659.8 97.6,660 96,661C94.4,662 93.4,663.6 91.6,664C89.8,664.4 86.2,665 85,663.5C83.8,662 85.5,656.8 84.7,655C83.9,653.2 84.1,653.2 80,653C75.9,652.8 65.7,653.6 60,653.5C54.3,653.4 49,653.2 46,652.5C43,651.8 42.9,650.2 42,649C41.1,647.8 39.7,646.6 40.4,645.4Z" fill="#ff4500"/>
<path d="M106.8,649C107.6,648.2 109.7,647.1 112,647C114.3,646.9 119.4,647.8 120.7,648.5C122,649.2 121.5,650.9 120,651.5C118.5,652.1 114.2,652 112,652C109.8,652 107.9,652 107,651.5C106.1,651 106,649.8 106.8,649Z" fill="#ff4500"/>
<path d="M121.7,652C122,650.4 125.3,648.5 128,647.5C130.7,646.5 135,645.6 138,646C141,646.4 144.8,648.3 146,650C147.2,651.7 146.7,654.7 145,656C143.3,657.3 139.2,657.8 136,658C132.8,658.2 128.4,658 126,657C123.6,656 121.4,653.6 121.7,652Z" fill="#ff4500"/>
<ellipse cx="173.3" cy="650.5" rx="1.7" ry="6.5" fill="#ff4500"/>
<ellipse cx="192.5" cy="642.8" rx="3" ry="2.2" fill="#ff4500"/>
<ellipse cx="6.8" cy="670.5" rx="3.8" ry="2.8" fill="#ff4500"/>
<path d="M21.5,674C22.5,672.8 24.2,672.3 27,672.5C29.8,672.7 35.8,673.4 38,675C40.2,676.6 39.8,679.3 40,682C40.2,684.7 40.2,689 39.5,691C38.8,693 39.2,693.5 36,694C32.8,694.5 26.5,694.2 20,694.3C13.5,694.3 0.8,696.3 -3,694.3C-6.8,692.2 -4.8,684 -3,682C-1.2,680 4.8,681.8 8,682C11.2,682.2 13.8,683.3 16,683C18.2,682.7 20.1,681.5 21,680C21.9,678.5 20.5,675.2 21.5,674Z" fill="#ff4500"/>
<path d="M441,682.6C438,680.7 426.6,682.2 423,682.6C419.4,683 420,683.5 419.3,685C418.6,686.5 418.6,690 419,691.5C419.4,693 418.3,693.5 422,694C425.7,694.5 437.8,696.1 441,694.2C444.2,692.3 444,684.5 441,682.6Z" fill="#ff4500"/>
<path d="M51,679C51.8,677 54.5,677.1 57,677C59.5,676.9 63.8,677.5 66,678.5C68.2,679.5 69.8,681.1 70.5,683C71.2,684.9 71.1,688.2 70,690C68.9,691.8 66.2,692.9 64,693.5C61.8,694.1 59,694.2 57,693.5C55,692.8 53,691.4 52,689C51,686.6 50.2,681 51,679Z" fill="#ff4500"/>
<path d="M17,733C18.2,731.4 21.8,731.5 24,731.5C26.2,731.5 28.8,731.6 30,733C31.2,734.4 31.3,738 31,740C30.7,742 29.7,744.1 28,745C26.3,745.9 22.8,746.2 21,745.5C19.2,744.8 17.7,743.1 17,741C16.3,738.9 15.8,734.6 17,733Z" fill="#ff4500"/>
<path d="M290,647C290.7,645.5 294,645.6 296,645.8C298,646 300.2,646.8 302,648C303.8,649.2 305.5,651.2 306.5,653C307.5,654.8 308.2,657.6 308,659C307.8,660.4 306.7,661.1 305,661.4C303.3,661.6 300.2,661.6 298,660.5C295.8,659.4 293.3,657.2 292,655C290.7,652.8 289.3,648.5 290,647Z" fill="#ff4500"/>
<path d="M306.5,646C307.2,644.8 310.8,645 314,645C317.2,645 323.4,644.8 325.6,646C327.8,647.2 327.9,650.6 327,652C326.1,653.4 322.8,654.5 320,654.5C317.2,654.5 312.2,653.4 310,652C307.8,650.6 305.8,647.2 306.5,646Z" fill="#ff4500"/>
<path d="M330,638C331.7,635.3 335.7,635.9 340,635.6C344.3,635.3 352,635.1 356,636C360,636.9 362.2,639 364,641C365.8,643 367.3,646 367,648C366.7,650 364.8,651.8 362,653C359.2,654.2 354,654.9 350,655.4C346,655.9 341.3,656.6 338,656C334.7,655.4 331.3,655 330,652C328.7,649 328.3,640.7 330,638Z" fill="#ff4500"/>
<ellipse cx="356" cy="647.1" rx="7" ry="3.9" fill="#ffa500"/>
<ellipse cx="167.2" cy="742.9" rx="2.8" ry="2.9" fill="#ff4500"/>
<path d="M346,733C346.3,730.7 348.1,730.5 349,731C349.9,731.5 351.1,733.2 351.5,736C351.9,738.8 351.9,745.3 351.5,748C351.1,750.7 349.8,752.5 349,752C348.2,751.5 347.5,748.2 347,745C346.5,741.8 345.7,735.3 346,733Z" fill="#ff4500"/>
<ellipse cx="51.1" cy="662.6" rx="4.4" ry="5" fill="#ff4500"/>
<path d="M44,648C44,647 45.3,645.8 48,645.3C50.7,644.8 53.8,645 60,645C66.2,645 79.8,644.6 85,645C90.2,645.4 90,646.5 91,647.5C92,648.5 92,650.2 91,651C90,651.8 90.2,652.1 85,652.3C79.8,652.5 66.2,652.1 60,652C53.8,651.9 50.7,652.2 48,651.5C45.3,650.8 44,649 44,648Z" fill="#b22222"/>
<ellipse cx="135.5" cy="654.9" rx="3.5" ry="1.3" fill="#b22222"/>
<ellipse cx="51.1" cy="662.6" rx="2.5" ry="3.1" fill="#b22222"/>
<path d="M-3,683.4C-0.8,681.9 6.2,683.2 10,683.4C13.8,683.6 17.5,684.9 20,684.5C22.5,684.1 23,681.7 25,681C27,680.3 29.8,680 32,680.3C34.2,680.6 36.8,681.5 38,683C39.2,684.5 39.3,687.5 39,689C38.7,690.5 39.2,691.7 36,692.3C32.8,692.9 26.5,692.5 20,692.5C13.5,692.5 0.8,693.8 -3,692.3C-6.8,690.8 -5.2,684.9 -3,683.4Z" fill="#b22222"/>
<path d="M441,684.2C438.2,682.9 427.5,683.9 424,684.2C420.5,684.5 420.9,685 420.2,686C419.5,687 419.5,689 420,690C420.5,691 419.5,691.5 423,691.8C426.5,692.1 438,693.1 441,691.8C444,690.5 443.8,685.5 441,684.2Z" fill="#b22222"/>
<path d="M53,684C53.2,682.5 55.2,681.4 57,681C58.8,680.6 62.3,680.8 64,681.5C65.7,682.2 66.6,683.8 67,685C67.4,686.2 67.3,687.7 66.5,688.5C65.7,689.3 63.8,689.8 62,690C60.2,690.2 57.5,690.7 56,689.7C54.5,688.7 52.8,685.5 53,684Z" fill="#b22222"/>
<ellipse cx="21.8" cy="740.9" rx="3.8" ry="3.9" fill="#b22222"/>
<path d="M294.4,654C294.6,652.9 296.4,652.6 298,652.8C299.6,653 302.7,654 304,655C305.3,656 305.9,658.1 305.7,659C305.5,659.9 304.4,660.5 303,660.6C301.6,660.7 298.4,660.6 297,659.5C295.6,658.4 294.2,655.1 294.4,654Z" fill="#b22222"/>
<ellipse cx="317.8" cy="650.6" rx="3.5" ry="2.2" fill="#b22222"/>
<ellipse cx="14.8" cy="690.5" rx="2.2" ry="2.6" fill="#ffb6c1"/>
<path d="M1.3,621.5C3.1,620.9 8.6,620.9 12,621C15.4,621.1 19.9,621.4 21.5,622C23.1,622.6 23.1,624.1 21.5,624.6C19.9,625.1 15.4,625 12,625C8.6,625 3.1,625.2 1.3,624.6C-0.5,624 -0.5,622.1 1.3,621.5Z" fill="#94bc30"/>
<ellipse cx="47.6" cy="623.6" rx="5.4" ry="1.6" fill="#94bc30"/>
<path d="M-3,625.5C-1.2,621.4 4.2,625.2 8,625.3C11.8,625.4 18.5,625.3 20,626.3C21.5,627.2 18,629.4 17,631C16,632.6 15.6,635 14,636C12.4,637 8.7,635 7.6,637C6.5,639 9.4,645.8 7.6,648C5.8,650.2 -1.2,653.8 -3,650C-4.8,646.2 -4.8,629.6 -3,625.5Z" fill="#94bc30"/>
<path d="M1.3,629.8C2.4,629.2 5.7,629.3 8,629.3C10.3,629.3 14,629.5 15,630C16,630.5 15.2,632.1 14,632.6C12.8,633.1 10.1,632.9 8,633C5.9,633.1 2.4,633.5 1.3,633C0.2,632.5 0.2,630.4 1.3,629.8Z" fill="#20b2aa"/>
<path d="M-3,657.3C-1,655.1 5.7,655.4 9,654.5C12.3,653.6 14.2,651.8 17,652C19.8,652.2 23,655.3 26,655.5C29,655.7 31.5,653.3 35,653C38.5,652.7 44.5,653 47,653.8C49.5,654.5 50.3,656.3 50,657.5C49.7,658.7 45.5,659.6 45,661C44.5,662.4 47.2,664.9 47,666C46.8,667.1 45.5,667.1 43.5,667.7C41.5,668.3 37.9,669.4 35,669.4C32.1,669.4 29,667.9 26,667.7C23,667.6 19.8,668.8 17,668.5C14.2,668.2 12.3,666.1 9,666C5.7,665.9 -1,669.2 -3,667.7C-5,666.2 -5,659.5 -3,657.3Z" fill="#94bc30"/>
<path d="M34.7,655.5C36.4,654.6 43.3,654.6 45,655.5C46.7,656.4 46.7,659.8 45,660.7C43.3,661.6 36.7,661.6 35,660.7C33.3,659.8 33,656.4 34.7,655.5Z" fill="#bcee60"/>
<ellipse cx="62" cy="659.6" rx="4.5" ry="5.6" fill="#bcee60"/>
<ellipse cx="73.2" cy="663.6" rx="3.2" ry="2.9" fill="#94bc30"/>
<ellipse cx="83.7" cy="667.8" rx="6.7" ry="1.9" fill="#bcee60"/>
<ellipse cx="69.5" cy="674" rx="2.5" ry="2" fill="#94bc30"/>
<path d="M71.5,683C72.6,682.1 75.5,681.1 78,681.6C80.5,682.1 85.4,684.5 86.6,686C87.8,687.5 86.8,689.9 85,690.5C83.2,691.1 78.2,690.1 76,689.5C73.8,688.9 72.2,688.1 71.5,687C70.8,685.9 70.4,683.9 71.5,683Z" fill="#94bc30"/>
<ellipse cx="105.1" cy="681.9" rx="3.5" ry="2.6" fill="#94bc30"/>
<ellipse cx="115.5" cy="680.6" rx="3.5" ry="2.2" fill="#94bc30"/>
<ellipse cx="74" cy="663.5" rx="3.5" ry="2.5" fill="#94bc30"/>
<ellipse cx="102" cy="687.2" rx="3" ry="2.8" fill="#94bc30"/>
<path d="M127.7,684.5C128.5,683.2 132.6,683.1 134,684C135.4,684.9 136.5,688.2 136.3,690C136.1,691.8 134.2,694.7 133,695C131.8,695.3 129.9,693.8 129,692C128.1,690.2 126.9,685.8 127.7,684.5Z" fill="#94bc30"/>
<ellipse cx="123.3" cy="693.6" rx="2.6" ry="3" fill="#ffd700"/>
<ellipse cx="123" cy="708.8" rx="6" ry="5.2" fill="#94bc30"/>
<ellipse cx="137.2" cy="715.8" rx="4.2" ry="1.8" fill="#94bc30"/>
<path d="M121,664C122.3,661.9 124.8,662 128,661.5C131.2,661 136.3,661.6 140,661C143.7,660.4 146.7,658.8 150,658C153.3,657.2 156.3,656.4 160,656C163.7,655.6 169.1,655.1 172,655.4C174.9,655.7 177.3,656.6 177.3,658C177.3,659.4 174.2,662.2 172,664C169.8,665.8 166.7,667.7 164,669C161.3,670.3 158,670.2 156,672C154,673.8 153.3,677.7 152,680C150.7,682.3 149.7,684.7 148,686C146.3,687.3 144,687.7 142,688C140,688.3 138,688.2 136,688C134,687.8 132.2,688 130,687C127.8,686 124.7,684.2 123,682C121.3,679.8 120.3,677 120,674C119.7,671 119.7,666.1 121,664Z" fill="#94bc30"/>
<path d="M123,668C124.2,666.4 126.8,665.1 130,664.5C133.2,663.9 139,663.9 142,664.5C145,665.1 147,665.8 148,668C149,670.2 148.7,675.3 148,678C147.3,680.7 146.3,682.8 144,684C141.7,685.2 137,686 134,685.5C131,685 127.9,682.9 126,681C124.1,679.1 123,676.2 122.5,674C122,671.8 121.8,669.6 123,668Z" fill="#bcee60"/>
<ellipse cx="154.9" cy="663.4" rx="1.9" ry="2.8" fill="#20b2aa"/>
<path d="M179,639C179.7,636.9 182.7,637.2 184,637.5C185.3,637.8 186.5,639.4 187,641C187.5,642.6 186.5,645.6 187,647C187.5,648.4 188.5,649.2 190,649.5C191.5,649.8 194.5,649.2 196,648.5C197.5,647.8 198.3,646.8 199,645C199.7,643.2 199,639.4 200,638C201,636.6 203.3,636.5 205,636.5C206.7,636.5 208.2,638.1 210,638C211.8,637.9 213.7,636.4 216,636C218.3,635.6 221.7,635.2 224,635.5C226.3,635.8 229.3,636.8 230,638C230.7,639.2 229.7,642.1 228,643C226.3,643.9 222.5,643.2 220,643.5C217.5,643.8 214.7,643.9 213,645C211.3,646.1 211.3,648.6 210,650C208.7,651.4 207,653.3 205,653.6C203,653.9 200.2,652.3 198,652C195.8,651.7 194.3,651.6 192,652C189.7,652.4 186,654.8 184,654.5C182,654.2 180.8,652.6 180,650C179.2,647.4 178.3,641.1 179,639Z" fill="#94bc30"/>
<path d="M217,648C217.7,647.1 220.3,646.4 222,646.7C223.7,647 225.9,648.3 227,650C228.1,651.7 228.6,654.8 228.4,657C228.2,659.2 227.2,662.2 226,663C224.8,663.8 221.7,663.2 221,662C220.3,660.8 222.5,657.7 222,656C221.5,654.3 218.8,653.3 218,652C217.2,650.7 216.3,648.9 217,648Z" fill="#94bc30"/>
<path d="M229,633C229,631.8 233.5,631.2 236,632C238.5,632.8 242.8,636.4 244,638C245.2,639.6 244.3,641.3 243,641.5C241.7,641.7 238.3,640.4 236,639C233.7,637.6 229,634.2 229,633Z" fill="#94bc30"/>
<ellipse cx="233.5" cy="651" rx="3.5" ry="1.8" fill="#94bc30"/>
<ellipse cx="248" cy="650.2" rx="3" ry="2.6" fill="#94bc30"/>
<ellipse cx="256.8" cy="657.9" rx="2.2" ry="1.9" fill="#94bc30"/>
<ellipse cx="275.4" cy="648.9" rx="2.7" ry="3.9" fill="#94bc30"/>
<ellipse cx="262.7" cy="651" rx="1.3" ry="1.8" fill="#94bc30"/>
<ellipse cx="226.5" cy="660.5" rx="1.5" ry="2.5" fill="#94bc30"/>
<ellipse cx="300.9" cy="671" rx="4.8" ry="3.4" fill="#94bc30"/>
<path d="M333.5,661C335.3,659.7 341.8,659.2 347,658C352.2,656.8 360,655.5 364.7,654C369.4,652.5 371.5,651 375,649C378.5,647 383.2,644 385.5,642C387.8,640 387.8,637.5 389,637C390.2,636.5 392.8,637.5 393,639C393.2,640.5 392.5,643.5 390,646C387.5,648.5 382,651.8 378,654C374,656.2 370.7,657.5 366,659C361.3,660.5 355,661.8 350,663C345,664.2 338.8,666.3 336,666C333.2,665.7 331.7,662.3 333.5,661Z" fill="#94bc30"/>
<path d="M364.7,634C365.4,631.7 368.3,632 370,632C371.7,632 374,632.3 375,634C376,635.7 376.5,639.7 376,642C375.5,644.3 373.7,646.9 372,647.6C370.3,648.3 367.2,648.3 366,646C364.8,643.7 364,636.3 364.7,634Z" fill="#94bc30"/>
<ellipse cx="369" cy="632.2" rx="1.5" ry="2.8" fill="#20b2aa"/>
<ellipse cx="331.5" cy="654.2" rx="5.5" ry="3.2" fill="#20b2aa"/>
<ellipse cx="378.1" cy="642.4" rx="3.9" ry="2.6" fill="#deb887"/>
<path d="M330,660C331.3,658.5 337.3,659.3 340,660C342.7,660.7 346,662.3 346,664C346,665.7 342.3,669.2 340,670C337.7,670.8 333.7,670.7 332,669C330.3,667.3 328.7,661.5 330,660Z" fill="#94bc30"/>
<path d="M394,626C396.2,624.6 397,623.2 400,622.5C403,621.8 407.8,622.2 412,622C416.2,621.8 420.2,621.6 425,621.5C429.8,621.4 438.3,618.9 441,621.5C443.7,624.1 444.5,634.4 441,637C437.5,639.6 426.8,637.2 420,637C413.2,636.8 405,636.5 400,636C395,635.5 392.2,634.8 390,634C387.8,633.2 386.3,632.3 387,631C387.7,629.7 391.8,627.4 394,626Z" fill="#94bc30"/>
<path d="M404,626.5C405,626 409.3,625.5 412,625.5C414.7,625.5 419.3,626 420,626.5C420.7,627 418.3,628.2 416,628.5C413.7,628.8 408,628.8 406,628.5C404,628.2 403,627 404,626.5Z" fill="#f5e6be"/>
<ellipse cx="391.2" cy="634.8" rx="2.8" ry="1.8" fill="#bcee60"/>
<ellipse cx="403.5" cy="634.8" rx="3.5" ry="1.8" fill="#bcee60"/>
<path d="M411.5,630C413.7,629.5 420.9,629.3 425,629.3C429.1,629.3 434,629.5 435.8,630C437.6,630.5 437.6,631.8 435.8,632.3C434,632.8 429,632.8 425,632.8C421,632.8 414.2,632.8 412,632.3C409.8,631.8 409.3,630.5 411.5,630Z" fill="#20b2aa"/>
<ellipse cx="399.9" cy="655.8" rx="1.3" ry="2.2" fill="#94bc30"/>
<path d="M411.8,664C412.2,663.2 414.5,662.6 416,662.6C417.5,662.6 420.1,663.2 420.6,664C421.1,664.8 419.7,666.5 419,667.5C418.3,668.5 417.4,669.7 416.5,669.7C415.6,669.7 414.3,668.5 413.5,667.5C412.7,666.5 411.4,664.8 411.8,664Z" fill="#94bc30"/>
<path d="M417.3,670.8C415.8,671.5 412.9,676.1 410.7,678.5C408.5,680.9 405.6,682.7 404.1,685.1C402.6,687.5 401.7,690.4 401.9,692.8C402.1,695.2 402.8,697.6 405.2,699.4C407.6,701.2 413.1,703.2 416.2,703.7C419.3,704.2 423.6,703.9 423.9,702.6C424.2,701.3 419.2,698.1 418,696C416.8,693.9 416.7,692.7 416.5,690C416.3,687.3 416.4,682.7 417,680C417.6,677.3 419.9,675.5 420,674C420.1,672.5 418.9,670 417.3,670.8Z" fill="#94bc30"/>
<ellipse cx="413.8" cy="687.3" rx="2.4" ry="4.4" fill="#bcee60"/>
<path d="M427,640C428.6,637.8 435.8,637.6 437.6,639.7C439.4,641.8 439.2,650.6 437.6,652.8C436,655 429.8,654.9 428,652.8C426.2,650.7 425.4,642.2 427,640Z" fill="#94bc30"/>
<path d="M425,702C426,701.3 429.3,701.8 432,701.6C434.7,701.4 439.5,699.7 441,701C442.5,702.3 442.5,707.9 441,709.2C439.5,710.5 434.5,709.5 432,709C429.5,708.5 427.2,707.2 426,706C424.8,704.8 424,702.7 425,702Z" fill="#94bc30"/>
<path d="M-3,702C-1.5,701.3 3.5,701.6 6,702C8.5,702.4 11.1,703.7 12,704.5C12.9,705.3 12.5,706.8 11.5,707C10.5,707.2 8.4,705.7 6,705.5C3.6,705.3 -1.5,706.6 -3,706C-4.5,705.4 -4.5,702.7 -3,702Z" fill="#94bc30"/>
<path d="M42.6,712C43.1,710.1 45.8,709.7 47,710.7C48.2,711.7 49.7,715.1 50,718C50.3,720.9 49.7,725.3 49,728C48.3,730.7 47,734.1 46,734.4C45,734.7 43.3,732.1 43,730C42.7,727.9 44.1,725 44,722C43.9,719 42.1,713.9 42.6,712Z" fill="#bcee60"/>
<ellipse cx="46.8" cy="723.5" rx="2.2" ry="5.5" fill="#20b2aa"/>
<ellipse cx="57.8" cy="732.9" rx="3.8" ry="7.1" fill="#bcee60"/>
<ellipse cx="44.8" cy="685.9" rx="1.2" ry="3.1" fill="#20b2aa"/>
<path d="M110,656C111,654.9 113.7,653.5 116,653.2C118.3,653 122.4,653.5 124,654.5C125.6,655.5 126,657.6 125.7,659C125.4,660.4 124,662.1 122,662.7C120,663.3 116,663 114,662.5C112,662 111,661.1 110.3,660C109.6,658.9 109,657.1 110,656Z" fill="#20b2aa"/>
<path d="M115,657C115.6,655.8 117.5,654 119,654C120.5,654 123,656 123.8,657C124.6,658 124.4,659.2 123.8,660C123.2,660.8 121.4,661.8 120,662C118.6,662.2 116.3,661.8 115.5,661C114.7,660.2 114.4,658.2 115,657Z" fill="#b0e0e6"/>
<ellipse cx="106.4" cy="669.7" rx="5.9" ry="5.5" fill="#20b2aa"/>
<ellipse cx="106.4" cy="669.7" rx="5.4" ry="5.1" fill="#6495ed"/>
<ellipse cx="106.4" cy="669.7" rx="4.4" ry="3.9" fill="#4169e1"/>
<ellipse cx="106.8" cy="670" rx="3.8" ry="2.8" fill="#0000cd"/>
<path d="M140,735C141.8,733.5 146.3,733.2 150,733C153.7,732.8 159.7,732.5 162,734C164.3,735.5 164.3,739.5 164,742C163.7,744.5 162.3,747.7 160,749C157.7,750.3 153,750.2 150,750C147,749.8 143.8,749.3 142,748C140.2,746.7 139.3,744.2 139,742C138.7,739.8 138.2,736.5 140,735Z" fill="#f5e6be"/>
<ellipse cx="154.3" cy="741.9" rx="6.3" ry="1.9" fill="#94bc30"/>
<ellipse cx="146.2" cy="747.1" rx="2.8" ry="2.4" fill="#bcee60"/>
<path d="M176.7,735C177.4,734.1 180.3,733.6 182,734.4C183.7,735.2 185.8,737.7 187,740C188.2,742.3 189.3,745.5 189,748C188.7,750.5 186.8,754.2 185,755.2C183.2,756.2 178.8,755.5 178,754C177.2,752.5 180,748.3 180,746C180,743.7 178.6,741.8 178,740C177.4,738.2 176,735.9 176.7,735Z" fill="#bcee60"/>
<path d="M179,738C179.2,736.7 181.8,737 183,738C184.2,739 186,741.8 186.5,744C187,746.2 186.8,749.5 186,751C185.2,752.5 182.7,753.8 182,753C181.3,752.2 182.5,748.5 182,746C181.5,743.5 178.8,739.3 179,738Z" fill="#20b2aa"/>
<path d="M351,738C352.2,735.7 355.8,735.7 358,736C360.2,736.3 362.5,738 364,740C365.5,742 367.3,745.2 367,748C366.7,750.8 364.2,755 362,757C359.8,759 355.8,761.2 354,760C352.2,758.8 351.5,753.7 351,750C350.5,746.3 349.8,740.3 351,738Z" fill="#bcee60"/>
<ellipse cx="360" cy="757.5" rx="6" ry="4.5" fill="#20b2aa"/>
<path d="M382.5,726C383.5,724.7 388.4,724.2 390,725C391.6,725.8 392.3,728.8 392,731C391.7,733.2 389.5,736.5 388,738C386.5,739.5 383.7,740.8 383,740C382.3,739.2 384.1,735.3 384,733C383.9,730.7 381.5,727.3 382.5,726Z" fill="#bcee60"/>
<ellipse cx="388.5" cy="731" rx="2.5" ry="4" fill="#20b2aa"/>
<ellipse cx="352.6" cy="712.5" rx="2.3" ry="2.8" fill="#deb887"/>
<ellipse cx="360.2" cy="709.2" rx="3.2" ry="4.2" fill="#deb887"/>
<ellipse cx="353.1" cy="721.1" rx="4.8" ry="3.8" fill="#deb887"/>
<ellipse cx="367.2" cy="721.1" rx="3.8" ry="3.8" fill="#deb887"/>
<path d="M315,672C316,669.7 319.2,668.5 322,668C324.8,667.5 329.7,667.8 332,669C334.3,670.2 335.7,672.5 336,675C336.3,677.5 335.3,681.5 334,684C332.7,686.5 330.3,689 328,690C325.7,691 322,691.3 320,690C318,688.7 316.8,685 316,682C315.2,679 314,674.3 315,672Z" fill="#94bc30"/>
<path d="M319,674C319.7,672.2 322.2,671.7 324,671.5C325.8,671.3 328.7,671.9 330,673C331.3,674.1 332,676 332,678C332,680 331.3,683.5 330,685C328.7,686.5 325.7,687.5 324,687C322.3,686.5 320.8,684.2 320,682C319.2,679.8 318.3,675.8 319,674Z" fill="#f5e6be"/>
<ellipse cx="318.2" cy="685.5" rx="2.8" ry="4.5" fill="#20b2aa"/>
<path d="M14.7,779.3C15.1,778.3 18.1,776.3 20,775C21.9,773.7 23.6,772 26,771.5C28.4,771 32,771.5 34.7,772.3C37.4,773 39.7,774.8 42,776C44.3,777.2 47.9,778.3 48.6,779.3C49.3,780.3 47.2,781.3 46,782C44.8,782.7 43.3,783.6 41.6,783.6C39.9,783.6 38,782.4 36,782C34,781.6 31.8,781.1 29.5,781C27.2,780.9 24,781.5 22,781.5C20,781.5 18.5,781.4 17.3,781C16.1,780.6 14.2,780.3 14.7,779.3Z" fill="#94bc30"/>
<path d="M24,775.5C24.5,774.5 27,772.8 28,773C29,773.2 28.7,776.2 30,777C31.3,777.8 34.3,776.9 36,777.5C37.7,778.1 40,779.8 40,780.5C40,781.2 37.7,781.7 36,781.5C34.3,781.3 31.8,779.9 30,779.5C28.2,779.1 26,779.7 25,779C24,778.3 23.5,776.5 24,775.5Z" fill="#bcee60"/>
<path d="M-3,776C-1.8,774.8 2,775.5 4,775.8C6,776.1 8.2,777 8.7,778C9.2,779 8.1,781.1 7,782C5.9,782.9 3.7,783.4 2,783.6C0.3,783.8 -2.2,784.3 -3,783C-3.8,781.7 -4.2,777.2 -3,776Z" fill="#94bc30"/>
<path d="M-3,777.5C-2,776.7 1.5,776.8 3,777C4.5,777.2 5.8,778.2 6,779C6.2,779.8 5.5,781 4,781.5C2.5,782 -1.8,782.7 -3,782C-4.2,781.3 -4,778.3 -3,777.5Z" fill="#bcee60"/>
<path d="M53,778C53.5,777.1 54.8,775.9 56,775.8C57.2,775.7 59,777.5 60,777.5C61,777.5 60.9,775.8 62,776C63.1,776.2 66.1,777.2 66.8,778.5C67.5,779.8 66.7,782.4 66,783.5C65.3,784.6 63.5,785.6 62.5,785.4C61.5,785.1 61.1,782.4 60,782C58.9,781.6 57.2,783.2 56,783C54.8,782.8 53.5,781.8 53,781C52.5,780.2 52.5,778.9 53,778Z" fill="#94bc30"/>
<path d="M79.8,781C80,779.8 81.6,777.8 83,777C84.4,776.2 86.7,776.8 88,776.5C89.3,776.2 90,774.8 91,775C92,775.2 93.3,776.5 94,778C94.7,779.5 95.6,782 95.4,784C95.2,786 94.2,789 93,789.7C91.8,790.4 89.2,789 88,788C86.8,787 87,784.6 86,784C85,783.4 83,785 82,784.5C81,784 79.6,782.2 79.8,781Z" fill="#94bc30"/>
<path d="M81.5,780C81.8,779.2 83.9,778.1 85,778C86.1,777.9 87.7,778.7 88,779.5C88.3,780.3 87.8,782.4 87,783C86.2,783.6 83.9,783.5 83,783C82.1,782.5 81.2,780.8 81.5,780Z" fill="#bcee60"/>
<path d="M71,788.5C72,787.8 75.8,786.9 78,787C80.2,787.1 82,788.5 84,789C86,789.5 89.2,789.2 90,790C90.8,790.8 90.7,793.6 89,794C87.3,794.4 82.8,793 80,792.5C77.2,792 73.5,791.7 72,791C70.5,790.3 70,789.2 71,788.5Z" fill="#20b2aa"/>
<ellipse cx="75.8" cy="790" rx="3.2" ry="1.5" fill="#b0e0e6"/>
<path d="M97,781C97,779.6 98.7,778.2 100,777C101.3,775.8 103,774.4 105,774C107,773.6 109.8,774 112,774.5C114.2,775 116.8,775.6 118,777C119.2,778.4 119.8,781.3 119.5,783C119.2,784.7 117.9,786.2 116,787C114.1,787.8 110.7,787.8 108,787.5C105.3,787.2 101.8,786.6 100,785.5C98.2,784.4 97,782.4 97,781Z" fill="#94bc30"/>
<path d="M99,781C99.3,779.9 100.8,778.4 102,777.5C103.2,776.6 104.3,775.8 106,775.5C107.7,775.2 110.2,775.4 112,776C113.8,776.6 116.2,777.7 117,779C117.8,780.3 117.8,782.8 117,784C116.2,785.2 114.2,786.2 112,786.5C109.8,786.8 106,786.4 104,786C102,785.6 100.8,784.8 100,784C99.2,783.2 98.7,782.1 99,781Z" fill="#bcee60"/>
<path d="M102,780C102.2,778.8 103.8,777.2 105,777C106.2,776.8 108.5,777.7 109.5,778.5C110.5,779.3 111.2,781 111,782C110.8,783 109.2,784.4 108,784.8C106.8,785.2 104.5,785.1 103.5,784.3C102.5,783.5 101.8,781.2 102,780Z" fill="#b0e0e6"/>
<path d="M119,779C119.3,777.5 121.5,776.2 123,776C124.5,775.8 126.8,776.5 128,777.5C129.2,778.5 130.5,780.7 130.3,782C130.1,783.3 128.6,784.9 127,785.4C125.5,785.9 122.3,786.1 121,785C119.7,783.9 118.7,780.5 119,779Z" fill="#94bc30"/>
<ellipse cx="124.2" cy="781.5" rx="1.8" ry="2" fill="#20b2aa"/>
<ellipse cx="150.2" cy="786.4" rx="4.8" ry="2.1" fill="#94bc30"/>
<ellipse cx="166.2" cy="787.1" rx="3.8" ry="2.1" fill="#94bc30"/>
<path d="M174,787C174.2,786 176.3,784.8 178,784.5C179.7,784.2 182.5,784.4 184,785C185.5,785.6 187,787.1 187,788C187,788.9 185.7,790.1 184,790.5C182.3,790.9 178.7,791.1 177,790.5C175.3,789.9 173.8,788 174,787Z" fill="#94bc30"/>
<ellipse cx="180.8" cy="788.1" rx="3.2" ry="1.9" fill="#20b2aa"/>
<ellipse cx="10.5" cy="771" rx="10.5" ry="3" fill="#deb887"/>
<ellipse cx="45" cy="768.5" rx="5" ry="3.5" fill="#deb887"/>
<ellipse cx="91" cy="768" rx="5" ry="3" fill="#deb887"/>
<ellipse cx="5.2" cy="787" rx="5.2" ry="3" fill="#deb887"/>
<ellipse cx="47" cy="785.5" rx="5" ry="3.5" fill="#deb887"/>
<ellipse cx="132.5" cy="775.5" rx="12.5" ry="3.5" fill="#deb887"/>
<path d="M255,781C255.7,779.1 258.7,779 262,778.8C265.3,778.6 271.5,778.8 275,780C278.5,781.2 281.8,784 283,786C284.2,788 284.2,790.8 282,792C279.8,793.2 274,793.3 270,793C266,792.7 260.5,792 258,790C255.5,788 254.3,782.9 255,781Z" fill="#94bc30"/>
<path d="M260.5,783C261.7,781.9 265.4,781.4 268,781.6C270.6,781.8 274.7,782.3 276,784C277.3,785.7 277.7,790.7 276,792C274.3,793.3 268.5,792.7 266,792C263.5,791.3 261.9,789.5 261,788C260.1,786.5 259.3,784.1 260.5,783Z" fill="#20b2aa"/>
<ellipse cx="264.9" cy="787.8" rx="2.3" ry="3.2" fill="#b0e0e6"/>
<ellipse cx="274.3" cy="787.8" rx="3.3" ry="2.4" fill="#b0e0e6"/>
<ellipse cx="281.9" cy="790.1" rx="2.3" ry="1.9" fill="#6495ed"/>
<ellipse cx="293.7" cy="790" rx="5.7" ry="3" fill="#94bc30"/>
<path d="M382.5,779C384.5,777.5 390.4,775.2 395,774C399.6,772.8 405,772.2 410,772C415,771.8 419.8,772.5 425,773C430.2,773.5 438.3,773.2 441,775C443.7,776.8 443.7,782.3 441,784C438.3,785.7 431,785.2 425,785.4C419,785.6 410.8,785.1 405,785C399.2,784.9 393.7,785.3 390,785C386.3,784.7 384.2,784 383,783C381.8,782 380.5,780.5 382.5,779Z" fill="#94bc30"/>
<ellipse cx="408.9" cy="781.6" rx="3.8" ry="2.9" fill="#20b2aa"/>
<ellipse cx="420.7" cy="776.9" rx="2.3" ry="2.9" fill="#20b2aa"/>
<path d="M206,797C207.8,795.8 210.2,796 215,796C219.8,796 228.7,796.7 235,797C241.3,797.3 249.7,797 253,798C256.3,799 257.2,801.8 255,803C252.8,804.2 246.7,804.7 240,805C233.3,805.3 221,805.3 215,805C209,804.7 205.5,804.3 204,803C202.5,801.7 204.2,798.2 206,797Z" fill="#deb887"/>
<path d="M200,789C205,787.5 220,787.8 230,788C240,788.2 248.3,789.5 260,790C271.7,790.5 290,791 300,791C310,791 316.7,789 320,790C323.3,791 323.3,795.5 320,797C316.7,798.5 306.7,798.3 300,799C293.3,799.7 290,800.5 280,801C270,801.5 250.8,802 240,802C229.2,802 221.7,801.8 215,801C208.3,800.2 202.5,799 200,797C197.5,795 195,790.5 200,789Z" fill="#ffd700"/>
<path d="M221,791C223.5,789.2 231.8,789.5 240,789.5C248.2,789.5 260.3,790.6 270,791C279.7,791.4 293.3,791 298,792C302.7,793 300.2,795.7 298,797C295.8,798.3 293,799.4 285,800C277,800.6 260,800.6 250,800.6C240,800.6 229.8,801.6 225,800C220.2,798.4 218.5,792.8 221,791Z" fill="#ffa500"/>
<path d="M224.6,793C227.1,792 234.1,792.1 240,792C245.9,791.9 254.1,792.2 260,792.5C265.9,792.8 273.2,792.9 275.7,794C278.2,795.1 277.6,797.9 275,799C272.4,800.1 266.7,800.3 260,800.6C253.3,800.9 240.8,801 235,800.6C229.2,800.2 226.7,799.3 225,798C223.3,796.7 222.1,794 224.6,793Z" fill="#ff4500"/>
<path d="M236,792.5C237.5,791.2 242.5,791.9 246,792C249.5,792.1 255.2,791.8 257,793C258.8,794.2 258.5,797.7 257,799C255.5,800.3 251.3,800.5 248,800.6C244.7,800.7 239,800.9 237,799.5C235,798.1 234.5,793.8 236,792.5Z" fill="#b22222"/>
<ellipse cx="245.9" cy="795.9" rx="3.3" ry="2.9" fill="#ffb6c1"/>
<ellipse cx="267.8" cy="795" rx="5.2" ry="2" fill="#b22222"/>
<path d="M323.8,791C326.6,789.8 337.3,789.7 340.8,790C344.3,790.3 345.1,791.8 345,793C344.9,794.2 343.5,796.3 340,797C336.5,797.7 326.7,798 324,797C321.3,796 321,792.2 323.8,791Z" fill="#ffd700"/>
<path d="M371,784.5C374.2,782.6 383.5,783.5 390,783.5C396.5,783.5 401.5,784.2 410,784.5C418.5,784.8 435.8,782.4 441,785C446.2,787.6 444.5,797.2 441,800C437.5,802.8 427.7,801.5 420,802C412.3,802.5 402,803 395,803C388,803 382,803.3 378,802C374,800.7 372.2,797.9 371,795C369.8,792.1 367.8,786.4 371,784.5Z" fill="#ffa500"/>
<path d="M374,788C376.5,786.5 384,786.2 390,786C396,785.8 404.2,786.3 410,787C415.8,787.7 423.3,788.3 425,790C426.7,791.7 424.2,795.2 420,797C415.8,798.8 406.7,800.3 400,801C393.3,801.7 384.2,802 380,801C375.8,800 376,797.2 375,795C374,792.8 371.5,789.5 374,788Z" fill="#ff4500"/>
<path d="M378.7,793C379.7,791.5 383.2,791.8 386,792C388.8,792.2 394.2,792.5 395.7,794C397.2,795.5 396.3,799.4 395,801C393.7,802.6 390.5,803.4 388,803.4C385.5,803.4 381.6,802.7 380,801C378.4,799.3 377.7,794.5 378.7,793Z" fill="#b22222"/>
<ellipse cx="400.5" cy="788.2" rx="2.8" ry="2.8" fill="#b22222"/>
<ellipse cx="376.3" cy="790.6" rx="4.3" ry="2.4" fill="#ffb6c1"/>
<g transform="translate(0,710.2)" clip-path="url(#L_ant)">
<rect x="0" y="70" width="440" height="50" fill="#ff1493"/>
</g>
<path d="M249,801C251.2,797.7 256.8,799.8 262,800C267.2,800.2 273.7,801.8 280,802C286.3,802.2 293.3,801.3 300,801C306.7,800.7 312.5,800.5 320,800C327.5,799.5 338.3,797.7 345,798C351.7,798.3 354.2,800.8 360,802C365.8,803.2 373.3,804.6 380,805C386.7,805.4 393.3,805.2 400,804.4C406.7,803.6 414.4,801.6 420,800C425.6,798.4 430.1,796 433.6,795C437.1,794 439.8,789.8 441,794C442.2,798.2 473,815.7 441,820C409,824.3 281,823.2 249,820C217,816.8 246.8,804.3 249,801Z" fill="#ff1493"/>
<path d="M190,812C194.2,810.9 203,813.2 215,813.5C227,813.8 254.2,812.9 262,814C269.8,815.1 274,819 262,820C250,821 202,821.3 190,820C178,818.7 185.8,813.1 190,812Z" fill="#ff1493"/>
<path d="M-3,817C-6.2,816.7 -1,817.2 1,815C3,812.8 5.8,806 9,804C12.2,802 14.2,803.4 20,803.3C25.8,803.2 39.3,803.8 44,803.3C48.7,802.8 38.7,800.8 48,800.2C57.3,799.6 84.7,799.8 100,799.8C115.3,799.8 129.2,799.9 140,800C150.8,800.1 159.1,800 165,800.5C170.9,801 174.5,801.8 175.7,803C176.9,804.2 176.3,806.5 172,808C167.7,809.5 160.3,811 150,812C139.7,813 125,813.2 110,814C95,814.8 75,816 60,816.5C45,817 30.5,816.7 20,816.8C9.5,816.9 0.2,817.3 -3,817Z" fill="#ffb6c1"/>
<path d="M11.4,806L20,805.9L44,806L58,805.8L60,803.3L80,803.2L100,804.4L140,804.4L160,805L164.4,808.5L160,812L120,813L100,812.5L98,810.3L64,810.3L62,814L20,814L14,810Z" fill="#b22222"/>
</g><g>
<rect x="83" y="630.4" width="37" height="1.8" fill="#94bc30" opacity="0.7"/>
<rect x="124" y="628.8" width="28" height="2.8" fill="#94bc30" opacity="1"/>
<rect x="180" y="629" width="9.4" height="2.4" fill="#94bc30" opacity="1"/>
<rect x="198" y="623.3" width="23" height="2.2" fill="#94bc30" opacity="1"/>
<rect x="257" y="629.5" width="32" height="1.5" fill="#94bc30" opacity="0.5"/>
<rect x="322" y="634.3" width="16.5" height="6.7" rx="2" fill="#fff"/>
<path d="M194.6,806 L200,803.6 L220,804 L240,804.5 L250,806 L250,810 L247,813.8 L220,813.5 L200,812 L194.6,810Z" fill="#fff"/>
<path d="M358.8,791 L365,789.2 L372,790 L373,794 L378.7,795 V803 L368,804.4 H358.8 L361,799Z" fill="#fff"/>
<rect x="342.7" y="794" width="5.7" height="4.7" fill="#fff"/>
<rect x="358.8" y="804.4" width="9.5" height="2.8" fill="#fff"/>
<rect x="24.6" y="628.4" width="6.4" height="5.6" fill="#fff"/>
<rect x="212" y="631.2" width="6.5" height="6.3" fill="#fff"/>
</g>
</g>
<g clip-path="url(#fc2)"><use href="#coast" transform="translate(0,710.2)" fill="none" stroke="#000" stroke-width="0.9" stroke-linejoin="round"/></g>
<path d="M0.5,819 V601.5 H437.4 V819" fill="none" stroke="#555" stroke-width="1.1"/>
<path d="M0,819.2 H437.9" fill="none" stroke="#777" stroke-width="1.3"/>
<rect x="515.5" y="90" width="26.2" height="10.8" fill="#ff1493" stroke="#222" stroke-width="0.7"/>
<rect x="515.5" y="100.8" width="26.2" height="10.8" fill="#ffb6c1" stroke="#222" stroke-width="0.7"/>
<rect x="515.5" y="111.6" width="26.2" height="10.8" fill="#b22222" stroke="#222" stroke-width="0.7"/>
<rect x="515.5" y="122.3" width="26.2" height="10.8" fill="#ff4500" stroke="#222" stroke-width="0.7"/>
<rect x="515.5" y="133.1" width="26.2" height="10.8" fill="#ffa500" stroke="#222" stroke-width="0.7"/>
<rect x="515.5" y="143.9" width="26.2" height="10.8" fill="#ffd700" stroke="#222" stroke-width="0.7"/>
<rect x="515.5" y="154.7" width="26.2" height="10.8" fill="#deb887" stroke="#222" stroke-width="0.7"/>
<rect x="515.5" y="165.5" width="26.2" height="10.8" fill="#f5e6be" stroke="#222" stroke-width="0.7"/>
<rect x="515.5" y="176.2" width="26.2" height="10.8" fill="#94bc30" stroke="#222" stroke-width="0.7"/>
<rect x="515.5" y="187" width="26.2" height="10.8" fill="#bcee60" stroke="#222" stroke-width="0.7"/>
<rect x="515.5" y="197.8" width="26.2" height="10.8" fill="#20b2aa" stroke="#222" stroke-width="0.7"/>
<rect x="515.5" y="208.6" width="26.2" height="10.8" fill="#b0e0e6" stroke="#222" stroke-width="0.7"/>
<rect x="515.5" y="219.4" width="26.2" height="10.8" fill="#6495ed" stroke="#222" stroke-width="0.7"/>
<rect x="515.5" y="230.1" width="26.2" height="10.8" fill="#4169e1" stroke="#222" stroke-width="0.7"/>
<rect x="515.5" y="240.9" width="26.2" height="10.8" fill="#0000cd" stroke="#222" stroke-width="0.7"/>
<rect x="515.5" y="251.7" width="26.2" height="10.8" fill="#9370db" stroke="#222" stroke-width="0.7"/>
<text x="558.7" y="104.3" text-anchor="middle" font-family="Liberation Serif, serif" font-size="10.4" letter-spacing="0.9" fill="#000">440</text>
<text x="558.7" y="115.1" text-anchor="middle" font-family="Liberation Serif, serif" font-size="10.4" letter-spacing="0.9" fill="#000">400</text>
<text x="558.7" y="125.8" text-anchor="middle" font-family="Liberation Serif, serif" font-size="10.4" letter-spacing="0.9" fill="#000">360</text>
<text x="558.7" y="136.6" text-anchor="middle" font-family="Liberation Serif, serif" font-size="10.4" letter-spacing="0.9" fill="#000">320</text>
<text x="558.7" y="147.4" text-anchor="middle" font-family="Liberation Serif, serif" font-size="10.4" letter-spacing="0.9" fill="#000">280</text>
<text x="558.7" y="158.2" text-anchor="middle" font-family="Liberation Serif, serif" font-size="10.4" letter-spacing="0.9" fill="#000">240</text>
<text x="558.7" y="169" text-anchor="middle" font-family="Liberation Serif, serif" font-size="10.4" letter-spacing="0.9" fill="#000">200</text>
<text x="558.7" y="179.7" text-anchor="middle" font-family="Liberation Serif, serif" font-size="10.4" letter-spacing="0.9" fill="#000">175</text>
<text x="558.7" y="190.5" text-anchor="middle" font-family="Liberation Serif, serif" font-size="10.4" letter-spacing="0.9" fill="#000">150</text>
<text x="558.7" y="201.3" text-anchor="middle" font-family="Liberation Serif, serif" font-size="10.4" letter-spacing="0.9" fill="#000">125</text>
<text x="558.7" y="212.1" text-anchor="middle" font-family="Liberation Serif, serif" font-size="10.4" letter-spacing="0.9" fill="#000">100</text>
<text x="558.7" y="222.9" text-anchor="middle" font-family="Liberation Serif, serif" font-size="10.4" letter-spacing="0.9" fill="#000">75</text>
<text x="558.7" y="233.6" text-anchor="middle" font-family="Liberation Serif, serif" font-size="10.4" letter-spacing="0.9" fill="#000">50</text>
<text x="558.7" y="244.4" text-anchor="middle" font-family="Liberation Serif, serif" font-size="10.4" letter-spacing="0.9" fill="#000">25</text>
<text x="558.7" y="255.2" text-anchor="middle" font-family="Liberation Serif, serif" font-size="10.4" letter-spacing="0.9" fill="#000">0</text>
<rect x="517.4" y="366.1" width="26.2" height="10.8" fill="#ff1493" stroke="#222" stroke-width="0.7"/>
<rect x="517.4" y="376.9" width="26.2" height="10.8" fill="#ffb6c1" stroke="#222" stroke-width="0.7"/>
<rect x="517.4" y="387.7" width="26.2" height="10.8" fill="#b22222" stroke="#222" stroke-width="0.7"/>
<rect x="517.4" y="398.4" width="26.2" height="10.8" fill="#ff4500" stroke="#222" stroke-width="0.7"/>
<rect x="517.4" y="409.2" width="26.2" height="10.8" fill="#ffa500" stroke="#222" stroke-width="0.7"/>
<rect x="517.4" y="420" width="26.2" height="10.8" fill="#ffd700" stroke="#222" stroke-width="0.7"/>
<rect x="517.4" y="430.8" width="26.2" height="10.8" fill="#deb887" stroke="#222" stroke-width="0.7"/>
<rect x="517.4" y="441.6" width="26.2" height="10.8" fill="#f5e6be" stroke="#222" stroke-width="0.7"/>
<rect x="517.4" y="452.3" width="26.2" height="10.8" fill="#94bc30" stroke="#222" stroke-width="0.7"/>
<rect x="517.4" y="463.1" width="26.2" height="10.8" fill="#bcee60" stroke="#222" stroke-width="0.7"/>
<rect x="517.4" y="473.9" width="26.2" height="10.8" fill="#20b2aa" stroke="#222" stroke-width="0.7"/>
<rect x="517.4" y="484.7" width="26.2" height="10.8" fill="#b0e0e6" stroke="#222" stroke-width="0.7"/>
<rect x="517.4" y="495.5" width="26.2" height="10.8" fill="#6495ed" stroke="#222" stroke-width="0.7"/>
<rect x="517.4" y="506.2" width="26.2" height="10.8" fill="#4169e1" stroke="#222" stroke-width="0.7"/>
<rect x="517.4" y="517" width="26.2" height="10.8" fill="#0000cd" stroke="#222" stroke-width="0.7"/>
<rect x="517.4" y="527.8" width="26.2" height="10.8" fill="#9370db" stroke="#222" stroke-width="0.7"/>
<text x="560.5" y="380.4" text-anchor="middle" font-family="Liberation Serif, serif" font-size="10.4" letter-spacing="0.9" fill="#000">440</text>
<text x="560.5" y="391.2" text-anchor="middle" font-family="Liberation Serif, serif" font-size="10.4" letter-spacing="0.9" fill="#000">400</text>
<text x="560.5" y="401.9" text-anchor="middle" font-family="Liberation Serif, serif" font-size="10.4" letter-spacing="0.9" fill="#000">360</text>
<text x="560.5" y="412.7" text-anchor="middle" font-family="Liberation Serif, serif" font-size="10.4" letter-spacing="0.9" fill="#000">320</text>
<text x="560.5" y="423.5" text-anchor="middle" font-family="Liberation Serif, serif" font-size="10.4" letter-spacing="0.9" fill="#000">280</text>
<text x="560.5" y="434.3" text-anchor="middle" font-family="Liberation Serif, serif" font-size="10.4" letter-spacing="0.9" fill="#000">240</text>
<text x="560.5" y="445.1" text-anchor="middle" font-family="Liberation Serif, serif" font-size="10.4" letter-spacing="0.9" fill="#000">200</text>
<text x="560.5" y="455.8" text-anchor="middle" font-family="Liberation Serif, serif" font-size="10.4" letter-spacing="0.9" fill="#000">175</text>
<text x="560.5" y="466.6" text-anchor="middle" font-family="Liberation Serif, serif" font-size="10.4" letter-spacing="0.9" fill="#000">150</text>
<text x="560.5" y="477.4" text-anchor="middle" font-family="Liberation Serif, serif" font-size="10.4" letter-spacing="0.9" fill="#000">125</text>
<text x="560.5" y="488.2" text-anchor="middle" font-family="Liberation Serif, serif" font-size="10.4" letter-spacing="0.9" fill="#000">100</text>
<text x="560.5" y="499" text-anchor="middle" font-family="Liberation Serif, serif" font-size="10.4" letter-spacing="0.9" fill="#000">75</text>
<text x="560.5" y="509.7" text-anchor="middle" font-family="Liberation Serif, serif" font-size="10.4" letter-spacing="0.9" fill="#000">50</text>
<text x="560.5" y="520.5" text-anchor="middle" font-family="Liberation Serif, serif" font-size="10.4" letter-spacing="0.9" fill="#000">25</text>
<text x="560.5" y="531.3" text-anchor="middle" font-family="Liberation Serif, serif" font-size="10.4" letter-spacing="0.9" fill="#000">0</text>
<rect x="517.3" y="643" width="26.3" height="10.8" fill="#ff1493" stroke="#222" stroke-width="0.7"/>
<rect x="517.3" y="653.8" width="26.3" height="10.8" fill="#ffb6c1" stroke="#222" stroke-width="0.7"/>
<rect x="517.3" y="664.6" width="26.3" height="10.8" fill="#b22222" stroke="#222" stroke-width="0.7"/>
<rect x="517.3" y="675.3" width="26.3" height="10.8" fill="#ff4500" stroke="#222" stroke-width="0.7"/>
<rect x="517.3" y="686.1" width="26.3" height="10.8" fill="#ffa500" stroke="#222" stroke-width="0.7"/>
<rect x="517.3" y="696.9" width="26.3" height="10.8" fill="#ffd700" stroke="#222" stroke-width="0.7"/>
<rect x="517.3" y="707.7" width="26.3" height="10.8" fill="#deb887" stroke="#222" stroke-width="0.7"/>
<rect x="517.3" y="718.5" width="26.3" height="10.8" fill="#f5e6be" stroke="#222" stroke-width="0.7"/>
<rect x="517.3" y="729.2" width="26.3" height="10.8" fill="#94bc30" stroke="#222" stroke-width="0.7"/>
<rect x="517.3" y="740" width="26.3" height="10.8" fill="#bcee60" stroke="#222" stroke-width="0.7"/>
<rect x="517.3" y="750.8" width="26.3" height="10.8" fill="#20b2aa" stroke="#222" stroke-width="0.7"/>
<rect x="517.3" y="761.6" width="26.3" height="10.8" fill="#b0e0e6" stroke="#222" stroke-width="0.7"/>
<rect x="517.3" y="772.4" width="26.3" height="10.8" fill="#6495ed" stroke="#222" stroke-width="0.7"/>
<rect x="517.3" y="783.1" width="26.3" height="10.8" fill="#4169e1" stroke="#222" stroke-width="0.7"/>
<rect x="517.3" y="793.9" width="26.3" height="10.8" fill="#0000cd" stroke="#222" stroke-width="0.7"/>
<rect x="517.3" y="804.7" width="26.3" height="10.8" fill="#9370db" stroke="#222" stroke-width="0.7"/>
<text x="561.5" y="657.3" text-anchor="middle" font-family="Liberation Serif, serif" font-size="10.4" letter-spacing="0.9" fill="#000">80</text>
<text x="561.5" y="668.1" text-anchor="middle" font-family="Liberation Serif, serif" font-size="10.4" letter-spacing="0.9" fill="#000">60</text>
<text x="561.5" y="678.8" text-anchor="middle" font-family="Liberation Serif, serif" font-size="10.4" letter-spacing="0.9" fill="#000">40</text>
<text x="561.5" y="689.6" text-anchor="middle" font-family="Liberation Serif, serif" font-size="10.4" letter-spacing="0.9" fill="#000">30</text>
<text x="561.5" y="700.4" text-anchor="middle" font-family="Liberation Serif, serif" font-size="10.4" letter-spacing="0.9" fill="#000">20</text>
<text x="561.5" y="711.2" text-anchor="middle" font-family="Liberation Serif, serif" font-size="10.4" letter-spacing="0.9" fill="#000">10</text>
<text x="561.5" y="722" text-anchor="middle" font-family="Liberation Serif, serif" font-size="10.4" letter-spacing="0.9" fill="#000">5</text>
<text x="561.5" y="732.7" text-anchor="middle" font-family="Liberation Serif, serif" font-size="10.4" letter-spacing="0.9" fill="#000">0</text>
<text x="561.5" y="743.5" text-anchor="middle" font-family="Liberation Serif, serif" font-size="10.4" letter-spacing="0.9" fill="#000">−5</text>
<text x="561.5" y="754.3" text-anchor="middle" font-family="Liberation Serif, serif" font-size="10.4" letter-spacing="0.9" fill="#000">−10</text>
<text x="561.5" y="765.1" text-anchor="middle" font-family="Liberation Serif, serif" font-size="10.4" letter-spacing="0.9" fill="#000">−20</text>
<text x="561.5" y="775.9" text-anchor="middle" font-family="Liberation Serif, serif" font-size="10.4" letter-spacing="0.9" fill="#000">−30</text>
<text x="561.5" y="786.6" text-anchor="middle" font-family="Liberation Serif, serif" font-size="10.4" letter-spacing="0.9" fill="#000">−40</text>
<text x="561.5" y="797.4" text-anchor="middle" font-family="Liberation Serif, serif" font-size="10.4" letter-spacing="0.9" fill="#000">−60</text>
<text x="561.5" y="808.2" text-anchor="middle" font-family="Liberation Serif, serif" font-size="10.4" letter-spacing="0.9" fill="#000">−80</text>
<text x="138.6" y="11.4" textLength="161.8" lengthAdjust="spacing" font-family="Liberation Sans, sans-serif" font-size="14" font-weight="normal" fill="#000" xml:space="preserve">b01.01ibis (yrs 975-999)</text>
<text x="198.6" y="289.4" textLength="40" lengthAdjust="spacing" font-family="Liberation Sans, sans-serif" font-size="14" font-weight="normal" fill="#000" xml:space="preserve">ERBE</text>
<text x="157.6" y="566.2" textLength="121.8" lengthAdjust="spacing" font-family="Liberation Sans, sans-serif" font-size="14" font-weight="normal" fill="#000" xml:space="preserve">b01.01ibis - ERBE</text>
<text x="508.3" y="29.1" textLength="46.9" lengthAdjust="spacing" font-family="Liberation Sans, sans-serif" font-size="25.7" font-weight="bold" fill="#000" xml:space="preserve">DJF</text>
<text x="0.8" y="34.5" textLength="24.2" lengthAdjust="spacingAndGlyphs" letter-spacing="0.7" font-family="Liberation Serif, serif" font-size="13.3" font-weight="normal" fill="#000" xml:space="preserve">TOA</text>
<text x="32" y="34.5" textLength="58.3" lengthAdjust="spacingAndGlyphs" letter-spacing="0.7" font-family="Liberation Serif, serif" font-size="13.3" font-weight="normal" fill="#000" xml:space="preserve">clearsky</text>
<text x="98.7" y="34.5" textLength="20.1" lengthAdjust="spacingAndGlyphs" letter-spacing="0.7" font-family="Liberation Serif, serif" font-size="13.3" font-weight="normal" fill="#000" xml:space="preserve">net</text>
<text x="128.5" y="34.5" textLength="16.8" lengthAdjust="spacingAndGlyphs" letter-spacing="0.7" font-family="Liberation Serif, serif" font-size="13.3" font-weight="normal" fill="#000" xml:space="preserve">SW</text>
<text x="151.2" y="34.5" textLength="28.4" lengthAdjust="spacingAndGlyphs" letter-spacing="0.7" font-family="Liberation Serif, serif" font-size="13.3" font-weight="normal" fill="#000" xml:space="preserve">flux</text>
<text x="167.6" y="38" textLength="48.4" lengthAdjust="spacingAndGlyphs" letter-spacing="0.7" font-family="Liberation Serif, serif" font-size="15" font-weight="normal" fill="#000" xml:space="preserve">mean=</text>
<text x="225.2" y="38" textLength="44.6" lengthAdjust="spacingAndGlyphs" letter-spacing="0.7" font-family="Liberation Serif, serif" font-size="15" font-weight="normal" fill="#000" xml:space="preserve">307.84</text>
<text x="340.2" y="34.7" textLength="98.2" lengthAdjust="spacingAndGlyphs" letter-spacing="0.7" font-family="Liberation Serif, serif" font-size="13" font-weight="normal" fill="#000" xml:space="preserve">W/m~S~2~N~</text>
<text x="0.8" y="310.5" textLength="24.2" lengthAdjust="spacingAndGlyphs" letter-spacing="0.7" font-family="Liberation Serif, serif" font-size="13.3" font-weight="normal" fill="#000" xml:space="preserve">TOA</text>
<text x="32" y="310.5" textLength="58.3" lengthAdjust="spacingAndGlyphs" letter-spacing="0.7" font-family="Liberation Serif, serif" font-size="13.3" font-weight="normal" fill="#000" xml:space="preserve">clearsky</text>
<text x="98.7" y="310.5" textLength="20.1" lengthAdjust="spacingAndGlyphs" letter-spacing="0.7" font-family="Liberation Serif, serif" font-size="13.3" font-weight="normal" fill="#000" xml:space="preserve">net</text>
<text x="128.5" y="310.5" textLength="16.8" lengthAdjust="spacingAndGlyphs" letter-spacing="0.7" font-family="Liberation Serif, serif" font-size="13.3" font-weight="normal" fill="#000" xml:space="preserve">SW</text>
<text x="151.2" y="310.5" textLength="28.4" lengthAdjust="spacingAndGlyphs" letter-spacing="0.7" font-family="Liberation Serif, serif" font-size="13.3" font-weight="normal" fill="#000" xml:space="preserve">flux</text>
<text x="167.6" y="314" textLength="48.4" lengthAdjust="spacingAndGlyphs" letter-spacing="0.7" font-family="Liberation Serif, serif" font-size="15" font-weight="normal" fill="#000" xml:space="preserve">mean=</text>
<text x="225.2" y="314" textLength="44.6" lengthAdjust="spacingAndGlyphs" letter-spacing="0.7" font-family="Liberation Serif, serif" font-size="15" font-weight="normal" fill="#000" xml:space="preserve">296.22</text>
<text x="340.2" y="310.7" textLength="98.2" lengthAdjust="spacingAndGlyphs" letter-spacing="0.7" font-family="Liberation Serif, serif" font-size="13" font-weight="normal" fill="#000" xml:space="preserve">W/m~S~2~N~</text>
<text x="0" y="590.9" textLength="38.2" lengthAdjust="spacingAndGlyphs" letter-spacing="0.7" font-family="Liberation Serif, serif" font-size="14.4" font-weight="normal" fill="#000" xml:space="preserve">mean</text>
<text x="46.5" y="590.9" textLength="8" lengthAdjust="spacingAndGlyphs" letter-spacing="0.7" font-family="Liberation Serif, serif" font-size="14.4" font-weight="normal" fill="#000" xml:space="preserve">=</text>
<text x="70.5" y="590.9" textLength="35.3" lengthAdjust="spacingAndGlyphs" letter-spacing="0.7" font-family="Liberation Serif, serif" font-size="14.4" font-weight="normal" fill="#000" xml:space="preserve">11.71</text>
<text x="167.5" y="590.5" textLength="35.7" lengthAdjust="spacingAndGlyphs" letter-spacing="0.7" font-family="Liberation Serif, serif" font-size="14.4" font-weight="normal" fill="#000" xml:space="preserve">rmse</text>
<text x="210.4" y="590.5" textLength="8.4" lengthAdjust="spacingAndGlyphs" letter-spacing="0.7" font-family="Liberation Serif, serif" font-size="14.4" font-weight="normal" fill="#000" xml:space="preserve">=</text>
<text x="234.3" y="590.5" textLength="35.8" lengthAdjust="spacingAndGlyphs" letter-spacing="0.7" font-family="Liberation Serif, serif" font-size="14.4" font-weight="normal" fill="#000" xml:space="preserve">27.31</text>
<text x="340.2" y="587.7" textLength="98.2" lengthAdjust="spacingAndGlyphs" letter-spacing="0.7" font-family="Liberation Serif, serif" font-size="13" font-weight="normal" fill="#000" xml:space="preserve">W/m~S~2~N~</text>
<text x="453.6" y="72.4" textLength="21" lengthAdjust="spacingAndGlyphs" letter-spacing="0.7" font-family="Liberation Serif, serif" font-size="13.2" font-weight="normal" fill="#000" xml:space="preserve">Min</text>
<text x="481.3" y="72.4" textLength="8" lengthAdjust="spacingAndGlyphs" letter-spacing="0.7" font-family="Liberation Serif, serif" font-size="13.2" font-weight="normal" fill="#000" xml:space="preserve">=</text>
<text x="510.2" y="72.4" textLength="25" lengthAdjust="spacingAndGlyphs" letter-spacing="0.7" font-family="Liberation Serif, serif" font-size="13.2" font-weight="normal" fill="#000" xml:space="preserve">0.00</text>
<text x="542.3" y="72.4" textLength="23.5" lengthAdjust="spacingAndGlyphs" letter-spacing="0.7" font-family="Liberation Serif, serif" font-size="13.2" font-weight="normal" fill="#000" xml:space="preserve">Max</text>
<text x="573.1" y="72.4" textLength="8.3" lengthAdjust="spacingAndGlyphs" letter-spacing="0.7" font-family="Liberation Serif, serif" font-size="13.2" font-weight="normal" fill="#000" xml:space="preserve">=</text>
<text x="588.2" y="72.4" textLength="40" lengthAdjust="spacingAndGlyphs" letter-spacing="0.7" font-family="Liberation Serif, serif" font-size="13.2" font-weight="normal" fill="#000" xml:space="preserve">447.63</text>
<text x="454.3" y="348.4" textLength="20.7" lengthAdjust="spacingAndGlyphs" letter-spacing="0.7" font-family="Liberation Serif, serif" font-size="13.2" font-weight="normal" fill="#000" xml:space="preserve">Min</text>
<text x="483" y="348.4" textLength="7.5" lengthAdjust="spacingAndGlyphs" letter-spacing="0.7" font-family="Liberation Serif, serif" font-size="13.2" font-weight="normal" fill="#000" xml:space="preserve">=</text>
<text x="505.3" y="348.4" textLength="33.9" lengthAdjust="spacingAndGlyphs" letter-spacing="0.7" font-family="Liberation Serif, serif" font-size="13.2" font-weight="normal" fill="#000" xml:space="preserve">−0.25</text>
<text x="546.2" y="348.4" textLength="22.8" lengthAdjust="spacingAndGlyphs" letter-spacing="0.7" font-family="Liberation Serif, serif" font-size="13.2" font-weight="normal" fill="#000" xml:space="preserve">Max</text>
<text x="576.2" y="348.4" textLength="7.6" lengthAdjust="spacingAndGlyphs" letter-spacing="0.7" font-family="Liberation Serif, serif" font-size="13.2" font-weight="normal" fill="#000" xml:space="preserve">=</text>
<text x="591.5" y="348.4" textLength="40.7" lengthAdjust="spacingAndGlyphs" letter-spacing="0.7" font-family="Liberation Serif, serif" font-size="13.2" font-weight="normal" fill="#000" xml:space="preserve">439.25</text>
<text x="454.3" y="625.4" textLength="20.7" lengthAdjust="spacingAndGlyphs" letter-spacing="0.7" font-family="Liberation Serif, serif" font-size="13.2" font-weight="normal" fill="#000" xml:space="preserve">Min</text>
<text x="483" y="625.4" textLength="7.5" lengthAdjust="spacingAndGlyphs" letter-spacing="0.7" font-family="Liberation Serif, serif" font-size="13.2" font-weight="normal" fill="#000" xml:space="preserve">=</text>
<text x="498.5" y="625.4" textLength="42.2" lengthAdjust="spacingAndGlyphs" letter-spacing="0.7" font-family="Liberation Serif, serif" font-size="13.2" font-weight="normal" fill="#000" xml:space="preserve">−80.70</text>
<text x="547.7" y="625.4" textLength="22.8" lengthAdjust="spacingAndGlyphs" letter-spacing="0.7" font-family="Liberation Serif, serif" font-size="13.2" font-weight="normal" fill="#000" xml:space="preserve">Max</text>
<text x="578.1" y="625.4" textLength="7.2" lengthAdjust="spacingAndGlyphs" letter-spacing="0.7" font-family="Liberation Serif, serif" font-size="13.2" font-weight="normal" fill="#000" xml:space="preserve">=</text>
<text x="593" y="625.4" textLength="40.7" lengthAdjust="spacingAndGlyphs" letter-spacing="0.7" font-family="Liberation Serif, serif" font-size="13.2" font-weight="normal" fill="#000" xml:space="preserve">232.02</text></svg></body></html>
